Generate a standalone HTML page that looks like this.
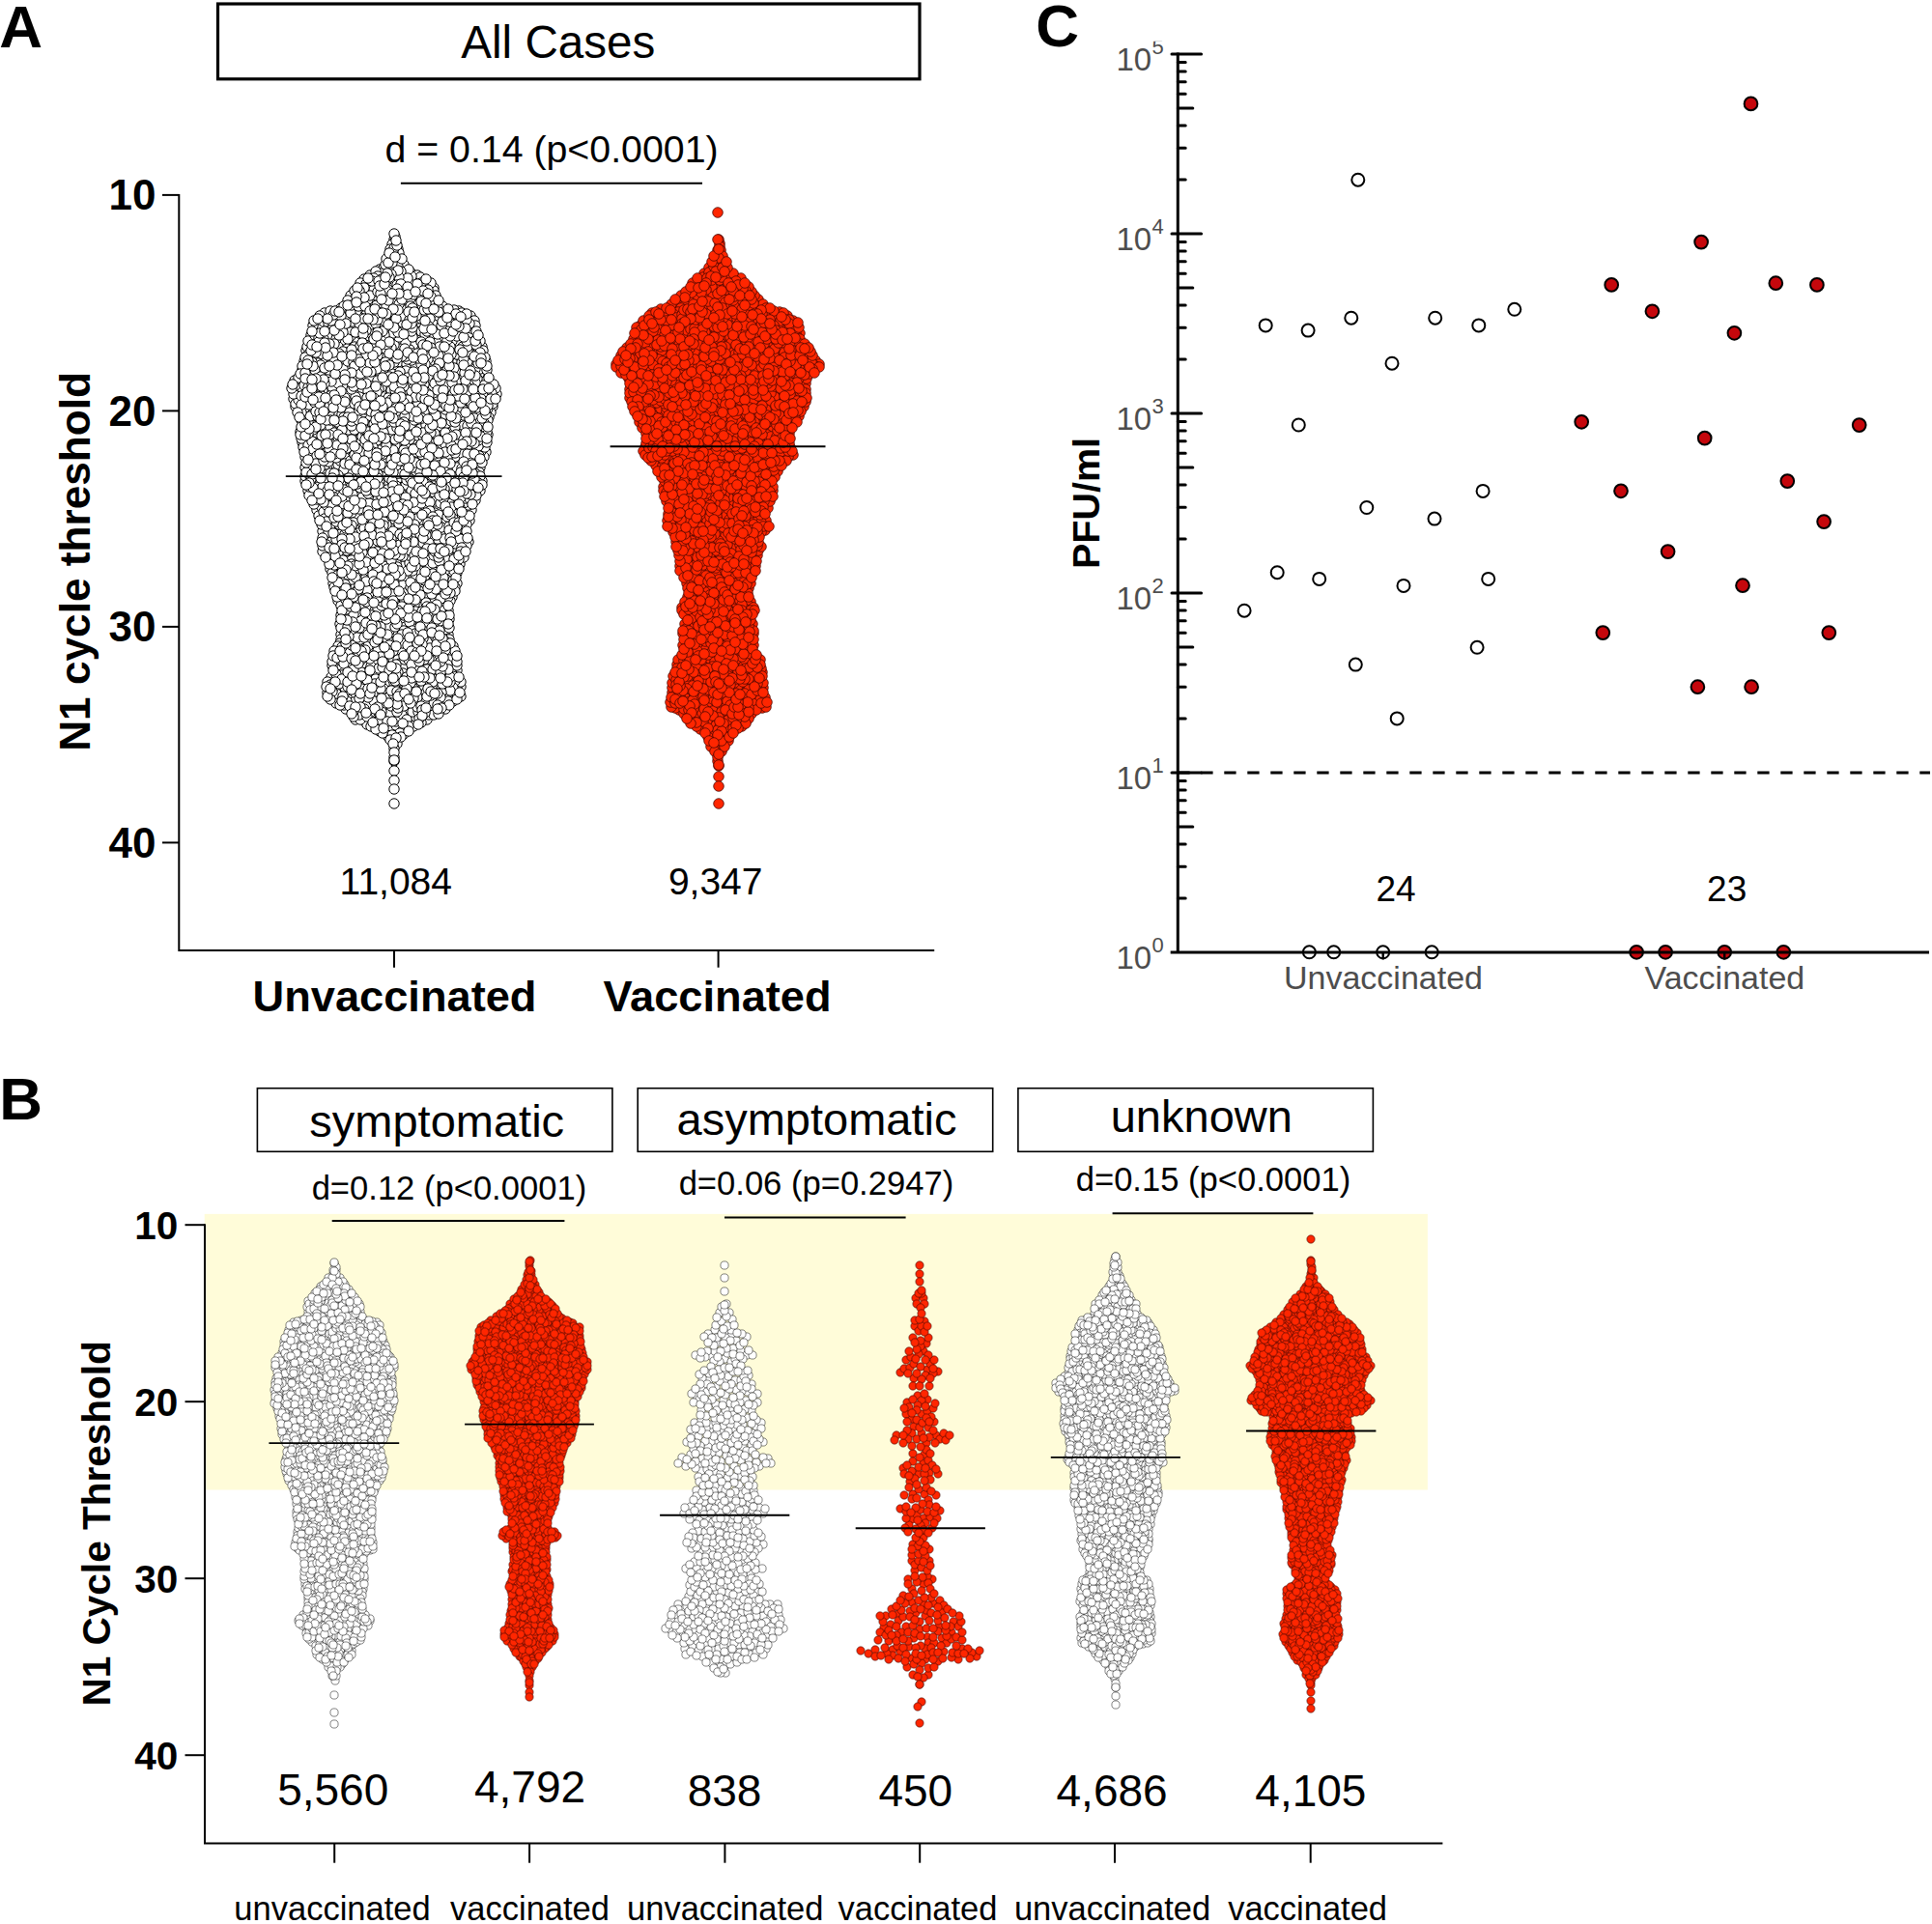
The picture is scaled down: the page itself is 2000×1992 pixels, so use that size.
<!DOCTYPE html>
<html><head><meta charset="utf-8"><title>Figure</title>
<style>html,body{margin:0;padding:0;background:#fff}svg{display:block;font-family:"Liberation Sans",sans-serif}.b{font-weight:bold}.m{text-anchor:middle}.e{text-anchor:end}.g{fill:#4d4d4d}.ax{stroke:#000;fill:none}</style></head><body>
<svg width="2000" height="1992" viewBox="0 0 2000 1992">
<rect width="2000" height="1992" fill="#fff"/>
<defs>
<marker id="mw" markerUnits="userSpaceOnUse" markerWidth="14" markerHeight="14" refX="7" refY="7" overflow="visible"><circle cx="7" cy="7" r="5.2" fill="#fff" stroke="#000" stroke-width="1.0"/></marker>
<marker id="mr" markerUnits="userSpaceOnUse" markerWidth="14" markerHeight="14" refX="7" refY="7" overflow="visible"><circle cx="7" cy="7" r="5.3" fill="#ff2600" stroke="#430600" stroke-width="0.75"/></marker>
<marker id="nw" markerUnits="userSpaceOnUse" markerWidth="12" markerHeight="12" refX="6" refY="6" overflow="visible"><circle cx="6" cy="6" r="4.1" fill="#fff" stroke="#0a0a0a" stroke-width="0.5"/></marker>
<marker id="nr" markerUnits="userSpaceOnUse" markerWidth="12" markerHeight="12" refX="6" refY="6" overflow="visible"><circle cx="6" cy="6" r="4.15" fill="#ff2600" stroke="#2e0400" stroke-width="0.55"/></marker>
<clipPath id="c5"><rect x="1185" y="42.8" width="30" height="20"/></clipPath>
</defs>
<rect x="211.7" y="1256.9" width="1266.2" height="285.6" fill="#fffcd9"/>
<polyline fill="none" stroke="none" marker-start="url(#mw)" marker-mid="url(#mw)" marker-end="url(#mw)" points="454,474 367,458 427,662 384,586 405,642 354,491 380,428 461,435 460,538 416,710 435,390 393,508 448,433 397,339 425,282 502,391 466,553 423,293 402,427 485,381 316,421 378,639 305,394 499,422 349,419 343,701 443,493 400,514 440,587 309,399 386,513 444,595 408,566 491,509 452,585 397,359 492,518 440,336 434,524 371,645 373,511 376,408 414,699 487,349 453,501 441,536 468,573 340,572 348,485 428,568 350,424 363,415 440,293 311,395 486,429 337,533 436,416 407,494 424,382 413,486 448,372 469,376 449,298 399,399 325,433 432,711 393,529 388,653 428,423 472,518 448,551 411,271 452,489 440,436 458,581 370,677 442,385 503,468 460,723 452,547 344,360 502,414 459,379 472,454 435,709 451,341 307,403 329,524 501,473 338,557 410,397 431,347 423,342 381,606 459,624 363,355 389,591 419,278 445,365 315,374 343,537 421,487 414,752 452,436 393,687 360,399 475,471 468,618 447,599 479,473 394,349 383,422 353,357 383,481 445,524 384,699 428,752 412,325 405,646 400,370 499,359 343,481 407,279 381,380 465,565 439,505 350,507 457,432 444,510 408,381 484,495 395,589 337,418 354,716 401,307 335,371 444,350 364,640 406,351 343,485 439,464 456,450 377,668 475,460 377,648 319,383 434,439 415,431 388,657 398,471 416,482 392,312 414,380 369,432 340,415 461,548 372,440 466,592 345,431 413,560 473,604 421,692 454,400 389,554 429,443 471,330 476,481 426,460 467,719 323,449 326,409 386,730 311,402 493,362 391,683 343,350 393,565 429,457 351,441 423,410 435,603 367,603 381,632 398,681 379,321 494,431 441,675 396,525 450,646 443,450 413,466 382,599 430,646 344,720 349,588 374,461 360,502 346,549 308,410 326,500 410,545 423,599 408,248 458,483 488,424 376,579 442,558 364,575 487,353 424,544 368,450 403,457 412,394 444,730 400,704 447,608 368,523 430,602 353,637 482,532 459,712 396,381 351,695 393,757 428,732 348,592 398,729 425,480 422,548 384,432 463,561 338,569 365,497 472,717 383,285 477,553 306,421 399,404 358,576 382,345 374,433 357,673 402,763 437,688 412,533 343,460 343,455 452,696 375,707 400,718 472,479 351,458 489,393 424,516 345,529 318,396 361,383 460,355 474,421 481,399 422,595 456,425 322,347 351,431 402,700 402,448 379,391 445,726 371,349 404,491 356,708 461,444 390,609 410,408 442,745 466,441 445,549 346,442 446,571 316,498 359,638 413,310 422,327 359,468 403,685 430,642 373,325 417,611 392,487 449,413 442,402 475,322 514,408 439,543 357,425 445,622 467,476 328,369 476,445 436,585 458,471 313,383 348,544 365,508 477,465 367,427 398,739 404,291 497,353 331,358 381,557 348,334 422,650 451,378 336,462 376,599 434,406 437,529 484,528 407,682 406,368 396,458 419,303 442,686 483,437 476,584 443,575 334,571 361,538 360,457 482,490 363,306 411,495 469,482 368,745 433,693 439,614 328,528 405,419 448,666 402,753 433,529 456,382 344,405 358,536 338,527 445,425 362,633 364,650 480,543 433,360 466,622 381,314 444,394 363,473 489,399 390,390 400,523 408,578 385,449 418,380 393,279 329,453 489,345 321,453 458,373 419,619 367,301 478,562 494,403 489,362 404,585 513,402 426,378 348,404 330,373 503,387 333,430 433,541 415,492 398,610 411,433 387,567 393,520 462,440 431,289 426,490 480,527 426,416 443,466 415,694 330,534 409,363 343,556 346,564 399,493 367,569 416,373 350,513 449,545 450,359 331,397 386,550 378,716 478,395 450,603 368,722 351,487 432,285 375,656 435,350 383,725 335,347 434,581 392,437 412,579 357,355 488,528 334,550 375,314 449,685 451,350 468,372 317,455 377,289 431,334 354,570 384,317 362,724 510,421 413,335 316,484 369,639 422,611 374,533 340,335 382,401 372,670 446,498 433,458 471,487 425,446 388,386 426,353 340,498 466,541 360,601 368,622 350,393 337,407 340,438 402,294 377,719 500,363 503,374 399,354 450,460 457,363 352,414 331,501 376,320 377,522 350,371 504,407 476,495 368,690 395,498 346,452 394,334 419,408 325,387 361,671 358,693 401,321 362,735 409,309 420,633 471,524 420,573 462,595 394,364 395,476 386,518 366,675 424,665 376,608 394,407 392,512 499,429 318,465 402,743 412,357 437,606 397,278 474,374 419,450 404,619 409,286 313,379 497,508 393,702 457,348 473,694 423,357 440,521 416,648 420,283 422,731 371,693 340,372 396,674 378,372 384,733 502,370 461,335 421,459 316,473 377,468 370,588 498,391 366,489 364,516 372,602 485,477 411,676 416,714 415,745 384,676 354,692 462,698 475,440 313,458 439,610 434,380 490,374 491,486 387,312 373,666 412,519 378,685 356,372 437,680 430,699 418,317 445,625 323,370 361,612 400,758 477,721 484,421 414,679 490,428 374,367 398,414 398,306 365,311 342,447 427,648 417,498 338,431 431,747 335,500 395,607 431,651 491,500 457,476 335,330 350,446 320,410 345,427 373,293 325,354 454,616 320,428 459,465 383,437 374,596 381,679 376,741 388,742 388,526 342,589 407,654 369,544 401,711 446,737 441,424 415,353 390,548 492,465 448,427 408,662 353,574 454,564 365,521 395,462 424,559 392,644 314,463 432,483 323,461 349,722 350,562 418,274 329,386 392,635 369,482 313,406 407,723 398,427 371,364 416,723 359,570 385,563 396,695 384,706 412,375 363,607 406,299 409,560 391,738 386,346 331,362 323,474 401,579 374,382 375,378 335,509 356,441 379,304 351,465 348,728 400,583 485,523 413,571 330,490 309,391 433,303 415,300 396,644 454,692 371,680 475,406 350,713 374,635 340,326 409,416 371,563 386,721 410,384 464,464 365,535 370,696 384,742 346,458 353,612 479,547 375,631 426,748 419,644 362,655 365,625 403,547 332,481 455,492 353,483 464,657 430,473 498,467 421,738 456,446 341,427 426,595 430,595 431,589 392,376 444,689 472,534 469,685 399,631 399,364 461,544 384,667 425,616 454,465 409,615 508,427 384,617 330,401 452,371 424,644 415,640 355,624 360,719 387,685 502,463 363,372 458,534 319,508 390,711 488,378 442,583 402,606 364,690 406,485 443,591 360,311 412,258 388,295 505,423 417,342 463,355 440,353 480,577 376,415 450,313 392,411 422,674 407,735 404,441 353,607 421,579 348,477 358,348 446,346 450,618 356,408 423,443 388,558 394,750 355,330 418,298 389,416 470,555 435,475 451,496 455,330 428,451 498,407 449,559 352,539 348,703 418,509 439,492 353,319 353,395 464,632 467,695 494,427 453,362 381,477 413,500 366,660 422,586 361,679 409,591 317,363 449,301 336,338 500,385 423,430 421,377 477,388 427,400 444,482 406,544 420,351 446,662 416,729 425,711 480,521 399,750 372,542 396,314 455,706 348,526 359,379 378,747 459,529 477,384 449,733 417,735 398,409 398,599 393,328 405,658 412,549 485,345 423,696 445,400 353,548 412,276 320,389 390,720 346,384 448,453 469,362 381,650 399,652 396,396 439,444 327,468 380,750 386,613 400,329 339,385 435,287 378,615 478,344 463,403 467,610 363,718 435,548 467,577 358,360 423,511 359,365 465,448 389,716 375,727 424,435 499,498 358,492 375,473 374,560 411,599 418,637 438,457 417,459 482,516 378,518 369,354 382,579 488,443 339,486 357,402 342,579 418,487 437,595 405,757 363,591 412,414 473,593 480,434 384,752 451,327 362,505 499,458 386,342 477,711 316,426 495,462 379,535 460,320 415,361 419,292 418,593 342,533 462,367 385,459 369,496 469,446 323,424 463,555 402,511 387,532 474,381 368,655 437,716 369,386 354,376 336,324 450,563 444,477 430,726 364,329 371,340 391,560 473,710 335,482 383,298 346,510 399,558 369,573 450,671 385,632 481,554 332,423 425,742 388,616 430,496 358,734 492,438 383,738 502,443 444,658 456,602 497,484 472,352 412,458 449,478 423,399 437,338 336,442 489,506 356,647 471,567 467,596 338,423 510,418 405,710 379,326 459,704 504,458 505,420 483,452 467,330 328,448 390,316 328,437 365,483 371,446 417,580 380,432 438,578 464,618 431,559 333,525 467,426 456,353 359,715 460,577 457,542 391,597 359,616 466,677 328,508 390,461 367,350 353,657 364,410 331,476 453,411 341,516 357,448 428,312 495,456 472,563 341,399 419,331 463,718 426,528 393,466 433,689 457,672 417,388 497,447 481,466 413,418 469,547 440,305 369,532 355,518 372,345 363,662 423,735 461,734 344,593 470,721 405,594 473,528 423,507 396,320 435,321 357,460 410,657 406,396 398,488 479,535 448,527 426,325 427,555 412,710 408,357 355,352 370,456 445,377 395,569 318,359 436,538 432,451 400,498 480,430 339,455 453,606 458,455 417,586 453,385 366,393 477,706 412,665 448,394 418,760 362,461 376,427 418,445 334,367 403,610 459,369 354,429 380,692 486,466 412,428 487,370 385,537 430,742 334,467 435,591 495,410 474,341 343,561 398,387 404,706 361,519 396,502 491,433 393,339 446,645 460,520 469,669 476,477 364,704 406,329 427,653 505,450 349,689 455,340 369,405 350,382 427,670 400,444 461,642 402,341 465,605 460,695 402,734 387,304 359,581 367,364 476,369 449,474 397,579 385,608 434,612 381,310 384,628 475,548 444,580 456,552 377,512 413,266 384,623 358,420 476,526 422,687 450,515 350,622 443,296 392,624 451,332 462,374 451,524 404,324 429,515 367,548 387,579 475,332 460,656 411,609 411,742 465,641 352,646 478,375 438,723 313,414 445,636 368,665 446,419 427,737 340,551 458,611 451,306 355,498 359,484 480,441 413,725 495,369 368,424 485,561 481,327 394,424 419,539 350,453 483,565 412,490 453,478 353,650 333,543 364,465 417,504 380,568 472,385 443,372 412,683 447,513 352,599 368,608 466,672 373,614 337,446 410,756 433,307 496,397 444,707 416,740 364,600 421,604 352,524 382,395 401,503 391,517 372,556 415,673 381,515 429,707 410,635 372,736 448,589 486,539 374,457 458,317 471,428 473,367 420,659 406,253 449,722 424,583 353,627 344,439 336,514 390,539 349,554 462,392 473,400 445,586 420,403 474,538 445,675 350,579 344,689 496,387 424,300 471,608 339,403 439,710 474,393 449,336 405,372 435,444 386,671 451,580 464,516 344,506 342,544 415,331 432,352 373,642 462,414 350,572 463,483 434,728 435,386 370,579 340,443 460,634 475,428 346,448 453,423 423,575 379,597 351,387 360,437 441,669 457,526 319,423 403,473 382,525 435,334 368,613 343,519 452,590 375,529 444,665 349,677 415,600 379,474 488,340 393,441 375,586 393,446 363,422 316,493 420,722 455,496 420,502 432,519 454,460 454,649 403,276 304,413 487,452 480,336 458,326 330,382 453,527 449,713 332,444 369,634 382,591 471,442 457,562 430,373 364,580 471,473 417,549 355,580 466,324 468,336 375,304 422,624 400,350 366,636 392,601 350,481 339,706 402,551 464,722 317,415 399,618 390,747 321,468 345,346 381,574 465,521 430,362 322,480 311,447 477,505 465,334 443,381 426,551 379,665 325,512 431,298 434,568 377,463 333,455 387,404 368,492 407,740 353,422 483,543 448,678 414,687 432,416 348,718 350,359 383,371 436,293 387,693 424,464 405,360 446,293 392,583 341,339 506,432 395,632 475,579 335,530 380,611 450,531 382,302 395,639 453,317 351,543 439,476 444,437 484,417 466,401 335,376 489,357 337,333 430,378 471,357 330,336 336,486 446,459 378,696 351,402 399,547 441,440 403,345 472,417 463,383 382,686 341,346 450,470 452,725 375,687 359,342 355,364 456,585 438,629 425,564 338,523 400,562 342,435 427,591 437,471 426,389 450,623 356,340 470,700 408,788 396,300 374,696 341,450 404,570 380,588 357,712 425,440 346,397 350,566 469,726 460,340 427,291 346,711 403,500 420,727 478,422 326,476 391,630 339,349 433,463 406,671 378,499 417,690 354,699 406,314 386,393 385,523 384,529 407,674 484,374 426,523 329,376 344,401 374,550 419,321 431,564 320,513 370,712 360,407 411,653 405,452 420,384 408,784 413,603 361,489 372,417 352,517 379,424 393,727 359,369 457,398 394,283 451,660 449,728 380,440 373,745 397,586 409,326 454,482 382,486 371,426 469,531 440,377 380,619 455,645 404,408 370,393 332,460 395,627 476,355 494,482 481,390 502,395 399,536 418,598 383,502 467,436 328,504 440,601 450,466 417,697 370,513 471,705 465,470 509,407 465,662 428,358 478,413 402,398 377,723 449,510 408,292 315,399 492,476 361,450 417,576 383,491 398,475 430,534 507,398 463,680 434,620 441,619 434,340 369,509 427,408 468,386 423,348 438,419 438,562 325,421 340,363 469,712 479,470 348,540 399,569 404,632 342,709 413,704 338,491 431,316 468,353 417,606 426,538 476,558 424,362 405,752 410,751 437,361 332,378 404,541 379,294 445,671 399,724 400,422 439,485 465,338 391,575 452,682 486,516 357,683 372,591 358,557 469,537 345,338 401,690 418,731 468,507 487,498 358,631 306,418 372,740 325,522 466,456 392,667 463,475 398,664 410,503 463,398 420,355 344,523 417,756 390,571 355,527 413,315 410,583 419,683 414,759 353,662 374,392 379,602 356,323 414,435 323,440 462,408 426,469 361,445 431,468 493,513 349,437 445,429 412,339 464,711 332,440 479,359 413,349 375,402 420,534 427,629 391,674 441,525 441,515 431,343 395,660 395,491 438,452 410,421 402,383 396,623 420,614 463,574 404,267 453,558 425,570 425,608 353,684 471,612 399,744 400,317 363,348 445,469 478,567 409,461 367,418 473,491 488,367 405,404 460,585 371,536 461,429 504,447 319,461 400,697 450,391 459,491 467,367 403,653 344,685 466,359 446,317 438,641 367,592 363,380 398,553 396,718 466,715 426,405 436,343 362,554 426,286 464,417 442,459 467,525 328,464 408,727 459,647 409,713 389,360 440,596 457,546 380,700 492,408 458,408 433,737 418,653 487,327 378,334 421,745 466,706 336,537 448,594 395,401 446,641 356,486 477,450 437,637 442,327 421,479 438,296 338,469 491,332 390,456 492,337 383,351 323,457 401,357 411,587 459,686 416,662 473,348 372,411 335,351 481,386 454,712 467,581 429,692 410,619 415,622 463,343 497,382 423,678 327,404 487,474 420,663 436,624 451,709 433,628 462,501 448,583 384,426 450,407 389,356 392,403 454,368 416,285 346,515 470,381 348,558 378,460 367,445 455,376 335,520 395,514 417,289 463,580 342,322 400,480 353,502 471,437 461,590 496,489 409,404 367,359 379,628 428,719 352,477 464,487 382,455 447,325 334,491 401,648 446,389 431,554 390,306 352,409 447,615 440,346 468,691 465,545 444,682 426,373 309,414 370,616 389,448 338,540 422,372 414,575 426,634 406,761 430,617 404,258 402,412 493,491 459,727 459,677 461,565 374,683 377,652 387,493 373,662 420,710 422,591 417,365 449,575 465,683 452,355 396,603 327,396 457,717 405,414 350,341 321,485 383,442 360,675 385,398 455,678 501,399 446,556 384,336 324,465 436,644 389,688 434,658 498,442 435,401 452,444 383,365 423,279 364,562 355,382 368,560 339,717 480,371 429,575 373,387 420,627 484,364 328,472 354,587 418,624 439,728 424,455 362,319 421,310 492,452 377,352 416,657 373,468 465,549 352,666 387,644 415,616 423,683 357,474 429,626 319,353 470,591 371,547 454,533 336,495 425,309 364,584 366,477 357,480 345,464 484,359 348,698 493,357 460,486 350,330 484,441 445,330 326,383 464,726 421,497 399,484 483,462 483,500 434,500 382,541 375,515 315,468 440,431 428,713 382,521 442,343 348,351 473,689 399,274 456,722 312,454 407,345 367,586 480,332 341,530 371,552 403,623 371,727 447,486 449,636 483,353 411,627 344,501 390,406 432,395 398,709 355,400 451,382 497,365 422,530 430,526 461,460 444,338 497,493 396,434 409,507 368,411 420,369 434,576 331,327 455,441 360,328 400,291 466,614 432,537 381,511 415,402 346,356 486,335 486,410 450,700 315,444 402,566 381,669 463,352 398,347 390,699 396,593 407,609 397,713 364,339 365,552 492,382 387,300 328,494 410,747 468,419 401,507 341,465 375,625 350,669 411,511 404,638 495,500 378,673 417,666 416,338 383,390 326,347 414,564 383,306 432,420 391,323 461,424 328,517 467,404 365,333 413,262 477,456 473,484 340,478 500,410 317,432 368,598 405,615 404,664 443,300 369,326 335,388 436,330 399,333 330,350 353,553 385,476 373,505 451,430 354,632 440,364 375,495 346,674 404,537 357,553 401,662 386,463 459,628 406,387 416,628 433,512 430,656 415,281 331,485 441,368 409,527 394,713 505,435 407,449 379,342 369,438 406,520 438,448 380,730 501,438 496,438 427,295 436,521 466,480 471,458 400,641 400,301 338,435 361,390 379,709 456,620 392,503 338,711 334,557 372,620 349,461 404,738 444,697 376,543 445,354 373,479 466,348 472,550 439,340 363,477 356,432 329,341 432,722 486,508 409,649 395,353 416,369 472,509 356,317 373,329 324,428 345,679 487,485 416,268 471,674 369,322 441,624 403,464 423,492 341,410 441,501 478,409 450,519 419,361 349,618 358,515 381,405 403,531 447,403 428,682 437,325 431,490 480,378 350,492 430,633 428,504 466,701 460,558 360,649 391,302 377,734 422,668 461,664 344,716 371,610 427,484 498,452 379,623 425,396 377,547 394,370 393,537 359,464 338,564 436,354 431,703 405,580 408,400 456,594 358,621 441,653 319,437 395,618 435,553 378,357 362,622 304,408 395,732 403,668 370,660 489,522 470,412 360,374 460,652 487,512 401,593 494,392 409,574 461,468 450,449 456,632 411,770 396,343 406,445 361,686 365,644 492,396 439,683 356,599 405,731 343,574 451,653 445,520 374,484 391,619 438,499 375,452 363,344 410,482 463,688 387,726 384,690 360,586 330,354 491,496 384,641 354,670 366,375 327,480 360,595 360,351 442,628 332,390 422,288 401,673 460,479 434,669 409,455 439,398 395,737 416,512 403,722 364,595 386,572 426,674 364,441 466,557 332,517 415,596 364,668 347,581 324,337 446,448 452,394 415,763 394,304 324,445 477,571 413,287 414,477 361,659 438,581 357,412 429,435 396,614 454,323 403,468 405,476 445,529 469,408 366,742 465,363 363,324 407,335 450,397 485,398 429,543 358,666 367,471 448,423 311,450 411,295 453,416 487,448 400,543 387,439 435,468 461,448 370,501 488,438 421,395 417,334 416,327 453,404 389,703 357,655 468,396 396,759 426,427 394,680 495,376 425,317 409,555 492,389 366,693 407,550 349,681 485,402 376,590 477,515 390,751 426,508 389,335 498,413 438,661 415,294 351,366 431,571 422,391 452,703 323,375 470,494 478,485 343,376 403,495 424,535 435,489 411,299 321,431 373,358 432,294 511,398 446,720 436,748 386,542 381,416 331,507 468,498 329,421 333,451 342,490 427,431 364,455 355,344 345,694 381,722 428,561 358,547 420,420 472,450 348,474 425,603 428,305 425,707 369,415 366,618 484,405 455,581 430,411 487,384 465,511 364,436 408,375 346,585 458,708 337,450 412,344 403,366 484,470 334,565 323,518 494,443 319,367 429,548 343,332 493,448 462,600 370,465 467,461 471,469 427,366 436,377 412,280 353,327 441,406 395,533 444,562 325,332 406,498 320,419 384,507 360,700 418,400 407,718 391,613 394,649 319,449 354,445 358,335 477,417 351,708 409,470 391,732 453,346 400,268 452,554 469,423 486,460 356,522 466,491 386,379 429,637 412,696 372,421 379,493 418,679 480,349 463,535 367,379 430,511 404,766 331,539 457,337 407,262 480,455 392,692 396,691 405,284 437,667 382,551 416,472 364,531 379,582 398,637 369,367 409,538 470,584 455,507 319,401 477,489 390,478 422,297 453,663 456,521 364,316 366,541 334,415 312,410 311,387 430,586 401,589 317,489 391,588 347,374 424,719 427,349 342,388 416,310 441,704 450,571 480,478 467,561 316,451 390,424 397,448 406,272 464,569 402,272 368,556 432,732 378,482 449,503 372,335 405,516 316,386 407,489 436,705 361,495 407,601 386,595 426,343 323,398 448,384 436,731 408,605 391,331 384,418 472,433 410,764 437,316 389,281 377,298 378,376 436,411 437,394 493,343 362,427 421,519 456,394 391,286 355,532 358,563 424,331 450,482 407,503 467,431 391,491 335,477 374,713 465,379 312,427 436,429 384,326 438,357 320,504 379,508 355,464 428,723 469,601 455,667 412,632 441,717 360,432 408,257 430,479 439,427 334,404 391,495 345,371 380,412 423,639 346,536 437,633 339,393 368,718 371,435 387,488 342,724 360,531 437,422 405,715 327,365 364,708 346,470 364,362 356,687 453,730 316,370 465,730 302,402 355,680 482,394 395,289 445,504 322,496 364,544 358,590 419,431 357,416 356,730 411,716 394,387 427,393 459,516 416,516 379,364 422,305 364,403 392,421 334,504 403,262 379,449 389,429 372,489 341,567 453,636 397,540 447,711 324,379 437,433 427,339 413,591 448,706 379,368 461,615 457,421 362,548 482,448 372,650 442,721 391,344 455,513 397,544 464,693 352,730 353,470 454,577 432,675 371,703 371,317 426,623 368,344 394,481 411,737 390,382 422,655 406,524 400,625 444,740 488,417 483,331 327,442 336,473 483,550 403,677 441,554 412,733 350,397 378,317 380,742 389,435 376,437 411,443 407,466 402,526 418,437 411,646 319,373 427,319 385,357 333,561 347,576 403,354 494,422 505,442 455,359 331,470 400,431 408,632 449,740 350,535 466,533 415,635 339,721 401,519 452,505 417,544 414,718 331,345 349,596 341,356 442,309 406,697 351,347 423,323 453,641 467,503 414,553 350,450 456,488 470,513 359,642 397,747 441,648 437,308 377,330 422,365 484,557 435,616 413,304 480,494 491,459 427,611 366,727 365,512 468,466 346,490 459,404 441,531 388,326 362,481 425,496 389,755 382,497 329,431 359,726 354,593 387,412 492,353 442,568 364,386 424,475 345,365 385,554 357,388 428,520 463,611 362,558 385,661 448,535 401,437 400,461 386,468 406,426 473,685 420,463 383,682 312,419 372,723 398,530 483,483 387,351 378,445 398,565 391,394 343,395 379,397 372,301 347,387 451,610 421,701 472,465 411,371 426,335 328,460 410,688 403,487 499,433 438,557 443,713 414,385 465,650 413,542 438,573 399,375 375,424 486,433 460,345 387,288 342,473 448,492 381,447 419,491 401,417 426,587 384,385 452,626 461,673 326,417 409,595 372,527 394,357 351,497 496,472 470,579 475,701 446,716 354,558 463,706 453,543 470,321 440,468 391,368 443,609 504,383 411,729 473,724 474,410 408,775 355,544 376,346 324,505 416,397 327,426 436,481 421,336 459,598 420,515 416,531 331,427 431,716 402,728 360,711 414,528 426,688 450,631 457,590 439,321 403,390 388,708 410,330 423,484 442,693 407,622 407,588 364,682 418,466 476,717 354,703 380,704 434,744 423,752 429,581 400,395 370,298 481,413 405,558 377,381 448,693 345,326 345,604 308,427 442,644 383,376 440,332 473,506 483,505 412,321 353,405 396,573 446,629 384,410 455,573 417,522 409,705 390,364 436,599 369,486 432,366 445,605 366,736 419,424 466,666 341,584 470,541 427,500 445,443 390,522 354,564 422,414 376,568 457,438 408,339 375,572 426,702 388,665 387,624 448,506 476,362 380,385 426,696 373,732 482,340 347,706 475,541 462,495 454,469 344,495 419,456 406,481 432,666 312,435 333,410 431,327 336,397 355,721 360,316 487,502 464,320 445,312 320,444 360,706 465,637 468,452 407,320 412,389 447,650 331,418 393,745 339,368 446,307 442,489 354,726 374,521 435,653 433,433 493,418 406,509 409,516 354,514 410,474 341,421 374,443 366,400 448,539 409,641 378,455 438,383 369,708 411,254 389,509 346,342 352,674 371,372 440,633 470,390 434,685 473,545 408,570 460,506 417,393 488,457 454,739 339,508 394,470 360,696 408,437 420,469 433,371 396,391 428,465 388,444 323,407 372,310 355,436 364,714 374,499 401,747 424,660 402,311 427,329 459,417 397,520 396,439 459,605 440,738 388,583 363,628 453,718 462,420 403,287 418,346 344,413 491,369 432,639 336,381 443,320 316,411 323,491 399,467 447,464 423,630 418,417 374,398 471,404 316,392 406,626 365,432 403,694 430,621 371,687 396,421 373,718 415,439 445,702 390,348 385,291 422,523 455,653 405,563 367,527 310,432 456,696 317,479 457,504 345,417 413,537 362,731 355,454 464,627 434,505 465,389 379,645 417,556 452,667 381,713 396,685 437,735 436,312 318,406 435,649 444,409 357,605 492,412 383,322 352,583 388,320 403,574 446,360 490,421 365,700 323,343 483,457 440,413 330,411 346,608 489,490 449,365 478,324 389,648 491,470 335,393 377,555 498,371 394,415 479,460 448,440 347,322 464,371 413,612 385,647 330,511 444,473 440,592 503,429 421,556 480,539 341,504 439,391 434,495 437,516 381,562 402,555 442,679 407,770 409,266 409,245 382,469 414,406 391,662 341,512 452,539 368,649 440,511 454,390 376,488 418,528 342,713 461,524 349,529 382,451 403,378 357,567 394,706 346,409 490,403 410,699 320,500 322,363 438,301 457,733 502,425 407,534 377,660 438,657 440,480 454,311 504,379 381,529 458,690 437,695 392,291 345,422 437,741 386,748 387,602 375,538 394,549 374,674 479,403 361,524 489,481 430,608 377,308 401,657 354,369 407,433 399,454 337,412 401,283 397,701 500,403 483,487 429,323 336,355 442,358 368,629 350,603 408,779 406,747 428,370 372,606 425,728 483,511 333,400 339,330 400,325 373,375 399,379 420,560 386,331 469,343 402,635 443,304 437,508 369,474 394,452 472,325 479,500 458,388 437,366 448,568 389,400 458,661 495,347 438,404 421,552 431,402 439,701 482,427 344,598 443,541 428,385 400,613 387,679 394,556 421,713 312,442 356,507 483,325 378,419 457,638 464,530 412,661 441,733 431,391 327,486 402,336 338,545 447,655 439,550 508,413 367,462 419,475 417,749 393,432 406,304 433,681 486,534 443,434 480,508 412,721 375,355 498,417 396,324 458,333 332,434 465,422 388,481 456,685 323,357 387,454 393,542 366,502 395,597 388,420 407,391 499,479 394,655 472,598 372,584 434,701 423,620 303,398 460,512 475,589 410,669 348,414 419,718 368,330 413,453 358,609 381,657 367,518 457,499 453,734 359,541 364,615 417,569 413,507 450,718 438,372 486,388 499,502 369,307 471,500 460,359 372,576 346,435 390,469 337,360 475,403 449,320 410,692 393,296 395,310 347,612 332,495 328,359 319,476 323,402 393,579 451,689 444,544 495,505 388,501 412,524 376,340 504,454 459,681 377,680 497,475 424,451 345,552 379,504 360,509 349,378 335,426 381,330 395,723 456,568 336,343 436,674 466,414 327,392 398,670 434,663 465,586 475,522 390,473 433,750 452,674 464,646 368,671 403,600 456,702 460,571 415,411 364,396 337,577 475,575 383,718 371,568 397,754 429,679 316,439 506,391 350,503 385,637 388,734 398,294 498,376 482,571 323,393 389,638 388,375 513,413 368,732 383,546 424,422 407,702 362,568 475,338 441,289 414,422 383,694 353,641 346,568 368,684 318,377 329,330 357,393 472,336 385,651 376,361 377,477 352,336 458,412 436,460 405,690 324,414 461,669 430,302 423,724 403,431 374,700 437,533 447,341 431,447 351,323 358,662 442,640 451,597 450,419 381,462 395,561 419,441 354,616 364,739 420,563 339,459 385,712 414,446 369,313 506,402 441,314 381,288 478,530 479,365 463,329 442,454 348,518 386,368 394,740 418,705 376,621 360,625 412,367 397,510 377,564 382,533 455,658 399,287 463,454 423,757 341,379 454,456 422,540 476,509 431,426 473,679 444,415 409,412 379,738 390,604 477,328 469,605 381,360 364,368 391,533 317,502 378,634 408,242 410,249 408,787 408,798 408,808 408,817 408,832"/>
<line x1="295.8" x2="519.5" y1="493.1" y2="493.1" stroke="#000" stroke-width="1.9"/>
<polyline fill="none" stroke="none" marker-start="url(#mr)" marker-mid="url(#mr)" marker-end="url(#mr)" points="723,340 730,330 683,335 746,376 824,410 830,395 690,519 751,434 765,678 675,363 709,533 716,380 785,310 748,489 662,379 736,744 813,334 810,434 782,493 752,401 706,313 669,407 692,477 759,715 656,395 705,560 739,500 694,460 774,454 691,496 670,440 718,580 699,540 713,383 828,345 700,484 721,637 714,336 818,463 733,570 829,411 699,357 720,439 824,346 757,523 789,696 677,360 758,722 702,551 818,381 747,653 719,467 728,398 757,653 831,391 790,712 730,543 748,392 725,671 738,722 806,377 778,481 760,578 829,398 785,363 676,402 754,468 715,646 726,667 726,362 777,724 788,435 748,722 806,359 694,414 742,294 834,397 817,449 692,328 767,468 685,345 779,715 776,591 698,319 718,671 741,321 759,511 733,478 739,560 668,463 745,421 678,421 730,381 810,339 765,715 772,656 682,378 769,688 743,548 746,689 813,431 715,599 758,677 742,629 758,502 768,357 681,406 751,754 701,450 767,746 782,322 759,616 751,653 773,466 725,309 734,546 748,577 792,549 745,618 676,349 727,337 768,494 711,475 812,426 725,526 699,526 835,392 764,319 768,541 718,692 742,485 820,423 794,417 773,664 717,554 681,427 701,688 741,375 695,341 673,417 688,371 715,707 682,393 741,405 737,764 689,447 798,375 760,449 767,435 740,510 768,500 716,663 802,332 768,504 824,389 767,341 749,295 703,735 728,707 724,455 754,438 693,402 774,543 718,605 792,507 735,368 663,411 727,459 710,718 752,465 774,321 745,252 726,353 757,365 805,364 806,390 718,613 722,572 703,372 650,364 688,329 806,471 678,437 771,434 746,495 662,437 791,535 660,408 708,480 783,427 761,573 692,337 686,458 709,583 791,367 785,317 715,719 652,412 784,575 749,663 777,695 720,487 726,299 816,365 751,475 656,351 785,570 649,360 782,504 774,574 721,403 798,491 638,377 677,373 769,303 700,500 750,637 765,686 760,526 702,406 701,392 722,347 745,322 817,390 793,328 751,559 805,433 793,400 756,333 791,457 824,366 661,343 717,687 824,384 785,467 817,341 696,537 780,536 691,354 771,469 770,620 733,515 807,323 705,527 709,435 729,628 757,608 697,450 775,609 745,669 740,667 714,460 798,379 714,344 825,406 775,512 715,405 805,488 775,450 721,426 703,701 770,573 735,510 753,458 742,413 773,366 708,708 757,562 737,503 702,683 687,338 709,722 736,345 761,595 671,338 759,695 800,508 778,581 750,334 712,740 638,380 799,327 652,382 699,425 745,430 806,336 779,454 799,424 721,382 735,327 792,722 778,587 772,393 693,435 741,577 804,326 755,605 759,335 658,418 757,304 817,416 754,613 783,540 822,392 754,738 788,566 748,479 686,453 766,353 739,731 726,492 762,314 681,478 643,386 774,581 779,734 774,418 702,509 699,505 745,700 751,765 778,683 844,373 741,400 709,405 798,411 737,382 778,707 769,473 700,561 707,668 697,551 768,733 746,596 653,356 719,399 706,629 765,610 741,478 765,690 712,618 751,673 734,302 759,669 832,421 660,403 651,392 763,489 752,597 761,518 666,467 748,552 774,686 711,512 696,717 705,492 720,657 718,512 798,441 729,283 723,714 764,375 659,366 780,656 704,436 684,423 747,537 767,656 766,480 715,435 719,721 778,739 754,665 754,569 729,637 690,390 731,681 777,388 701,315 737,398 814,384 773,697 733,378 766,643 725,333 773,623 736,413 716,443 824,358 712,727 712,502 784,719 734,662 697,398 745,649 750,423 816,394 690,459 754,521 772,522 732,669 695,315 723,653 703,497 728,446 681,366 687,325 723,387 769,313 794,445 794,497 691,441 673,449 726,291 803,396 772,410 661,347 754,284 741,565 760,421 826,420 758,749 664,352 713,348 728,438 761,287 779,646 708,575 743,259 650,379 717,500 775,744 724,468 718,368 733,723 708,506 676,459 752,722 734,719 707,346 691,365 765,668 766,348 790,315 670,359 714,581 737,517 721,313 764,433 756,642 785,698 663,337 751,641 767,385 803,415 709,338 738,757 779,594 696,444 796,504 748,745 713,465 729,515 783,381 711,487 706,342 720,699 758,567 715,522 752,353 687,504 834,403 718,704 752,304 711,604 786,463 775,566 745,526 765,647 725,435 692,387 662,370 835,366 717,586 786,349 771,713 815,327 782,731 799,460 699,733 738,378 729,689 767,288 760,686 808,414 718,301 750,531 733,500 778,320 725,751 684,320 744,248 754,319 798,346 665,396 726,375 814,456 822,402 772,329 745,724 784,519 695,732 750,678 760,377 763,541 741,308 763,552 746,533 737,470 676,444 701,692 744,473 762,566 775,538 797,437 735,332 714,527 772,562 736,309 834,407 698,352 800,446 709,529 700,333 733,348 800,504 740,678 730,717 734,644 707,386 660,375 710,462 750,527 718,648 794,450 804,405 730,307 722,743 750,347 729,593 728,287 766,528 693,345 739,386 669,430 672,469 735,496 748,762 743,300 755,759 754,692 811,324 675,395 709,694 733,750 772,507 730,673 767,428 827,431 743,614 738,465 708,739 793,539 697,337 774,614 742,772 715,699 706,364 774,527 689,455 722,419 723,321 765,311 755,342 813,470 723,489 758,627 780,653 708,684 761,353 716,412 734,701 694,508 753,564 734,759 709,350 733,519 764,710 704,719 657,385 780,563 764,440 786,387 774,379 748,729 694,425 794,406 727,610 740,525 774,312 758,631 732,610 732,728 763,436 753,660 712,704 696,712 775,443 705,421 783,724 734,277 796,455 712,542 790,473 653,366 736,773 834,416 763,682 848,377 752,549 751,290 777,372 755,494 742,695 776,552 805,482 748,456 747,591 726,699 808,332 773,672 747,556 734,474 704,482 727,729 708,381 713,551 687,508 734,428 732,436 782,705 730,685 664,362 686,366 755,432 752,534 723,442 752,731 722,581 768,752 754,370 757,327 694,472 720,378 793,319 799,351 756,359 735,687 703,723 812,392 644,375 738,572 798,452 801,389 718,575 788,541 784,565 727,539 718,505 729,602 758,453 731,641 726,687 769,332 785,373 808,369 810,360 665,357 752,300 666,332 806,409 679,332 734,463 701,415 774,481 766,564 799,473 776,383 747,443 740,747 700,420 757,547 672,422 754,382 780,543 746,773 781,306 777,577 723,294 752,709 713,422 819,351 772,307 702,517 667,411 815,442 722,361 714,496 744,622 827,392 751,683 780,357 733,384 787,724 799,419 777,623 786,503 750,405 724,414 724,371 771,388 773,708 771,683 738,609 788,551 804,452 763,614 694,727 715,515 732,557 699,521 712,700 733,710 702,513 699,532 713,312 787,394 745,573 730,376 708,542 738,304 718,335 722,606 740,710 744,660 714,394 762,661 781,385 781,389 772,652 760,654 748,600 820,412 704,586 779,728 814,357 767,324 710,456 759,362 741,638 812,416 685,363 771,538 714,439 746,307 735,682 696,503 717,678 712,307 648,388 691,539 770,660 728,656 781,457 763,343 713,377 742,737 699,366 779,515 741,426 713,316 711,342 802,411 801,337 745,314 789,351 743,734 758,340 699,380 786,524 748,273 680,417 806,424 711,659 747,418 804,460 821,355 706,691 763,509 739,653 688,431 795,341 777,458 780,668 754,656 703,410 779,519 725,725 737,297 722,719 685,488 780,419 828,378 782,331 762,590 772,384 715,341 656,412 690,426 663,366 711,681 788,476 691,324 767,569 708,425 724,695 737,657 772,503 772,692 769,512 766,459 670,378 730,490 723,556 754,515 760,472 755,753 778,302 715,573 765,636 676,430 723,595 770,372 797,509 746,635 763,300 772,439 718,394 737,280 717,569 790,432 798,407 726,534 737,354 782,586 754,527 737,694 721,663 754,362 688,498 707,372 755,479 723,567 737,460 764,449 708,701 695,355 709,355 763,626 743,416 737,492 732,484 691,482 796,464 703,382 686,382 737,713 780,488 709,316 754,637 682,372 709,398 714,418 756,686 821,471 685,405 712,413 756,594 750,379 699,476 672,403 789,733 718,592 683,401 775,297 703,458 734,282 701,472 724,365 802,378 732,587 714,684 785,561 652,403 736,374 748,310 767,397 772,598 726,478 757,490 719,364 716,633 712,670 797,356 767,661 812,365 737,290 780,700 751,555 729,519 734,405 733,399 790,384 750,657 728,529 729,703 749,669 719,601 782,480 719,340 793,323 721,725 769,648 732,372 760,707 668,384 749,644 786,454 754,498 776,469 720,331 697,417 742,674 760,620 801,322 750,440 740,685 784,415 643,379 811,405 705,319 784,344 707,549 715,538 776,411 736,323 823,373 747,778 741,521 702,323 708,593 783,735 737,441 753,445 669,459 731,300 772,494 677,353 775,648 725,755 735,639 742,389 652,407 754,767 717,309 713,564 741,570 726,379 789,325 698,487 751,703 735,606 695,530 753,336 703,357 768,680 736,748 767,674 788,380 756,349 821,338 737,513 777,677 713,636 720,520 730,533 828,382 723,660 790,707 734,338 685,341 681,433 673,346 711,579 786,556 727,388 777,363 751,375 761,634 684,446 810,473 719,372 756,288 720,642 735,627 704,388 720,326 784,422 686,374 760,467 726,429 743,608 764,483 747,641 743,591 729,751 743,664 806,456 679,482 726,393 701,362 731,366 705,417 738,727 722,515 696,707 762,736 740,599 760,407 753,507 727,597 751,714 731,511 788,692 673,384 729,555 789,486 753,726 742,357 643,368 743,788 656,406 731,407 797,415 755,742 685,494 743,458 802,400 723,648 713,506 723,733 803,466 801,366 730,613 745,481 658,389 700,491 770,721 740,778 674,356 710,328 781,697 760,493 747,471 757,405 777,498 720,471 721,689 748,467 724,485 786,490 733,763 775,627 742,343 733,733 772,631 706,632 731,321 699,495 755,538 749,323 731,316 717,293 714,361 722,306 777,531 745,354 776,691 744,273 694,516 728,721 693,374 733,714 787,416 811,374 803,357 779,472 790,495 738,456 825,415 821,332 745,681 680,339 659,339 716,640 838,387 674,477 767,378 726,465 817,331 741,517 823,342 690,422 763,744 718,742 820,397 698,517 698,347 722,674 719,476 743,409 829,426 741,604 818,408 679,384 708,636 688,418 778,549 748,706 763,417 767,614 737,317 776,333 726,605 697,325 818,404 684,415 785,432 728,713 790,461 756,486 780,414 717,535 709,730 722,738 795,526 722,561 740,622 807,430 785,334 758,414 711,443 732,655 739,592 767,420 768,590 704,543 761,401 737,752 740,658 768,409 730,344 732,540 761,672 778,572 763,330 808,402 750,512 668,370 702,547 719,423 759,283 723,705 721,633 686,482 763,602 757,355 697,700 749,546 746,630 770,677 724,357 803,342 798,400 802,370 765,370 727,738 744,581 758,598 773,354 834,381 704,395 770,380 756,449 743,713 795,485 734,593 720,531 835,412 740,648 668,471 797,319 703,425 714,591 709,410 811,380 739,717 828,351 688,413 685,437 672,464 700,704 652,397 719,450 767,598 671,343 741,595 761,558 768,524 758,658 794,469 733,312 668,419 738,690 692,419 640,373 713,570 744,560 754,632 766,622 707,656 790,545 680,345 740,634 766,581 791,377 763,454 735,578 816,473 688,347 789,700 717,725 780,629 802,494 727,341 814,346 715,471 706,461 760,604 693,358 701,399 747,484 676,463 726,303 667,423 793,424 769,453 700,719 752,593 722,543 655,372 781,374 726,683 797,360 736,483 758,435 812,410 768,556 725,590 730,506 734,563 838,371 704,591 699,556 757,441 790,412 741,751 797,519 744,600 709,646 752,542 733,692 722,577 824,378 687,477 775,714 775,733 725,639 788,321 740,334 745,255 750,741 737,391 775,668 728,585 728,647 844,379 680,463 746,395 769,667 742,452 763,470 726,504 780,348 747,414 772,301 799,498 700,329 738,618 780,430 713,447 771,324 777,556 751,313 783,510 784,550 789,420 784,325 706,407 709,623 712,519 776,521 654,378 731,596 759,682 676,378 747,515 724,407 764,493 726,546 752,628 663,418 709,524 739,409 736,706 741,588 735,542 745,290 762,291 764,497 753,746 716,547 773,555 689,409 777,604 745,753 719,597 775,703 695,383 717,710 731,414 786,472 794,338 690,376 680,328 746,259 738,418 735,632 747,508 782,360 817,335 738,644 727,512 676,414 722,464 704,469 823,433 708,391 713,327 739,431 686,442 682,411 808,468 740,553 751,359 762,703 720,616 819,439 708,662 810,449 684,359 812,370 645,364 740,314 753,669 778,353 821,363 719,549 708,598 761,367 748,265 746,563 698,411 682,459 695,394 724,601 794,363 769,706 789,450 774,341 738,736 748,717 787,533 710,588 708,734 671,474 772,345 739,338 663,392 770,603 795,397 681,352 753,696 747,287 736,488 766,444 772,587 766,414 748,462 791,519 785,403 690,510 787,683 801,487 813,331 741,361 743,304 764,696 797,371 747,737 782,397 749,371 668,355 741,467 735,616 718,734 748,625 764,593 758,637 732,746 700,429 695,722 774,399 729,624 774,722 680,357 803,428 661,385 716,303 730,578 749,329 647,372 676,343 705,306 694,542 799,394 745,372 754,700 759,457 767,389 693,407 755,422 700,709 668,394 675,324 745,368 729,524 778,527 779,440 760,477 801,483 807,347 735,523 787,688 817,459 732,443 722,288 784,546 704,377 710,362 711,713 793,732 771,738 759,754 751,607 692,430 764,523 825,396 784,708 752,484 706,326 791,356 777,485 731,325 733,470 772,749 735,431 730,664 773,605 696,484 807,384 773,486 785,410 786,702 747,500 761,506 805,446 710,651 710,537 786,499 732,356 756,709 719,729 746,521 725,403 745,503 713,373 706,510 662,426 664,341 777,642 836,384 769,299 763,389 695,440 833,388 772,593 776,422 754,649 828,356 814,477 690,319 746,387 756,462 729,450 777,632 727,581 768,626 740,448 671,351 688,358 749,698 785,440 665,443 759,649 705,538 771,703 708,468 664,406 709,566 733,393 710,494 678,398 827,339 750,773 699,728 759,743 733,460 671,364 744,349 706,330 706,476 764,516 666,439 771,742 690,395 809,439 724,495 773,429 764,754 728,455 704,581 748,409 732,574 674,455 807,373 723,679 682,441 671,398 776,426 762,718 749,343 677,409 730,698 810,453 776,654 762,357 709,484 836,376 760,536 732,335 754,678 760,728 795,476 818,374 672,327 774,405 742,727 778,378 733,602 727,643 664,382 747,301 706,335 682,382 744,585 768,729 755,717 743,784 727,632 788,728 732,526 742,767 758,532 737,587 750,389 790,525 773,499 736,556 733,678 748,319 802,456 818,345 809,482 830,405 792,502 752,428 714,357 727,417 752,415 807,477 660,356 804,440 681,455 753,393 756,734 734,506 785,459 757,387 781,632 717,348 747,434 685,474 790,465 737,452 688,471 722,511 742,462 757,315 771,718 739,349 769,608 810,385 756,673 774,350 679,323 737,567 736,666 768,632 741,544 765,365 819,368 738,435 773,640 752,687 816,467 761,372 743,277 686,386 775,359 803,420 710,302 741,506 738,475 692,532 750,497 781,437 657,380 715,297 689,437 681,488 761,545 677,339 754,552 789,399 686,396 764,465 688,402 720,683 764,295 729,734 719,344 731,425 785,339 749,749 762,530 747,447 793,491 730,660 729,369 753,503 832,370 741,325 783,369 721,432 815,423 746,603 769,367 747,608 700,437 765,475 715,389 703,575 698,480 779,672 709,308 732,288 783,474 778,719 744,743 713,631 713,492 785,483 679,467 744,267 742,690 704,440 759,498 775,737 749,633 675,388 717,454 781,498 705,453 794,351 717,446 753,574 779,447 777,493 788,529 776,316 718,416 667,337 791,372 712,642 697,406 743,756 751,419 751,366 658,360 696,547 690,332 775,477 779,636 728,348 721,752 801,434 667,416 724,615 718,716 673,436 724,329 725,424 709,377 654,416 716,619 735,598 719,667 760,317 742,436 706,486 757,506 666,378 809,328 713,735 758,542 766,703 774,727 763,380 739,276 718,696 728,421 726,575 723,298 707,715 768,464 780,662 727,410 770,349 733,581 743,339 711,388 718,351 762,412 731,620 726,662 757,573 777,436 772,534 790,389 696,431 790,340 794,480 728,474 817,432 778,598 708,321 759,311 744,331 669,449 716,560 810,344 802,477 694,521 781,484 696,389 840,375 765,652 704,401 733,636 716,479 765,576 753,325 758,702 699,724 735,363 737,675 757,587 783,443 802,361 782,530 675,473 707,430 735,447 729,694 747,767 751,492 801,384 738,741 746,282 740,700 646,383 752,583 741,281 765,335 725,521 708,499 734,553 712,320 722,710 761,397 733,737 703,368 761,444 782,525 723,459 750,613 797,331 768,320 718,356 791,395 771,337 826,425 761,325 765,537 727,617 739,614 652,371 729,652 686,462 788,337 761,665 814,377 767,486 829,386 702,432 669,454 767,618 764,727 677,452 754,578 784,715 688,514 733,456 747,757 743,719 691,545 673,410 702,570 742,493 729,565 738,662 679,390 747,359 718,524 696,361 768,699 702,344 755,399 773,636 817,399 695,456 807,419 783,581 788,509 820,467 704,351 755,763 729,572 717,463 756,582 713,451 715,323 811,444 787,429 779,400 789,344 669,436 719,495 653,361 714,399 770,565 748,338 750,518 774,473 704,710 749,621 794,727 780,314 660,414 737,359 731,631 730,360 742,535 699,696 769,518 721,501 776,432 761,462 791,334 760,383 817,361 760,307 743,318 739,671 736,286 778,503 725,530 737,603 712,675 710,628 745,326 705,565 759,347 769,639 699,386 769,441 751,648 723,627 718,315 672,331 739,329 841,368 721,391 734,352 692,380 762,429 685,353 777,368 713,653 703,706 751,396 714,731 806,355 719,622 745,747 780,559 785,354 718,563 728,747 707,445 713,693 753,454 792,348 753,616 702,478 755,705 728,468 716,385 833,356 808,464 780,408 664,387 827,402 708,440 748,383 654,389 661,421 724,472 735,535 706,502 756,375 813,463 743,655 729,725 739,625 825,437 803,351 848,380 767,490 811,458 784,691 742,644 704,728 813,451 818,385 839,364 794,430 696,467 712,609 738,403 820,443 675,368 731,293 837,360 707,726 772,644 756,730 699,310 694,321 710,558 749,451 709,450 713,431 706,697 709,553 712,480 757,556 743,761 751,735 766,361 777,346 771,414 727,482 790,469 717,320 781,462 730,402 730,742 684,331 715,330 744,513 755,601 736,530 826,334 788,330 762,751 770,529 766,585 748,584 753,587 768,328 664,430 707,570 821,418 733,754 767,393 746,363 701,713 829,364 721,748 665,434 693,500 718,541 803,346 778,310 728,559 672,373 743,497 703,522 708,490 717,629 795,460 681,472 701,535 786,515 787,360 673,426 705,555 700,566 758,739 810,352 741,706 708,359 759,689 760,732 760,583 716,429 769,483 682,325 691,488 686,391 771,460 712,596 760,550 775,660 779,687 745,567 765,740 742,529 780,404 761,610 737,549 771,424 741,443 813,399 709,333 714,353 790,481 761,641 730,759 771,476 740,482 746,439 749,567 689,342 792,532 665,402 734,767 666,347 716,656 761,645 739,365 780,468 715,484 793,410 737,271 737,422 823,350 714,625 702,488 768,534 725,563 794,435 650,375 714,532 682,386 648,368 790,717 764,732 675,335 799,341 841,382 796,365 690,467 753,277 797,432 759,301 720,410 780,552 771,545 749,693 741,394 694,350 774,375 766,306 696,377 765,544 764,425 701,465 748,277 748,427 695,367 741,287 766,560 667,366 692,535 710,546 729,677 723,551 735,623 788,444 703,339 710,689 725,622 781,711 758,322 754,293 744,489 778,338 719,482 719,458 777,393 815,351 707,653 799,469 755,310 712,367 745,541 783,448 724,439 728,501 792,439 721,590 712,426 838,380 828,368 780,341 737,526 796,392 717,491 666,374 713,614 759,426 764,606 814,435 771,293 700,445 760,482 716,738 771,445 706,678 763,502 773,549 797,335 809,395 776,306 779,326 812,421 779,567 726,383 750,571 739,265 708,672 729,296 843,386 764,548 657,345 782,591 715,749 769,552 714,666 688,485 778,508 688,492 755,409 735,649 671,413 696,421 829,360 763,338 739,538 696,512 739,769 698,462 833,361 769,449 655,421 723,400 728,550 722,586 700,455 692,451 756,418 745,402 695,331 800,514 711,744 690,383 660,397 757,297 807,443 721,536 722,527 692,526 692,504 830,416 796,382 657,426 755,473 747,712 716,608 744,708 693,464 660,431 817,428 767,694 750,523 793,514 795,387 708,517 685,468 769,403 731,389 755,622 762,724 752,271 730,432 722,396 778,465 727,323 708,368 777,561 743,382 739,369 765,405 739,582 771,362 771,316 790,404 669,444 759,759 723,611 782,683 783,678 780,423 788,424 704,531 744,793 729,497 770,579 770,584 798,479 775,618 723,449 766,719 750,281 699,373 724,317 764,631 693,492 747,674 821,427 731,418 773,516 656,401 818,454 680,449 727,312 710,419 733,410 831,373 671,389 757,393 781,366 796,545 773,570 743,248 744,258 744,781 743,220 744,792 744,804 744,814 744,832"/>
<line x1="631.6" x2="854.5" y1="462.3" y2="462.3" stroke="#000" stroke-width="1.9"/>
<polyline fill="none" stroke="none" marker-start="url(#nw)" marker-mid="url(#nw)" marker-end="url(#nw)" points="406,1427 380,1384 377,1516 323,1683 289,1466 369,1367 382,1465 330,1447 353,1625 291,1445 325,1388 333,1694 297,1408 361,1566 339,1517 326,1583 372,1592 366,1477 355,1378 328,1535 294,1409 368,1655 308,1408 373,1453 372,1505 379,1564 374,1382 341,1409 322,1602 372,1542 361,1672 315,1679 308,1586 340,1702 334,1335 333,1579 361,1503 328,1557 364,1424 338,1633 322,1439 350,1598 364,1487 334,1390 387,1404 374,1498 302,1461 337,1585 322,1613 373,1446 380,1582 310,1542 330,1583 337,1382 383,1678 342,1515 327,1698 310,1521 314,1369 319,1613 338,1330 371,1455 304,1377 324,1631 356,1710 318,1674 337,1376 295,1481 320,1637 390,1369 325,1659 382,1414 335,1573 329,1547 371,1696 377,1374 377,1406 346,1479 364,1527 387,1437 364,1501 343,1667 315,1534 338,1695 337,1386 313,1518 344,1577 346,1556 392,1499 340,1509 299,1533 327,1651 338,1442 312,1591 361,1400 372,1350 304,1475 306,1550 298,1485 355,1449 326,1526 332,1421 376,1502 383,1676 346,1390 331,1587 345,1436 368,1549 296,1511 301,1375 384,1420 377,1433 300,1487 359,1551 359,1619 342,1425 367,1651 371,1693 347,1517 347,1382 327,1634 340,1565 351,1438 376,1534 348,1702 322,1576 320,1497 299,1377 345,1442 388,1542 357,1688 313,1584 338,1642 338,1461 344,1408 385,1381 353,1339 350,1554 397,1389 351,1382 354,1382 308,1496 377,1393 381,1588 356,1616 345,1530 377,1609 379,1500 342,1374 345,1371 331,1569 391,1446 369,1414 327,1357 371,1664 329,1441 319,1347 381,1600 374,1410 354,1632 369,1505 382,1533 301,1530 354,1544 403,1466 349,1473 380,1574 330,1393 311,1426 338,1365 378,1367 287,1458 383,1431 337,1680 382,1547 338,1407 286,1427 308,1485 362,1548 361,1486 316,1493 312,1527 307,1442 364,1571 297,1471 373,1358 368,1534 320,1395 325,1496 359,1612 368,1490 369,1521 324,1358 346,1605 350,1709 306,1397 315,1373 308,1378 334,1698 345,1690 358,1401 353,1496 378,1554 364,1691 326,1461 405,1425 319,1593 329,1468 360,1678 334,1358 358,1682 338,1556 333,1533 391,1462 361,1344 324,1410 379,1541 346,1327 309,1599 336,1661 338,1370 314,1485 362,1351 323,1560 361,1359 292,1401 334,1425 298,1440 316,1640 401,1429 345,1375 351,1523 354,1481 330,1459 366,1547 327,1695 335,1617 358,1486 326,1339 304,1369 350,1691 349,1448 354,1532 355,1705 343,1638 399,1435 337,1347 367,1348 336,1483 322,1598 381,1404 351,1615 331,1338 351,1406 317,1584 396,1514 295,1433 326,1623 323,1652 371,1559 376,1645 386,1540 356,1599 358,1717 360,1596 311,1551 394,1391 358,1353 386,1597 373,1583 395,1461 352,1474 352,1589 342,1620 304,1429 329,1553 301,1385 372,1362 347,1713 291,1418 294,1389 367,1376 316,1531 308,1523 329,1544 297,1411 363,1370 341,1554 310,1555 333,1611 328,1485 304,1493 371,1474 309,1474 369,1583 346,1645 342,1521 373,1516 374,1414 323,1349 327,1442 345,1459 313,1573 313,1387 341,1343 384,1582 341,1706 329,1649 311,1381 310,1418 313,1390 401,1463 333,1590 406,1431 351,1519 341,1336 312,1372 310,1375 356,1534 316,1566 405,1461 342,1611 360,1623 339,1560 382,1511 307,1438 363,1417 340,1546 393,1467 297,1526 337,1656 347,1414 361,1335 350,1347 331,1526 389,1493 368,1363 302,1508 359,1510 312,1367 387,1462 394,1448 349,1470 389,1377 365,1497 333,1457 348,1364 313,1499 300,1427 339,1604 329,1493 332,1430 349,1425 322,1450 317,1537 381,1422 341,1328 304,1468 375,1530 334,1702 356,1582 314,1438 349,1354 359,1518 389,1535 355,1485 374,1561 368,1426 321,1400 322,1444 332,1332 321,1431 327,1561 365,1357 398,1438 337,1671 333,1710 335,1634 368,1621 360,1416 387,1520 347,1520 366,1463 357,1330 345,1720 352,1323 350,1441 344,1657 389,1502 335,1521 393,1433 395,1380 303,1533 364,1687 322,1373 406,1439 350,1350 356,1371 373,1388 322,1692 343,1650 385,1433 355,1454 355,1402 322,1594 375,1648 316,1645 315,1513 334,1538 384,1519 364,1603 367,1560 332,1478 381,1492 314,1430 358,1369 359,1338 359,1579 382,1540 373,1450 305,1510 357,1608 319,1387 344,1609 404,1405 362,1539 357,1530 368,1496 387,1538 352,1580 360,1653 340,1384 354,1670 345,1525 294,1405 336,1416 385,1569 350,1663 360,1675 342,1562 329,1689 338,1639 349,1389 296,1426 404,1411 340,1712 337,1564 400,1467 315,1381 365,1353 335,1592 317,1686 302,1538 318,1626 365,1504 307,1508 313,1537 377,1589 367,1574 348,1315 366,1683 323,1700 384,1468 329,1415 335,1536 378,1472 346,1669 341,1719 319,1441 358,1522 393,1533 346,1492 327,1500 373,1552 334,1498 354,1436 377,1441 375,1493 328,1602 332,1473 371,1421 376,1619 374,1607 340,1645 356,1389 336,1664 383,1425 328,1576 341,1686 292,1485 399,1405 363,1519 384,1403 350,1510 364,1399 321,1531 380,1482 367,1541 393,1408 328,1630 347,1378 340,1333 291,1406 319,1391 351,1483 359,1630 301,1395 309,1582 330,1614 354,1440 334,1516 325,1431 318,1634 312,1558 362,1689 364,1709 318,1546 357,1502 353,1584 345,1357 338,1569 352,1431 336,1433 369,1601 313,1554 349,1490 307,1565 360,1430 382,1450 358,1493 323,1502 344,1587 346,1637 385,1390 375,1669 348,1485 350,1637 312,1400 384,1590 338,1480 391,1512 310,1490 310,1413 301,1398 321,1588 365,1622 346,1709 393,1399 319,1358 356,1666 339,1549 392,1424 330,1700 345,1717 370,1651 316,1550 340,1387 333,1664 339,1420 350,1478 318,1617 308,1590 386,1480 345,1560 329,1476 331,1335 303,1426 294,1446 378,1415 376,1683 329,1514 319,1582 318,1353 326,1553 394,1420 345,1581 375,1586 366,1396 340,1726 350,1434 322,1352 296,1390 355,1424 373,1367 292,1455 319,1622 359,1661 328,1423 373,1599 318,1551 372,1428 324,1564 331,1495 377,1453 360,1584 355,1519 373,1509 336,1469 335,1566 366,1530 317,1677 351,1548 321,1673 341,1466 388,1515 360,1576 373,1442 314,1506 346,1553 331,1361 327,1400 293,1441 348,1580 353,1428 335,1420 353,1335 365,1485 320,1479 317,1427 371,1529 349,1587 352,1457 361,1536 291,1479 350,1643 365,1551 379,1549 311,1561 308,1405 346,1699 308,1603 324,1610 380,1453 329,1580 401,1479 385,1486 333,1453 364,1394 304,1542 355,1604 341,1635 304,1520 310,1389 365,1345 346,1337 387,1470 323,1473 309,1371 391,1475 351,1566 335,1429 391,1410 319,1655 331,1537 323,1457 380,1561 299,1431 324,1665 337,1343 355,1327 377,1547 341,1673 383,1508 377,1491 339,1505 353,1673 390,1426 389,1442 339,1662 338,1430 315,1635 338,1423 372,1418 330,1482 390,1401 371,1630 347,1349 408,1416 376,1572 385,1517 341,1580 382,1476 393,1403 348,1548 353,1418 358,1409 360,1571 402,1403 299,1510 354,1723 348,1454 312,1495 332,1470 340,1527 360,1460 358,1603 398,1476 370,1605 320,1573 339,1651 322,1422 354,1346 361,1592 385,1550 299,1435 367,1611 343,1557 328,1390 338,1659 351,1697 306,1499 340,1346 372,1461 367,1417 391,1480 358,1446 351,1621 333,1464 380,1419 307,1540 355,1676 362,1381 329,1462 322,1669 350,1595 326,1639 349,1654 295,1474 307,1531 324,1452 332,1512 347,1693 340,1534 381,1400 357,1475 346,1732 338,1649 384,1489 372,1566 364,1594 341,1500 341,1493 338,1361 329,1435 383,1605 354,1636 313,1488 370,1477 391,1379 317,1691 386,1497 386,1604 337,1614 366,1672 298,1387 342,1364 320,1619 371,1393 324,1483 356,1478 301,1438 306,1432 307,1520 359,1599 368,1460 333,1382 348,1676 362,1579 374,1595 354,1713 341,1512 313,1445 401,1415 403,1469 380,1387 367,1628 322,1494 364,1413 307,1390 345,1727 362,1684 333,1417 380,1487 337,1495 352,1331 327,1692 289,1412 363,1428 361,1451 371,1686 368,1457 342,1614 345,1453 371,1549 313,1405 373,1539 385,1413 337,1509 299,1401 360,1561 329,1622 314,1672 327,1404 353,1618 326,1516 365,1459 342,1623 328,1471 332,1669 363,1582 317,1437 357,1621 362,1466 356,1457 360,1687 376,1477 401,1424 311,1447 398,1428 316,1389 320,1697 379,1510 310,1605 317,1576 364,1695 335,1668 319,1560 341,1542 375,1557 406,1458 309,1482 328,1511 399,1393 359,1463 367,1675 339,1593 318,1669 365,1640 355,1701 356,1417 351,1612 335,1400 337,1578 304,1439 394,1503 328,1370 306,1597 325,1636 353,1464 397,1465 309,1445 372,1602 296,1523 347,1345 391,1496 358,1451 296,1417 364,1625 310,1396 330,1663 334,1677 367,1679 399,1444 341,1618 363,1597 288,1415 385,1493 330,1517 314,1603 298,1482 332,1368 344,1505 335,1561 329,1637 368,1451 372,1679 380,1544 370,1432 343,1418 313,1491 371,1440 295,1458 298,1424 364,1678 326,1508 372,1576 351,1395 323,1639 389,1456 351,1624 369,1378 380,1391 343,1694 312,1565 354,1716 364,1510 358,1692 384,1457 402,1450 376,1436 308,1545 362,1420 328,1660 337,1352 348,1323 367,1448 363,1514 328,1375 343,1445 397,1456 318,1465 356,1547 377,1635 340,1358 326,1449 381,1553 313,1521 295,1519 330,1380 352,1460 379,1463 334,1350 332,1450 341,1377 355,1681 320,1487 357,1715 365,1534 293,1420 344,1502 322,1460 335,1688 322,1591 392,1440 333,1406 300,1464 363,1704 349,1458 355,1359 288,1405 359,1525 334,1531 315,1543 391,1430 364,1456 340,1451 372,1556 335,1607 346,1664 395,1388 345,1343 345,1544 346,1427 354,1586 321,1454 333,1674 341,1381 314,1675 373,1589 325,1385 304,1391 307,1394 322,1392 347,1724 357,1574 354,1561 356,1694 331,1657 336,1488 326,1663 371,1490 373,1404 327,1588 375,1652 356,1627 301,1412 369,1501 365,1469 348,1330 307,1427 369,1681 301,1483 334,1397 306,1382 352,1700 345,1629 318,1368 336,1478 349,1659 337,1645 341,1459 353,1371 290,1457 401,1440 361,1496 359,1664 367,1692 289,1441 407,1446 367,1513 357,1506 371,1675 341,1436 333,1524 357,1658 350,1671 284,1439 303,1407 373,1655 306,1504 372,1400 298,1457 299,1415 350,1420 331,1444 326,1675 340,1349 371,1647 381,1683 337,1703 347,1405 360,1647 339,1523 343,1433 400,1397 323,1642 369,1588 383,1473 290,1450 343,1387 349,1403 366,1380 380,1514 394,1395 364,1633 362,1611 352,1726 346,1649 326,1686 394,1477 359,1422 333,1630 352,1387 306,1457 334,1393 361,1340 333,1371 296,1460 311,1404 344,1626 359,1590 313,1540 349,1481 321,1535 388,1531 340,1607 349,1503 339,1601 361,1587 305,1529 331,1357 307,1417 316,1480 408,1413 357,1498 372,1412 381,1378 337,1451 383,1407 343,1573 336,1601 362,1600 368,1410 307,1470 375,1402 358,1543 311,1423 345,1334 307,1424 325,1446 364,1575 399,1422 325,1479 328,1353 358,1483 359,1500 394,1464 341,1431 328,1539 316,1562 364,1656 343,1725 380,1374 368,1517 362,1442 343,1339 323,1397 342,1370 353,1398 345,1319 335,1642 299,1499 338,1573 365,1613 318,1642 348,1500 350,1559 316,1557 327,1704 387,1524 348,1444 385,1534 350,1327 343,1428 359,1396 329,1489 337,1515 362,1403 341,1536 338,1335 334,1528 367,1443 334,1557 376,1576 363,1462 293,1413 346,1475 303,1504 300,1516 366,1584 327,1520 359,1437 341,1404 349,1608 369,1353 396,1397 344,1499 340,1693 298,1380 320,1610 345,1660 383,1453 359,1411 299,1421 314,1478 327,1670 310,1548 372,1494 330,1564 304,1399 347,1419 330,1342 337,1630 317,1476 330,1403 332,1347 341,1355 327,1567 374,1677 333,1602 311,1534 379,1591 357,1678 338,1706 351,1678 285,1450 327,1550 359,1350 390,1521 358,1466 378,1447 368,1468 353,1411 340,1589 355,1660 395,1530 316,1524 322,1491 367,1579 366,1665 353,1540 326,1419 364,1451 374,1465 349,1429 321,1427 342,1397 332,1713 322,1512 338,1468 405,1421 342,1568 353,1551 314,1464 368,1614 325,1379 295,1430 343,1592 393,1372 326,1343 303,1516 366,1408 307,1451 402,1408 290,1409 368,1526 338,1426 343,1518 297,1508 322,1634 355,1350 397,1450 298,1521 319,1372 354,1610 369,1384 298,1478 340,1485 305,1545 326,1436 284,1453 347,1740 389,1374 379,1606 333,1490 320,1350 308,1385 344,1414 361,1471 321,1476 320,1437 355,1490 325,1368 353,1686 342,1391 307,1593 325,1646 319,1604 375,1369 319,1510 362,1681 338,1698 382,1565 386,1416 400,1472 321,1408 327,1457 367,1369 344,1547 315,1591 366,1481 307,1557 353,1719 334,1414 371,1370 406,1434 321,1464 370,1573 311,1477 307,1515 395,1440 369,1372 346,1308 390,1419 349,1633 349,1563 385,1368 285,1443 303,1497 309,1678 385,1553 363,1700 300,1495 397,1401 335,1604 323,1551 297,1443 363,1662 355,1590 336,1547 378,1527 341,1530 362,1364 363,1556 307,1420 372,1613 321,1434 354,1409 374,1544 379,1469 338,1689 337,1531 359,1426 346,1432 328,1382 361,1709 380,1478 321,1648 320,1644 346,1599 357,1384 315,1456 331,1353 375,1363 351,1486 381,1594 323,1424 378,1523 348,1615 387,1421 355,1367 319,1457 365,1444 345,1613 380,1394 337,1474 394,1494 390,1452 378,1600 331,1408 387,1454 399,1452 345,1684 301,1449 318,1629 366,1702 337,1527 327,1592 338,1610 388,1488 335,1507 349,1466 331,1703 312,1481 317,1611 374,1527 395,1483 339,1395 302,1466 346,1571 320,1579 331,1507 292,1429 317,1410 340,1576 369,1434 294,1470 383,1393 357,1430 333,1363 326,1612 352,1379 352,1592 353,1356 352,1502 316,1588 327,1571 400,1412 308,1368 325,1375 332,1561 362,1385 340,1323 342,1601 313,1683 378,1672 336,1552 349,1576 401,1419 348,1666 385,1529 389,1498 370,1386 358,1633 319,1659 342,1442 328,1503 310,1429 294,1393 304,1404 387,1484 372,1501 363,1435 346,1471 344,1641 369,1407 394,1487 373,1626 352,1423 349,1591 371,1671 343,1646 328,1452 348,1319 338,1492 353,1452 349,1726 307,1569 333,1552 348,1312 324,1413 324,1364 376,1627 378,1371 378,1438 390,1505 388,1390 373,1616 333,1378 344,1383 359,1381 342,1670 328,1713 375,1604 371,1608 350,1572 375,1474 344,1404 383,1479 326,1465 354,1493 392,1515 388,1528 377,1561 407,1453 348,1735 346,1361 299,1390 332,1576 379,1459 309,1455 369,1700 361,1693 316,1682 361,1607 381,1603 319,1375 368,1571 323,1470 327,1709 326,1529 312,1588 300,1372 386,1398 336,1675 377,1400 353,1654 381,1381 351,1493 344,1483 295,1463 355,1523 373,1698 355,1421 326,1469 297,1503 292,1466 359,1388 353,1694 363,1542 374,1407 335,1715 320,1680 373,1512 348,1408 323,1361 348,1551 342,1552 367,1617 388,1413 332,1639 354,1445 314,1418 294,1478 362,1532 378,1397 397,1413 388,1385 334,1409 342,1479 303,1416 376,1567 378,1411 386,1465 329,1672 292,1423 312,1544 375,1674 314,1599 309,1434 383,1396 375,1564 310,1460 301,1423 387,1545 313,1434 325,1487 379,1475 384,1501 340,1439 339,1373 337,1454 288,1445 374,1457 378,1585 316,1468 384,1586 353,1577 378,1456 378,1444 332,1608 367,1644 291,1460 397,1418 320,1690 344,1379 335,1460 334,1440 361,1367 391,1528 356,1537 362,1354 326,1620 323,1695 359,1534 322,1555 312,1457 335,1654 386,1511 342,1677 388,1474 391,1487 349,1529 393,1415 376,1418 368,1567 377,1624 358,1333 374,1636 333,1685 367,1523 338,1626 377,1378 399,1447 311,1531 346,1401 312,1580 360,1477 320,1521 376,1460 384,1544 337,1404 313,1461 340,1476 328,1396 346,1468 326,1643 355,1395 337,1711 346,1673 308,1562 330,1646 325,1350 334,1651 318,1406 382,1461 341,1699 304,1451 315,1580 335,1512 357,1674 342,1474 356,1515 349,1385 402,1432 373,1471 362,1666 362,1650 317,1413 353,1707 300,1506 348,1730 365,1660 321,1356 310,1502 311,1436 354,1564 370,1667 369,1350 285,1416 320,1513 344,1735 354,1507 347,1507 345,1567 384,1578 320,1447 320,1548 298,1530 333,1569 365,1366 288,1461 302,1457 316,1496 381,1456 349,1495 348,1625 295,1422 404,1453 348,1375 334,1493 377,1465 361,1639 319,1564 377,1507 324,1406 397,1469 358,1638 342,1653 336,1543 387,1372 349,1602 376,1686 365,1362 291,1437 376,1513 356,1472 316,1400 382,1523 358,1490 341,1641 374,1659 331,1500 382,1516 369,1402 372,1620 313,1503 353,1658 377,1632 371,1586 326,1574 320,1524 285,1431 361,1626 326,1542 387,1428 316,1488 308,1573 326,1626 369,1446 407,1443 318,1431 369,1598 314,1413 322,1404 335,1583 306,1436 354,1647 318,1608 384,1557 290,1469 317,1508 364,1619 358,1696 292,1482 367,1439 363,1637 358,1373 360,1530 285,1409 345,1510 367,1695 312,1378 319,1528 325,1346 317,1394 295,1436 298,1398 365,1388 374,1485 321,1379 357,1393 370,1546 346,1464 354,1342 305,1444 365,1373 351,1415 294,1490 341,1630 375,1549 398,1479 375,1537 287,1421 356,1570 394,1411 388,1450 301,1473 330,1426 315,1632 322,1527 318,1470 293,1397 348,1525 375,1666 360,1713 307,1553 375,1421 381,1527 333,1548 348,1640 335,1588 369,1638 382,1439 332,1486 360,1635 344,1346 354,1352 364,1653 321,1414 367,1343 356,1412 317,1447 311,1515 377,1485 358,1440 357,1356 345,1495 357,1563 358,1377 344,1535 300,1490 371,1595 324,1533 362,1552 368,1429 322,1605 394,1521 373,1479 392,1384 328,1367 393,1377 312,1454 331,1599 303,1490 386,1601 356,1684 391,1437 383,1445 332,1682 295,1514 374,1695 343,1730 319,1557 381,1371 325,1394 322,1388 295,1451 367,1635 368,1389 368,1394 289,1428 385,1526 382,1504 362,1456 377,1679 317,1378 385,1441 351,1363 344,1680 397,1425 316,1500 327,1606 356,1406 346,1386 346,1398 370,1471 295,1401 337,1457 364,1675 402,1437 315,1627 342,1352 358,1671 329,1531 359,1557 297,1447 326,1654 334,1705 333,1622 345,1632 358,1644 319,1451 330,1592 353,1569 323,1418 336,1355 371,1487 325,1355 322,1662 325,1537 323,1343 338,1411 297,1489 318,1363 330,1706 335,1330 314,1385 319,1663 352,1640 307,1488 359,1701 339,1339 324,1581 375,1468 298,1405 300,1468 347,1610 407,1409 357,1651 367,1669 356,1559 373,1571 334,1718 377,1480 399,1485 333,1343 377,1596 335,1576 362,1474 346,1620 328,1524 329,1679 394,1517 376,1450 288,1425 370,1660 314,1423 317,1520 338,1464 328,1360 325,1616 340,1656 319,1398 324,1585 302,1479 316,1597 323,1686 380,1578 366,1699 349,1411 376,1429 356,1339 336,1367 292,1463 322,1616 319,1652 364,1668 376,1390 336,1466 386,1477 353,1557 372,1634 366,1493 379,1497 370,1537 382,1367 353,1595 396,1404 344,1540 306,1465 304,1394 325,1689 318,1534 338,1499 320,1484 318,1695 338,1472 331,1652 311,1524 315,1376 314,1577 373,1353 388,1424 322,1544 304,1471 350,1542 398,1519 376,1424 373,1631 389,1465 352,1505 342,1455 348,1451 356,1592 315,1366 292,1432 315,1528 316,1403 382,1417 351,1651 352,1375 408,1450 380,1435 354,1574 367,1604 338,1446 391,1388 349,1721 310,1676 373,1580 285,1446 372,1534 351,1712 338,1721 380,1431 380,1507 323,1498 314,1473 343,1605 361,1407 323,1382 396,1385 374,1691 359,1513 383,1497 396,1473 348,1371 357,1596 336,1623 340,1668 339,1715 309,1538 329,1386 343,1360 355,1640 308,1527 372,1641 305,1601 323,1620 297,1393 311,1507 352,1703 330,1684 377,1640 370,1347 316,1553 328,1496 333,1446 386,1505 331,1716 396,1526 365,1646 354,1613 301,1453 385,1562 397,1490 325,1440 398,1460 328,1656 323,1571 351,1666 285,1413 358,1346 306,1371 338,1620 368,1360 371,1381 332,1605 348,1569 337,1597 346,1514 323,1678 373,1374 392,1456 302,1432 296,1494 344,1349 357,1342 344,1712 341,1690 381,1441 337,1718 338,1391 394,1452 346,1688 403,1417 363,1438 390,1509 369,1357 397,1523 358,1433 315,1451 350,1715 325,1492 330,1550 344,1462 314,1427 343,1448 332,1689 351,1516 362,1348 350,1369 367,1658 348,1681 362,1616 348,1656 391,1393 402,1457 333,1374 351,1534 350,1344 403,1446 345,1394 379,1504 364,1339 307,1401 310,1451 305,1387 367,1422 367,1594 328,1337 301,1524 380,1519 331,1556 355,1433 319,1473 364,1713 343,1439 351,1604 305,1525 321,1366 318,1666 317,1420 370,1498 285,1434 329,1429 311,1409 301,1444 347,1422 322,1376 349,1393 366,1537 334,1509 343,1469 356,1654 306,1448 318,1461 312,1394 380,1537 306,1483 332,1520 348,1545 327,1667 369,1397 295,1385 396,1511 350,1359 404,1443 331,1412 392,1484 321,1630 377,1384 391,1491 319,1598 347,1538 310,1511 383,1483 332,1436 343,1487 313,1510 401,1474 328,1618 301,1419 395,1428 325,1595 361,1656 313,1569 342,1662 363,1560 304,1487 329,1625 341,1399 355,1643 291,1474 359,1363 339,1414 369,1688 349,1706 328,1363 385,1378 379,1570 344,1323 378,1403 385,1573 347,1439 320,1506 363,1630 400,1482 316,1624 385,1593 354,1363 319,1570 395,1508 354,1470 333,1387 338,1327 350,1686 390,1538 352,1601 346,1564 363,1409 329,1642 370,1623 320,1585 384,1373 372,1434 370,1515 335,1437 351,1646 355,1375 310,1441 331,1618 371,1424 317,1504 329,1528 346,1447 316,1601 315,1614 330,1632 390,1405 360,1706 338,1502 365,1588 355,1504 329,1676 365,1608 370,1578 304,1419 315,1396 346,1652 344,1330 359,1455 302,1512 306,1478 374,1396 305,1454 365,1568 346,1352 326,1547 330,1611 330,1572 389,1417 355,1461 322,1540 298,1475 375,1663 340,1417 356,1579 298,1514 321,1565 324,1657 377,1488 332,1635 336,1683 363,1491 344,1706 310,1575 319,1539 390,1432 318,1423 326,1681 332,1433 304,1422 367,1557 346,1411 397,1432 347,1534 332,1543 341,1490 345,1315 316,1517 302,1501 347,1584 311,1466 361,1508 312,1596 287,1455 329,1349 394,1437 389,1381 377,1495 330,1399 365,1405 342,1598 325,1427 356,1721 351,1630 368,1554 348,1461 400,1401 355,1689 380,1679 289,1434 358,1540 374,1520 359,1545 354,1391 331,1696 378,1558 324,1522 387,1408 316,1571 376,1614 319,1683 315,1619 348,1340 324,1557 318,1648 356,1398 296,1467 311,1470 345,1367 343,1701 362,1524 370,1466 342,1496 383,1596 357,1415 350,1513 288,1448 369,1626 377,1581 387,1446 345,1703 349,1400 361,1448 365,1474 334,1482 334,1597 340,1679 366,1564 320,1384 381,1568 378,1381 393,1470 317,1417 385,1385 345,1617 361,1374 301,1404 343,1422 353,1663 357,1566 353,1513 309,1578 373,1378 353,1527 297,1454 313,1547 358,1704 380,1531 351,1683 385,1565 350,1537 366,1591 325,1672 334,1626 384,1436 320,1419 354,1629 323,1626 323,1568 361,1716 336,1692 322,1518 365,1431 307,1536 307,1462 368,1485 329,1345 373,1524 331,1666 366,1631 361,1482 369,1633 383,1536 328,1410 348,1334 324,1400 314,1609 288,1431 369,1563 302,1381 380,1425 330,1455 329,1595 366,1599 320,1502 333,1645 356,1624 340,1583 335,1339 318,1454 362,1643 349,1337 365,1383 325,1598 306,1491 392,1524 370,1482 370,1510 287,1437 301,1388 322,1508 323,1467 362,1391 310,1681 339,1541 333,1661 305,1411 395,1444 378,1676 341,1682 337,1685 397,1408 325,1371 390,1396 334,1614 346,1595 334,1443 390,1471 386,1394 332,1504 319,1543 354,1510 376,1541 394,1490 362,1377 326,1474 312,1601 356,1554 311,1571 359,1419 373,1437 315,1441 343,1714 334,1501 380,1409 352,1366 346,1307 346,1316 345,1735 346,1755 346,1773 346,1785"/>
<line x1="278.4" x2="413.2" y1="1494.1" y2="1494.1" stroke="#000" stroke-width="1.9"/>
<polyline fill="none" stroke="none" marker-start="url(#nr)" marker-mid="url(#nr)" marker-end="url(#nr)" points="566,1615 540,1533 517,1438 570,1356 536,1528 575,1592 532,1482 550,1578 580,1394 523,1540 568,1423 556,1361 529,1521 494,1397 526,1696 537,1555 534,1434 565,1680 558,1509 595,1425 560,1563 520,1524 572,1699 531,1620 508,1449 547,1604 536,1572 558,1574 556,1350 564,1536 538,1371 566,1559 498,1374 578,1412 518,1372 591,1416 556,1381 553,1436 549,1515 505,1481 523,1424 505,1395 528,1566 537,1625 540,1643 548,1642 530,1464 522,1390 560,1623 549,1326 558,1651 562,1651 532,1467 563,1449 551,1692 530,1497 542,1617 546,1552 529,1474 546,1320 551,1642 533,1543 558,1446 554,1596 595,1474 529,1699 514,1363 559,1517 526,1542 576,1508 541,1518 555,1562 567,1502 599,1407 548,1610 544,1473 564,1469 510,1383 551,1425 530,1553 507,1470 561,1355 523,1537 543,1426 547,1671 586,1386 567,1677 524,1472 549,1620 543,1551 544,1706 513,1412 535,1590 577,1366 536,1594 536,1575 525,1374 531,1374 585,1484 585,1410 558,1693 571,1421 558,1454 567,1661 592,1425 515,1451 577,1590 547,1369 540,1455 574,1487 529,1416 574,1692 517,1453 535,1696 533,1662 499,1427 522,1522 567,1521 527,1555 587,1447 535,1631 574,1556 554,1364 590,1369 594,1432 546,1566 546,1544 530,1627 540,1401 548,1714 569,1395 515,1471 542,1439 566,1632 519,1495 555,1397 561,1453 578,1409 581,1452 545,1584 601,1415 561,1399 537,1563 563,1367 578,1441 568,1531 558,1705 511,1375 538,1453 574,1695 535,1600 520,1462 535,1652 574,1389 553,1588 567,1437 499,1436 568,1348 580,1403 533,1364 524,1477 535,1515 510,1405 568,1570 546,1656 554,1346 551,1558 570,1437 606,1420 526,1475 563,1677 537,1551 538,1630 517,1489 580,1459 510,1394 546,1679 545,1332 519,1507 509,1440 542,1362 556,1702 559,1665 586,1440 549,1436 506,1455 568,1479 569,1493 536,1639 567,1413 580,1397 596,1466 554,1552 540,1521 518,1417 517,1441 562,1626 589,1459 528,1350 521,1473 523,1452 532,1423 501,1399 511,1484 566,1705 553,1494 576,1496 515,1402 541,1513 589,1382 552,1337 602,1424 558,1583 515,1507 523,1526 595,1451 516,1456 565,1364 578,1416 560,1540 510,1443 553,1500 539,1646 574,1465 552,1524 565,1373 575,1552 565,1425 562,1387 532,1361 549,1459 554,1330 557,1513 580,1431 579,1490 570,1497 569,1373 543,1469 564,1707 560,1435 533,1571 555,1505 512,1494 541,1510 563,1578 510,1487 552,1664 553,1539 578,1379 553,1512 555,1554 553,1575 511,1491 559,1403 555,1572 563,1669 590,1462 552,1518 509,1417 536,1618 567,1459 556,1697 563,1349 514,1477 522,1548 557,1565 592,1471 527,1584 545,1537 560,1571 521,1483 501,1470 538,1622 520,1437 567,1352 563,1361 539,1602 566,1359 520,1504 537,1558 549,1453 566,1563 497,1433 543,1336 495,1389 587,1456 550,1364 537,1464 602,1397 503,1468 522,1418 556,1408 546,1365 580,1372 592,1447 554,1565 592,1485 555,1390 574,1478 509,1412 577,1486 568,1419 566,1445 564,1594 509,1388 508,1490 570,1515 567,1651 525,1392 502,1454 562,1515 599,1422 502,1412 551,1705 563,1437 561,1482 549,1493 516,1382 560,1352 568,1430 555,1483 564,1452 554,1720 575,1528 552,1403 561,1445 522,1480 537,1387 554,1599 560,1592 510,1470 515,1497 546,1495 551,1591 541,1662 576,1436 565,1464 534,1512 508,1367 572,1369 549,1569 534,1402 548,1523 592,1402 578,1375 531,1607 502,1402 534,1486 556,1602 524,1398 541,1671 496,1411 602,1421 522,1455 505,1446 498,1421 551,1328 516,1504 585,1467 503,1474 521,1402 546,1613 546,1428 550,1339 509,1457 534,1668 514,1442 561,1504 592,1377 567,1582 555,1634 565,1641 506,1475 540,1413 586,1423 538,1613 529,1453 548,1665 593,1370 500,1409 548,1448 553,1655 583,1444 534,1671 518,1379 512,1434 505,1458 548,1527 537,1540 593,1440 553,1486 531,1625 564,1440 540,1484 570,1685 562,1411 560,1600 541,1565 576,1444 527,1380 552,1534 546,1694 530,1656 565,1603 553,1673 565,1456 592,1444 564,1521 503,1389 525,1505 544,1556 527,1551 543,1526 560,1441 548,1470 591,1389 526,1417 558,1338 508,1435 598,1395 527,1466 556,1472 564,1401 554,1477 529,1358 553,1521 496,1428 516,1494 545,1667 538,1486 539,1429 519,1412 551,1410 525,1561 531,1355 565,1571 488,1418 575,1548 554,1439 588,1452 530,1585 527,1539 564,1461 524,1593 512,1498 596,1411 555,1457 491,1418 555,1432 546,1578 529,1364 512,1398 595,1437 511,1481 525,1531 501,1432 546,1571 555,1527 590,1374 577,1396 595,1415 545,1547 525,1693 571,1476 538,1715 597,1388 499,1415 504,1383 536,1583 555,1679 566,1693 564,1392 560,1668 498,1397 578,1382 533,1634 588,1390 528,1384 537,1410 494,1401 501,1451 534,1648 552,1333 518,1448 494,1434 595,1447 563,1473 582,1365 530,1438 576,1519 548,1444 551,1399 521,1426 571,1463 550,1320 583,1398 519,1534 562,1554 551,1686 580,1387 574,1586 553,1710 522,1414 520,1498 566,1494 503,1477 543,1496 537,1399 551,1462 566,1516 554,1370 554,1631 567,1482 526,1480 548,1344 562,1459 560,1699 532,1642 530,1353 541,1657 573,1688 579,1369 519,1458 554,1692 534,1384 562,1485 534,1524 550,1544 549,1680 588,1480 598,1391 532,1612 519,1388 543,1614 574,1374 532,1615 544,1563 545,1488 534,1567 558,1419 521,1449 545,1373 542,1462 585,1418 539,1685 561,1705 530,1403 585,1437 571,1450 543,1391 551,1490 603,1401 561,1456 530,1457 497,1441 566,1489 548,1502 542,1667 541,1356 564,1634 530,1687 544,1625 569,1367 576,1539 574,1363 531,1681 541,1443 538,1677 555,1402 527,1462 537,1498 583,1458 581,1507 521,1539 602,1437 508,1382 553,1529 545,1726 547,1600 539,1346 564,1648 534,1561 561,1420 565,1527 544,1653 561,1711 545,1465 560,1384 551,1456 520,1444 587,1494 503,1439 568,1454 531,1410 526,1545 532,1345 581,1390 524,1463 520,1590 542,1503 539,1393 559,1577 544,1413 548,1441 555,1714 567,1672 598,1381 522,1692 565,1410 566,1625 531,1590 546,1481 574,1509 501,1372 539,1501 549,1555 598,1446 559,1462 534,1627 560,1612 559,1478 552,1450 540,1716 579,1463 550,1372 539,1526 559,1603 517,1395 538,1667 542,1535 552,1555 562,1431 550,1717 551,1612 567,1700 535,1413 493,1427 545,1325 516,1481 560,1359 558,1561 526,1454 564,1357 521,1408 539,1618 503,1465 551,1726 553,1695 600,1374 501,1388 518,1530 586,1427 566,1644 556,1414 534,1622 562,1477 552,1343 580,1419 576,1400 517,1473 489,1410 534,1490 605,1423 541,1702 501,1391 604,1412 555,1342 583,1369 525,1378 522,1429 518,1403 554,1429 576,1502 555,1542 523,1411 500,1405 555,1664 579,1530 541,1624 531,1382 525,1401 588,1469 558,1450 558,1629 569,1383 567,1393 538,1512 556,1435 544,1397 533,1397 553,1465 534,1472 565,1600 554,1648 539,1384 555,1592 543,1359 572,1459 526,1431 515,1376 595,1454 534,1408 547,1399 562,1569 560,1497 540,1335 519,1429 507,1419 558,1357 538,1710 540,1537 547,1380 496,1437 544,1355 575,1490 529,1509 579,1527 589,1445 584,1453 506,1386 554,1569 536,1405 560,1413 528,1533 537,1702 582,1463 536,1662 547,1559 527,1526 579,1363 524,1588 547,1467 537,1359 530,1661 499,1381 558,1548 531,1593 554,1700 552,1622 530,1447 586,1477 520,1396 572,1352 554,1707 570,1468 565,1607 573,1471 578,1505 527,1681 568,1506 529,1647 505,1370 517,1515 540,1550 544,1346 570,1510 576,1426 540,1651 585,1390 562,1585 556,1684 514,1393 511,1467 507,1438 543,1677 537,1681 531,1530 583,1426 513,1407 560,1530 557,1688 525,1468 545,1449 584,1472 559,1410 537,1689 554,1689 543,1521 580,1523 544,1682 566,1355 494,1409 537,1634 526,1366 548,1646 582,1504 509,1494 560,1708 587,1416 596,1461 543,1603 572,1395 562,1640 547,1676 570,1447 538,1349 512,1450 565,1687 537,1659 608,1418 564,1674 539,1342 528,1484 532,1450 558,1606 595,1378 592,1380 524,1515 543,1406 581,1472 549,1574 554,1559 549,1683 554,1490 557,1712 573,1513 572,1522 547,1407 557,1545 521,1378 541,1351 517,1510 570,1552 541,1632 535,1692 501,1458 537,1587 557,1717 535,1678 559,1474 569,1640 509,1432 521,1374 505,1432 596,1406 549,1506 557,1518 566,1568 600,1383 558,1589 574,1589 540,1546 529,1398 522,1365 578,1446 544,1632 542,1720 541,1450 551,1433 549,1606 548,1351 513,1501 573,1474 561,1546 593,1468 526,1685 563,1645 566,1597 530,1570 515,1424 551,1440 533,1637 558,1682 552,1446 526,1355 568,1636 578,1476 567,1475 574,1416 560,1493 552,1607 567,1369 532,1405 513,1373 536,1380 529,1668 553,1419 550,1487 542,1480 553,1602 555,1620 586,1378 550,1407 543,1540 547,1703 556,1608 608,1410 564,1443 500,1461 543,1446 540,1506 547,1317 573,1537 600,1378 542,1434 568,1703 522,1469 557,1596 503,1428 559,1490 558,1552 526,1497 574,1442 580,1455 523,1432 596,1384 522,1552 526,1413 580,1424 542,1476 533,1587 557,1587 534,1478 549,1731 568,1440 549,1348 537,1509 569,1518 507,1403 570,1457 532,1387 565,1589 564,1499 548,1423 564,1575 593,1422 548,1662 532,1675 512,1418 537,1363 573,1385 558,1495 508,1378 580,1480 554,1627 506,1376 505,1485 557,1671 526,1358 568,1473 531,1525 501,1395 494,1394 539,1469 539,1406 555,1375 578,1406 528,1672 519,1422 516,1430 595,1395 555,1657 511,1437 554,1682 496,1383 546,1619 579,1427 561,1465 534,1703 558,1438 557,1533 571,1501 522,1507 546,1596 505,1399 561,1471 533,1457 527,1591 569,1561 562,1428 600,1403 555,1668 543,1506 540,1555 496,1386 558,1432 552,1325 592,1464 545,1491 517,1434 546,1476 559,1702 555,1583 581,1435 587,1394 536,1644 530,1477 536,1353 530,1544 536,1502 582,1487 567,1450 533,1431 534,1452 535,1656 558,1632 585,1460 525,1699 574,1483 562,1373 541,1607 508,1479 538,1705 571,1380 576,1468 500,1466 546,1350 540,1665 594,1373 568,1524 555,1535 541,1489 539,1591 502,1422 597,1434 542,1587 521,1491 508,1461 558,1457 546,1439 572,1481 600,1386 543,1368 517,1400 556,1335 573,1424 531,1697 530,1573 565,1486 531,1558 549,1464 531,1603 574,1439 564,1638 550,1391 526,1408 551,1647 543,1330 547,1387 538,1448 549,1595 540,1682 572,1430 546,1340 572,1506 576,1386 543,1380 600,1411 582,1441 576,1451 537,1391 561,1595 587,1367 539,1569 493,1430 525,1565 530,1442 567,1555 566,1612 534,1606 569,1590 594,1399 579,1501 506,1415 545,1659 565,1547 600,1418 550,1565 523,1357 537,1519 553,1469 530,1651 536,1429 542,1575 550,1369 547,1721 594,1477 540,1695 577,1390 531,1471 572,1377 537,1479 525,1549 521,1369 599,1429 537,1490 504,1462 521,1544 535,1615 567,1656 562,1363 537,1605 535,1708 543,1687 557,1568 546,1393 552,1581 548,1432 526,1536 549,1541 589,1403 576,1514 572,1485 557,1481 563,1583 525,1449 576,1460 541,1627 565,1415 546,1453 561,1549 535,1442 562,1395 580,1519 536,1569 564,1479 524,1458 546,1329 606,1416 541,1376 496,1414 588,1473 553,1382 570,1427 579,1515 506,1429 531,1395 511,1400 555,1605 534,1464 539,1368 525,1420 534,1553 554,1416 542,1344 547,1485 525,1387 568,1681 521,1385 562,1702 557,1353 509,1453 553,1660 584,1493 547,1534 567,1573 532,1707 541,1713 565,1429 563,1492 560,1396 585,1450 589,1435 587,1432 601,1394 544,1483 529,1469 544,1609 552,1356 558,1661 591,1478 516,1368 567,1586 519,1365 556,1394 503,1407 534,1376 511,1421 526,1492 548,1632 544,1723 558,1484 601,1389 528,1692 543,1693 550,1552 556,1498 584,1395 596,1375 522,1501 550,1689 534,1665 564,1512 517,1385 541,1529 586,1398 528,1640 572,1545 571,1586 546,1505 540,1360 586,1372 559,1536 564,1653 530,1481 572,1403 508,1398 506,1406 513,1439 514,1484 533,1393 509,1371 570,1538 531,1566 543,1581 584,1382 516,1414 559,1678 546,1462 533,1358 564,1370 540,1572 527,1503 543,1423 560,1342 549,1520 550,1675 551,1625 564,1397 531,1428 576,1422 548,1745 567,1402 548,1311 541,1561 544,1531 563,1662 530,1378 565,1627 552,1615 553,1508 524,1404 578,1434 583,1501 530,1636 551,1700 563,1539 558,1593 590,1475 531,1684 539,1598 532,1555 538,1425 581,1379 540,1421 568,1377 528,1677 549,1629 514,1460 541,1689 556,1643 496,1378 553,1645 537,1579 529,1392 604,1405 548,1562 558,1386 541,1341 557,1443 525,1371 545,1435 533,1350 544,1377 525,1426 568,1647 580,1484 577,1360 525,1554 585,1487 573,1499 582,1416 594,1382 548,1735 582,1476 533,1579 575,1368 543,1590 531,1486 568,1534 528,1426 568,1665 552,1570 530,1703 517,1519 573,1540 524,1490 568,1466 530,1665 562,1691 511,1426 595,1429 550,1386 502,1448 543,1387 524,1509 539,1577 549,1589 566,1420 529,1368 559,1389 592,1460 557,1676 527,1472 506,1391 548,1308 519,1477 531,1600 582,1479 557,1558 523,1556 550,1481 546,1512 590,1430 534,1711 524,1440 536,1356 573,1519 553,1640 553,1348 579,1438 574,1493 502,1376 546,1498 533,1503 593,1411 543,1454 518,1360 563,1495 528,1436 554,1411 537,1433 536,1548 531,1518 546,1685 534,1659 551,1467 532,1539 500,1384 507,1424 548,1334 517,1465 502,1436 563,1488 550,1316 591,1450 583,1376 590,1419 551,1414 556,1637 555,1624 546,1404 532,1645 539,1638 594,1391 532,1499 567,1510 517,1523 569,1361 536,1483 581,1384 572,1561 589,1423 537,1533 528,1389 512,1403 570,1490 522,1688 516,1405 539,1440 506,1409 552,1361 565,1690 564,1543 526,1423 566,1381 524,1484 595,1458 548,1474 522,1466 513,1367 517,1500 593,1385 527,1439 505,1435 567,1399 560,1558 534,1519 551,1584 599,1400 529,1582 534,1533 535,1494 491,1408 551,1503 587,1490 576,1511 590,1385 518,1492 538,1461 553,1378 544,1650 567,1537 534,1460 533,1574 580,1510 552,1422 537,1468 558,1646 598,1416 540,1464 603,1427 551,1430 559,1639 566,1387 551,1720 579,1534 554,1387 522,1487 560,1648 518,1484 526,1361 535,1521 530,1514 521,1360 549,1420 538,1444 608,1414 536,1342 583,1448 499,1412 534,1686 555,1422 545,1712 560,1500 539,1493 560,1686 536,1537 544,1715 570,1566 582,1411 543,1569 570,1556 515,1487 576,1371 535,1439 528,1517 561,1683 569,1387 567,1543 555,1367 566,1684 563,1615 559,1424 554,1652 496,1404 550,1375 576,1544 563,1532 491,1412 522,1530 569,1434 518,1392 543,1516 558,1372 561,1507 558,1715 567,1470 532,1700 527,1445 538,1515 570,1391 569,1527 532,1551 564,1352 539,1595 559,1689 559,1429 570,1350 548,1638 566,1620 550,1603 576,1524 536,1366 564,1557 536,1544 589,1400 549,1416 529,1506 554,1405 497,1407 564,1666 549,1653 546,1361 528,1529 565,1434 579,1493 567,1577 548,1626 492,1405 540,1581 560,1487 495,1424 552,1474 580,1444 555,1449 516,1390 545,1718 562,1425 528,1563 571,1694 555,1612 548,1359 579,1497 526,1522 576,1403 558,1528 562,1565 532,1691 513,1379 551,1561 535,1371 550,1670 574,1447 559,1618 591,1489 516,1409 499,1446 507,1467 492,1423 572,1527 580,1469 571,1531 555,1578 548,1696 561,1347 564,1384 548,1740 560,1513 584,1490 548,1616 565,1345 542,1457 538,1436 540,1380 571,1364 545,1509 538,1673 529,1371 585,1402 533,1417 536,1609 561,1520 587,1464 543,1698 570,1410 520,1517 530,1461 562,1526 584,1498 547,1411 562,1608 559,1407 527,1689 544,1664 573,1434 546,1622 562,1560 521,1586 504,1373 551,1597 500,1441 600,1441 514,1384 596,1420 567,1594 531,1493 577,1472 517,1527 544,1629 559,1642 551,1352 538,1524 583,1421 533,1582 557,1467 574,1456 544,1640 598,1425 544,1621 538,1698 550,1639 531,1632 560,1675 572,1400 542,1384 522,1447 520,1513 505,1489 536,1419 543,1600 520,1440 539,1655 512,1463 560,1635 558,1363 544,1635 502,1417 549,1510 546,1689 565,1378 535,1612 574,1381 524,1584 557,1345 547,1592 556,1502 604,1408 576,1431 562,1621 569,1691 518,1461 511,1477 568,1406 530,1536 560,1696 503,1444 540,1389 554,1547 571,1593 543,1486 528,1374 540,1635 563,1382 535,1423 574,1532 527,1559 547,1700 545,1644 568,1485 602,1434 543,1394 550,1656 541,1408 527,1487 569,1643 557,1640 507,1464 536,1395 528,1500 530,1432 556,1487 522,1534 549,1383 549,1477 577,1456 541,1498 532,1390 547,1582 510,1408 549,1531 590,1483 495,1419 548,1650 551,1497 518,1426 574,1420 590,1456 549,1659 538,1648 588,1412 598,1438 574,1405 512,1474 542,1674 544,1501 570,1442 521,1393 531,1597 529,1421 544,1559 589,1486 541,1708 528,1588 567,1668 547,1518 498,1392 604,1430 547,1355 562,1631 534,1681 520,1382 505,1450 518,1468 596,1443 534,1426 520,1433 541,1543 554,1453 573,1411 527,1396 556,1384 582,1467 516,1421 533,1546 589,1407 592,1406 561,1417 527,1643 593,1481 563,1699 531,1670 512,1431 544,1409 539,1692 552,1366 590,1439 530,1413 532,1370 556,1523 559,1375 553,1676 551,1396 539,1474 582,1406 514,1491 587,1443 555,1617 513,1455 543,1418 570,1688 574,1392 538,1416 532,1509 548,1538 550,1723 502,1379 565,1550 542,1430 534,1445 487,1414 551,1635 517,1445 560,1367 555,1425 564,1696 578,1450 544,1401 555,1461 497,1400 523,1519 585,1413 560,1392 545,1419 570,1415 571,1549 535,1346 512,1388 515,1468 546,1574 591,1393 534,1506 561,1523 541,1371 529,1548 512,1391 572,1453 564,1504 521,1510 552,1549 544,1383 530,1577 560,1378 531,1454 532,1694 542,1584 586,1407 584,1431 547,1375 515,1417 537,1456 596,1402 549,1305 525,1436 553,1480 523,1496 527,1512 565,1508 540,1395 549,1549 590,1396 562,1406 548,1709 508,1484 532,1521 596,1470 569,1696 592,1436 543,1595 513,1446 588,1377 539,1610 546,1731 553,1723 562,1672 524,1383 546,1457 559,1655 529,1491 575,1355 545,1588 528,1406 537,1374 522,1695 548,1323 553,1393 577,1482 549,1331 507,1443 531,1678 573,1360 539,1338 568,1546 539,1364 562,1658 548,1306 549,1315 548,1742 548,1752 548,1757"/>
<line x1="481.1" x2="614.9" y1="1474.6" y2="1474.6" stroke="#000" stroke-width="1.9"/>
<polyline fill="none" stroke="none" marker-start="url(#nw)" marker-mid="url(#nw)" marker-end="url(#nw)" points="782,1618 724,1568 716,1603 736,1481 738,1661 717,1704 744,1504 748,1482 790,1599 797,1661 756,1498 769,1498 773,1689 785,1677 778,1433 759,1656 775,1591 750,1407 744,1555 771,1492 736,1404 740,1680 806,1672 741,1454 765,1528 792,1661 746,1513 780,1543 750,1606 714,1641 726,1605 777,1629 740,1399 774,1653 779,1566 734,1429 784,1648 747,1718 753,1582 795,1674 757,1578 752,1380 735,1561 695,1688 758,1676 727,1563 742,1484 737,1504 757,1383 786,1561 732,1399 702,1661 713,1653 785,1603 743,1390 740,1524 786,1518 767,1541 726,1637 751,1732 752,1623 756,1667 725,1516 790,1673 756,1460 734,1658 729,1555 765,1505 742,1494 726,1656 781,1607 780,1652 748,1579 709,1687 731,1668 771,1620 726,1523 732,1521 719,1473 738,1708 769,1475 744,1702 757,1410 715,1506 702,1666 769,1663 701,1673 726,1460 783,1597 790,1567 783,1477 714,1686 759,1396 778,1634 776,1556 752,1674 721,1543 737,1604 788,1665 767,1399 733,1639 737,1722 790,1493 795,1510 765,1537 761,1663 755,1701 779,1689 765,1703 795,1697 774,1441 773,1384 776,1694 741,1445 695,1678 689,1686 753,1530 755,1359 755,1551 736,1493 715,1648 772,1450 775,1511 760,1701 727,1624 753,1601 759,1479 788,1473 760,1518 805,1661 720,1520 733,1498 721,1445 745,1410 788,1479 719,1643 710,1672 779,1529 739,1409 752,1507 751,1724 721,1597 737,1449 767,1606 785,1661 723,1560 746,1541 759,1465 776,1596 760,1626 773,1468 756,1681 723,1529 784,1452 727,1438 727,1661 745,1605 747,1615 787,1686 784,1568 768,1615 778,1438 783,1673 765,1585 722,1652 720,1688 778,1460 723,1585 760,1529 753,1401 760,1608 724,1534 758,1584 751,1641 774,1570 749,1450 719,1570 744,1707 743,1632 757,1377 776,1682 750,1421 711,1493 730,1628 727,1427 775,1424 792,1562 740,1377 770,1693 750,1429 739,1654 710,1624 767,1670 781,1706 722,1699 768,1440 728,1710 763,1475 783,1514 774,1614 736,1415 721,1623 724,1574 781,1590 732,1607 721,1638 742,1385 732,1452 755,1567 693,1682 764,1675 786,1490 776,1640 774,1669 765,1658 736,1475 757,1573 726,1470 780,1455 737,1519 762,1549 793,1679 752,1396 732,1433 761,1603 717,1587 741,1499 697,1667 743,1668 727,1510 777,1713 718,1592 793,1707 739,1393 730,1633 773,1403 771,1459 732,1573 748,1465 768,1555 766,1452 751,1444 768,1463 779,1484 709,1707 733,1381 788,1591 756,1453 755,1689 749,1476 716,1443 735,1614 777,1488 778,1496 723,1693 747,1559 747,1621 766,1688 798,1684 731,1479 765,1697 783,1470 734,1422 746,1526 738,1666 771,1648 729,1384 734,1689 708,1701 780,1538 779,1571 741,1436 769,1568 780,1584 767,1512 755,1524 778,1474 745,1359 745,1430 789,1691 801,1665 761,1407 746,1726 724,1553 758,1715 730,1492 719,1617 751,1543 756,1487 742,1583 718,1500 744,1692 756,1723 724,1667 754,1425 736,1684 725,1599 753,1718 740,1538 758,1366 743,1625 750,1495 742,1600 747,1353 723,1709 760,1535 757,1507 769,1580 753,1590 765,1652 705,1671 738,1576 741,1372 762,1560 746,1497 756,1475 763,1721 766,1711 729,1681 780,1466 762,1388 718,1485 708,1682 769,1593 730,1586 741,1473 720,1403 710,1713 777,1646 764,1522 742,1713 737,1624 789,1648 776,1675 742,1647 781,1520 723,1487 705,1692 725,1629 768,1547 757,1470 721,1602 762,1439 746,1442 718,1674 781,1701 764,1629 773,1502 764,1645 784,1443 737,1553 763,1598 795,1692 724,1449 714,1620 763,1715 751,1385 738,1597 754,1649 761,1429 761,1544 716,1598 744,1677 733,1509 727,1715 720,1513 770,1642 764,1681 767,1429 740,1674 711,1663 747,1381 757,1642 770,1425 724,1423 729,1568 700,1690 730,1549 725,1433 798,1515 745,1587 741,1718 747,1673 762,1412 785,1587 721,1549 786,1640 727,1545 732,1441 767,1435 749,1704 725,1648 714,1573 751,1686 753,1636 726,1444 725,1497 715,1480 769,1407 770,1656 725,1687 772,1544 746,1424 808,1677 745,1594 781,1658 779,1663 768,1381 747,1629 714,1699 769,1630 753,1538 739,1487 771,1525 739,1643 780,1492 718,1682 802,1677 726,1593 730,1702 757,1560 760,1569 741,1517 789,1624 778,1552 764,1619 715,1560 795,1703 739,1727 708,1567 740,1468 780,1642 772,1430 740,1615 716,1636 737,1590 750,1699 767,1625 783,1711 747,1368 725,1704 779,1611 761,1510 730,1405 799,1689 769,1677 779,1578 767,1489 742,1697 744,1418 731,1473 763,1380 790,1509 757,1612 760,1671 742,1460 731,1466 710,1518 771,1563 766,1393 763,1580 756,1388 773,1607 733,1696 800,1696 732,1592 750,1656 736,1436 775,1658 724,1476 762,1554 723,1673 733,1647 768,1470 746,1399 718,1695 777,1522 730,1691 774,1580 704,1687 754,1660 766,1445 750,1710 753,1373 732,1485 721,1578 784,1574 761,1454 757,1494 751,1471 756,1546 781,1548 779,1403 755,1606 775,1517 733,1708 759,1590 771,1507 793,1687 752,1350 728,1641 743,1687 709,1561 769,1419 744,1530 702,1679 735,1671 759,1420 751,1460 755,1630 746,1732 784,1692 710,1658 745,1566 745,1643 758,1707 754,1482 766,1564 706,1509 740,1562 774,1481 752,1363 776,1533 750,1665 713,1691 734,1526 783,1667 758,1621 782,1625 739,1693 733,1580 699,1683 731,1721 761,1490 750,1611 721,1494 746,1469 727,1675 761,1636 790,1713 714,1567 763,1468 713,1668 738,1421 750,1357 737,1385 762,1686 709,1695 739,1544 748,1455 741,1549 737,1514 747,1648 725,1502 720,1438 771,1703 702,1515 745,1654 742,1364 701,1696 747,1534 759,1502 771,1487 748,1598 730,1530 716,1495 750,1692 777,1621 742,1478 768,1635 727,1697 769,1611 771,1711 779,1446 772,1585 746,1638 743,1405 788,1681 725,1465 806,1666 751,1572 719,1668 783,1636 715,1710 730,1652 745,1661 743,1578 718,1452 747,1489 759,1694 773,1624 764,1592 737,1701 746,1683 728,1538 763,1485 767,1414 738,1610 741,1572 721,1714 746,1572 733,1390 716,1516 795,1668 742,1620 733,1622 768,1718 726,1481 733,1457 738,1636 780,1560 775,1398 772,1575 770,1684 811,1686 751,1520 763,1692 740,1427 732,1503 764,1640 767,1480 759,1402 764,1573 719,1659 784,1485 750,1416 718,1553 696,1693 779,1502 755,1438 751,1679 706,1676 773,1718 749,1376 807,1682 764,1459 775,1454 725,1617 764,1496 759,1651 729,1577 723,1679 719,1564 725,1406 736,1585 757,1433 793,1515 756,1597 730,1515 755,1416 773,1436 781,1716 781,1682 759,1447 722,1633 774,1550 713,1591 730,1612 695,1672 741,1511 751,1435 771,1532 777,1704 766,1404 752,1616 730,1617 774,1419 784,1496 743,1611 753,1465 725,1454 730,1602 806,1689 723,1611 774,1664 752,1563 715,1489 770,1600 764,1612 711,1597 720,1479 751,1500 736,1567 729,1448 788,1703 799,1671 738,1463 735,1630 787,1708 774,1699 715,1628 720,1505 770,1390 712,1679 733,1678 760,1372 747,1549 729,1419 789,1696 785,1553 716,1663 776,1603 734,1713 775,1538 726,1400 734,1545 786,1656 746,1519 764,1420 751,1486 711,1511 734,1537 750,1554 738,1440 731,1597 739,1531 782,1506 755,1512 749,1391 770,1519 750,1310 750,1323 750,1337 750,1351 743,1731 749,1728"/>
<line x1="683.1" x2="817.3" y1="1568.8" y2="1568.8" stroke="#000" stroke-width="1.9"/>
<polyline fill="none" stroke="none" marker-start="url(#nr)" marker-mid="url(#nr)" marker-end="url(#nr)" points="966,1660 962,1604 950,1445 975,1696 960,1449 946,1427 944,1573 946,1477 957,1368 948,1344 942,1534 945,1547 932,1421 960,1695 947,1373 962,1525 956,1592 954,1464 948,1670 920,1699 939,1726 942,1668 956,1344 935,1520 969,1486 944,1616 938,1684 958,1718 971,1720 933,1690 939,1452 987,1679 938,1408 944,1717 959,1391 945,1505 962,1616 961,1478 961,1701 951,1378 945,1599 960,1418 963,1412 891,1709 973,1490 944,1469 956,1572 941,1705 996,1707 958,1707 923,1666 967,1472 947,1626 956,1399 957,1547 917,1673 922,1682 965,1635 992,1684 962,1435 956,1660 1011,1715 944,1645 960,1632 963,1532 960,1713 1006,1711 946,1723 930,1671 899,1712 952,1679 930,1678 915,1685 992,1718 957,1506 972,1684 950,1601 944,1484 958,1424 947,1367 906,1708 935,1674 963,1571 954,1339 971,1420 960,1461 951,1526 975,1669 958,1673 970,1572 938,1464 941,1579 973,1657 947,1620 932,1562 954,1722 1002,1707 959,1494 958,1577 936,1417 953,1579 932,1710 954,1450 951,1616 945,1513 940,1690 977,1484 959,1501 924,1708 1004,1717 949,1350 928,1693 966,1458 935,1652 956,1584 965,1582 977,1662 949,1568 956,1640 945,1449 953,1394 929,1704 953,1563 995,1679 973,1564 924,1714 961,1553 952,1687 959,1686 953,1388 959,1667 953,1704 961,1734 961,1662 971,1689 985,1690 962,1558 918,1712 943,1405 954,1484 967,1701 911,1690 944,1610 985,1716 942,1416 946,1650 960,1565 956,1515 940,1635 958,1600 945,1435 969,1548 944,1659 986,1711 952,1478 968,1494 951,1402 950,1455 924,1672 957,1350 954,1373 952,1509 971,1678 949,1718 962,1488 952,1729 954,1623 958,1456 928,1486 951,1542 964,1706 971,1664 938,1572 944,1523 980,1701 946,1412 957,1443 955,1633 940,1640 953,1415 955,1557 916,1706 951,1609 953,1498 936,1526 950,1574 946,1696 914,1679 933,1667 952,1366 954,1428 939,1481 1014,1709 906,1715 951,1657 942,1674 945,1734 941,1457 993,1673 947,1531 992,1712 961,1512 985,1697 961,1639 967,1577 978,1675 948,1407 959,1540 949,1490 928,1684 935,1706 944,1497 928,1663 981,1666 948,1706 956,1737 937,1660 966,1422 964,1654 957,1654 938,1713 949,1397 966,1417 957,1526 940,1490 990,1704 939,1517 949,1460 951,1519 967,1566 965,1517 938,1565 944,1552 949,1638 952,1596 961,1727 966,1711 952,1435 911,1673 961,1385 951,1339 958,1611 936,1458 935,1494 945,1683 947,1691 917,1693 941,1540 967,1726 926,1491 941,1528 990,1695 963,1505 964,1670 996,1698 963,1645 949,1470 952,1744 953,1354 909,1698 968,1453 937,1582 962,1678 998,1712 949,1551 938,1560 949,1537 920,1718 940,1422 979,1491 930,1717 986,1670 949,1422 958,1520 950,1736 935,1486 941,1653 944,1463 940,1699 966,1481 980,1694 963,1427 967,1408 941,1399 945,1385 948,1712 932,1657 955,1473 948,1561 969,1560 928,1699 936,1548 920,1688 954,1647 953,1694 984,1684 939,1472 971,1526 956,1606 957,1533 960,1626 947,1677 963,1621 948,1583 970,1672 964,1467 966,1718 948,1592 979,1688 947,1665 979,1683 954,1360 957,1379 961,1403 996,1690 964,1544 944,1604 967,1650 923,1693 953,1666 954,1714 977,1710 974,1704 959,1468 966,1686 971,1711 958,1408 960,1373 961,1587 951,1587 947,1632 969,1521 940,1586 935,1697 983,1486 947,1390 943,1566 976,1717 956,1489 956,1617 912,1714 937,1720 962,1472 966,1695 952,1310 952,1319 952,1327 954,1336 952,1744 954,1762 950,1767 952,1784"/>
<line x1="885.7" x2="1019.9" y1="1582.2" y2="1582.2" stroke="#000" stroke-width="1.9"/>
<polyline fill="none" stroke="none" marker-start="url(#nw)" marker-mid="url(#nw)" marker-end="url(#nw)" points="1192,1406 1105,1468 1112,1541 1157,1484 1179,1639 1137,1571 1196,1388 1198,1504 1119,1487 1172,1543 1216,1440 1110,1441 1150,1348 1157,1568 1184,1447 1149,1461 1151,1610 1118,1480 1185,1571 1178,1617 1124,1596 1202,1459 1173,1500 1182,1679 1165,1710 1164,1489 1158,1443 1179,1595 1137,1467 1194,1556 1157,1515 1197,1525 1109,1417 1159,1321 1168,1709 1134,1606 1184,1444 1149,1520 1178,1531 1148,1597 1121,1465 1160,1412 1166,1403 1160,1561 1168,1494 1123,1367 1157,1435 1170,1716 1131,1558 1147,1719 1119,1509 1203,1485 1197,1492 1143,1562 1179,1557 1170,1516 1202,1451 1188,1485 1159,1523 1122,1435 1192,1553 1171,1605 1147,1690 1183,1515 1180,1586 1167,1585 1151,1424 1132,1390 1132,1703 1179,1472 1179,1502 1139,1429 1184,1465 1140,1653 1188,1395 1192,1691 1123,1488 1186,1482 1162,1571 1126,1662 1127,1692 1191,1674 1168,1535 1202,1420 1146,1485 1157,1365 1174,1357 1152,1407 1124,1533 1122,1586 1144,1394 1175,1577 1148,1423 1125,1656 1154,1348 1118,1658 1176,1555 1168,1562 1147,1512 1153,1430 1174,1573 1139,1419 1196,1471 1123,1506 1157,1451 1179,1560 1145,1588 1140,1409 1185,1531 1178,1633 1144,1417 1140,1549 1154,1680 1120,1445 1188,1372 1177,1375 1159,1448 1138,1354 1180,1547 1182,1521 1196,1464 1164,1692 1133,1468 1168,1684 1183,1575 1137,1548 1178,1660 1192,1569 1119,1696 1177,1378 1168,1550 1102,1466 1147,1662 1164,1478 1105,1511 1121,1604 1152,1588 1119,1519 1129,1491 1140,1353 1129,1689 1166,1357 1179,1598 1180,1647 1166,1604 1122,1510 1191,1556 1169,1364 1184,1645 1136,1423 1106,1421 1143,1509 1142,1426 1158,1680 1182,1579 1174,1568 1161,1618 1124,1401 1107,1489 1126,1376 1118,1415 1114,1431 1111,1464 1131,1473 1202,1424 1180,1613 1162,1629 1152,1531 1145,1594 1155,1658 1142,1669 1167,1607 1128,1395 1160,1687 1125,1442 1192,1538 1163,1598 1126,1644 1171,1576 1119,1595 1157,1423 1147,1579 1122,1458 1181,1412 1152,1520 1127,1549 1174,1536 1122,1375 1133,1360 1145,1609 1142,1465 1152,1361 1159,1638 1150,1370 1160,1573 1153,1605 1177,1441 1182,1501 1179,1434 1154,1513 1191,1578 1141,1348 1150,1649 1154,1386 1174,1398 1127,1612 1160,1415 1113,1435 1155,1647 1123,1553 1107,1493 1164,1500 1158,1347 1134,1538 1176,1539 1170,1587 1170,1572 1119,1645 1125,1390 1149,1647 1163,1708 1140,1405 1131,1519 1174,1461 1167,1565 1120,1505 1171,1424 1207,1478 1127,1605 1121,1670 1116,1473 1162,1718 1132,1523 1117,1569 1185,1479 1124,1546 1171,1644 1190,1670 1148,1434 1142,1557 1145,1446 1139,1542 1172,1676 1127,1685 1112,1452 1127,1417 1161,1450 1175,1402 1129,1430 1147,1702 1142,1468 1122,1425 1116,1377 1158,1503 1106,1456 1108,1404 1136,1532 1163,1542 1117,1373 1161,1444 1122,1518 1177,1444 1194,1377 1139,1693 1157,1622 1199,1509 1126,1489 1185,1426 1149,1555 1184,1473 1145,1638 1169,1452 1186,1492 1185,1661 1154,1738 1172,1637 1175,1602 1137,1648 1147,1666 1170,1380 1149,1484 1199,1470 1120,1498 1157,1428 1199,1517 1156,1459 1116,1522 1154,1569 1100,1435 1159,1350 1184,1551 1120,1452 1142,1435 1132,1653 1202,1493 1114,1455 1199,1545 1166,1396 1122,1467 1198,1496 1192,1441 1150,1496 1115,1466 1193,1383 1131,1479 1171,1673 1139,1488 1160,1558 1171,1384 1206,1443 1132,1662 1163,1346 1108,1407 1191,1534 1183,1422 1180,1506 1127,1598 1135,1575 1161,1605 1189,1392 1177,1364 1139,1709 1188,1495 1138,1479 1157,1560 1190,1678 1143,1431 1107,1439 1183,1511 1170,1648 1196,1443 1164,1645 1204,1471 1175,1529 1113,1393 1113,1422 1150,1510 1152,1614 1155,1468 1174,1493 1151,1420 1179,1677 1199,1477 1187,1511 1157,1317 1126,1652 1128,1545 1138,1703 1155,1500 1163,1695 1167,1530 1120,1471 1162,1655 1188,1419 1114,1413 1170,1679 1103,1482 1178,1438 1165,1450 1119,1421 1136,1566 1116,1549 1113,1461 1151,1625 1125,1496 1166,1648 1132,1627 1183,1382 1175,1468 1198,1401 1169,1396 1179,1536 1195,1497 1149,1351 1195,1392 1171,1346 1196,1449 1131,1464 1158,1465 1124,1461 1196,1456 1170,1689 1128,1536 1178,1460 1183,1504 1151,1454 1176,1669 1129,1555 1151,1655 1162,1486 1181,1661 1159,1392 1193,1450 1174,1382 1126,1380 1133,1588 1160,1608 1165,1553 1123,1537 1166,1538 1183,1460 1172,1429 1137,1451 1107,1448 1203,1428 1125,1689 1199,1464 1106,1485 1145,1715 1192,1427 1112,1415 1128,1628 1183,1702 1134,1517 1146,1344 1124,1665 1203,1412 1180,1654 1156,1638 1159,1481 1155,1477 1146,1518 1137,1495 1148,1686 1187,1526 1152,1394 1164,1409 1151,1398 1155,1406 1198,1446 1193,1469 1151,1540 1178,1368 1143,1571 1168,1519 1158,1683 1163,1531 1151,1712 1176,1516 1135,1511 1160,1357 1155,1328 1154,1454 1143,1535 1111,1437 1159,1602 1172,1630 1171,1624 1168,1554 1106,1481 1120,1438 1211,1432 1141,1617 1197,1437 1164,1398 1148,1726 1198,1541 1180,1568 1154,1375 1162,1683 1125,1590 1148,1623 1124,1434 1141,1395 1143,1697 1149,1363 1122,1481 1129,1528 1153,1549 1131,1487 1131,1613 1193,1512 1146,1531 1146,1425 1154,1543 1189,1386 1130,1365 1158,1329 1194,1533 1174,1680 1193,1463 1160,1715 1194,1564 1136,1540 1173,1688 1156,1521 1152,1707 1141,1451 1148,1612 1200,1431 1167,1471 1119,1401 1177,1605 1147,1552 1161,1406 1143,1397 1192,1437 1181,1438 1116,1478 1153,1462 1131,1681 1205,1416 1123,1681 1120,1367 1162,1473 1170,1374 1129,1484 1184,1545 1160,1691 1180,1517 1141,1382 1166,1510 1149,1517 1131,1448 1157,1344 1158,1730 1156,1592 1137,1372 1155,1301 1160,1340 1186,1687 1123,1695 1146,1695 1171,1565 1188,1647 1162,1366 1148,1382 1190,1645 1197,1430 1093,1432 1155,1315 1130,1397 1131,1427 1187,1636 1151,1536 1146,1503 1124,1503 1141,1552 1145,1684 1179,1514 1157,1530 1127,1705 1186,1414 1175,1542 1111,1511 1158,1648 1196,1536 1106,1416 1127,1569 1176,1471 1142,1385 1189,1503 1129,1384 1163,1550 1130,1402 1154,1364 1156,1536 1154,1304 1133,1674 1178,1385 1125,1477 1205,1468 1155,1684 1204,1514 1121,1462 1125,1634 1187,1678 1171,1349 1189,1640 1157,1312 1158,1389 1187,1434 1160,1663 1128,1478 1126,1669 1148,1375 1144,1406 1172,1403 1156,1446 1171,1557 1160,1537 1134,1712 1138,1505 1116,1409 1143,1655 1154,1643 1147,1340 1151,1448 1129,1499 1181,1669 1200,1395 1158,1541 1158,1618 1176,1481 1175,1705 1177,1360 1137,1666 1136,1458 1162,1648 1117,1543 1155,1747 1137,1545 1175,1676 1149,1594 1182,1494 1146,1709 1174,1436 1151,1697 1123,1672 1165,1515 1156,1688 1188,1476 1114,1509 1186,1517 1182,1532 1206,1474 1102,1458 1155,1629 1180,1623 1116,1560 1145,1386 1156,1474 1148,1388 1167,1594 1119,1426 1179,1416 1148,1655 1187,1653 1150,1700 1127,1501 1157,1721 1152,1427 1178,1602 1190,1467 1131,1380 1126,1420 1138,1578 1193,1484 1189,1370 1137,1634 1165,1492 1148,1392 1132,1584 1137,1617 1116,1485 1144,1681 1124,1445 1194,1500 1149,1395 1140,1523 1168,1466 1134,1426 1158,1588 1152,1489 1171,1352 1127,1575 1167,1479 1122,1652 1141,1681 1186,1656 1115,1438 1120,1588 1189,1583 1157,1413 1192,1681 1153,1699 1177,1465 1136,1364 1111,1405 1191,1565 1128,1462 1130,1678 1145,1475 1159,1512 1187,1404 1191,1420 1159,1420 1179,1564 1189,1376 1134,1551 1130,1674 1143,1708 1172,1445 1141,1650 1102,1461 1118,1546 1140,1706 1167,1633 1174,1376 1131,1549 1166,1653 1117,1431 1148,1332 1173,1546 1144,1658 1148,1488 1169,1652 1140,1387 1190,1410 1172,1505 1113,1468 1137,1599 1200,1506 1112,1553 1132,1409 1183,1456 1147,1368 1199,1422 1199,1434 1140,1697 1114,1483 1153,1352 1169,1341 1154,1368 1139,1443 1137,1390 1184,1525 1192,1561 1113,1472 1128,1475 1144,1472 1143,1420 1111,1493 1120,1383 1177,1371 1178,1621 1144,1673 1127,1465 1184,1691 1132,1530 1172,1469 1117,1537 1186,1522 1134,1370 1145,1434 1145,1429 1145,1495 1185,1548 1111,1498 1159,1381 1177,1511 1161,1437 1191,1500 1176,1534 1159,1404 1117,1412 1175,1559 1135,1705 1165,1363 1142,1675 1166,1424 1136,1445 1170,1497 1156,1702 1143,1530 1178,1451 1174,1509 1153,1321 1155,1725 1140,1369 1175,1523 1165,1464 1195,1551 1203,1448 1148,1543 1177,1397 1163,1703 1110,1507 1147,1457 1142,1614 1188,1558 1158,1614 1192,1494 1170,1411 1199,1486 1114,1506 1177,1692 1168,1699 1132,1386 1170,1602 1158,1469 1186,1410 1135,1603 1134,1350 1144,1677 1150,1644 1115,1540 1176,1392 1134,1650 1162,1425 1180,1431 1127,1588 1149,1606 1150,1668 1188,1701 1144,1603 1189,1518 1168,1522 1206,1430 1176,1630 1193,1543 1144,1705 1105,1434 1154,1611 1155,1449 1111,1446 1158,1677 1156,1532 1167,1502 1167,1437 1133,1383 1159,1371 1178,1656 1170,1455 1126,1523 1136,1642 1133,1566 1120,1649 1142,1482 1189,1540 1130,1552 1139,1637 1136,1464 1144,1574 1131,1394 1149,1671 1133,1422 1102,1425 1134,1678 1150,1492 1119,1681 1133,1482 1165,1366 1156,1668 1167,1619 1184,1404 1135,1658 1182,1529 1144,1665 1177,1580 1124,1499 1202,1404 1153,1331 1136,1691 1103,1430 1141,1598 1179,1488 1180,1373 1127,1403 1212,1441 1135,1556 1172,1600 1146,1378 1160,1343 1114,1441 1130,1445 1182,1475 1161,1394 1170,1420 1142,1390 1167,1582 1135,1380 1152,1475 1189,1416 1128,1595 1119,1583 1194,1491 1155,1416 1154,1616 1142,1486 1189,1595 1168,1629 1167,1663 1133,1554 1172,1414 1198,1538 1155,1425 1166,1658 1197,1556 1147,1348 1138,1403 1173,1651 1126,1541 1124,1438 1096,1441 1158,1726 1156,1481 1199,1406 1124,1527 1160,1694 1194,1422 1205,1455 1152,1729 1162,1626 1136,1639 1128,1442 1158,1705 1119,1559 1186,1540 1143,1591 1134,1447 1151,1373 1127,1530 1155,1608 1141,1515 1125,1578 1159,1578 1156,1664 1121,1662 1119,1684 1175,1431 1190,1649 1209,1428 1156,1432 1163,1503 1119,1467 1184,1611 1174,1647 1131,1656 1149,1530 1166,1454 1144,1691 1154,1720 1166,1680 1170,1459 1175,1485 1162,1601 1120,1593 1191,1548 1172,1712 1143,1585 1145,1642 1143,1449 1138,1575 1159,1672 1162,1329 1142,1502 1183,1639 1115,1553 1187,1664 1162,1567 1198,1425 1146,1669 1177,1413 1176,1428 1174,1582 1181,1526 1162,1371 1169,1500 1147,1443 1162,1611 1186,1554 1169,1598 1207,1466 1191,1662 1164,1386 1190,1400 1199,1548 1181,1551 1120,1484 1170,1545 1124,1567 1192,1475 1170,1438 1196,1477 1161,1675 1128,1542 1093,1437 1148,1576 1139,1527 1141,1372 1155,1602 1151,1391 1208,1470 1138,1358 1145,1468 1161,1353 1145,1632 1171,1583 1185,1694 1181,1364 1145,1626 1148,1591 1172,1530 1193,1455 1190,1433 1162,1334 1195,1515 1139,1501 1189,1406 1174,1387 1155,1580 1137,1519 1133,1443 1172,1560 1147,1558 1203,1407 1193,1418 1168,1383 1165,1354 1185,1537 1137,1681 1121,1567 1205,1421 1167,1489 1131,1368 1142,1356 1126,1482 1186,1565 1152,1470 1140,1447 1129,1434 1144,1382 1144,1553 1189,1593 1163,1483 1134,1600 1112,1475 1188,1661 1141,1633 1150,1693 1163,1714 1130,1371 1134,1634 1160,1594 1132,1642 1111,1430 1151,1631 1152,1663 1128,1514 1179,1700 1137,1593 1111,1502 1134,1455 1147,1506 1197,1500 1185,1432 1194,1480 1183,1557 1126,1364 1139,1530 1164,1507 1159,1527 1155,1471 1139,1671 1161,1376 1189,1570 1165,1427 1167,1387 1109,1453 1193,1415 1182,1482 1193,1431 1128,1374 1180,1628 1146,1400 1138,1614 1196,1453 1144,1514 1177,1575 1179,1578 1187,1367 1186,1406 1106,1509 1179,1644 1157,1333 1195,1504 1124,1422 1153,1516 1120,1494 1133,1513 1142,1546 1148,1627 1191,1524 1158,1378 1128,1632 1196,1407 1130,1439 1160,1646 1132,1493 1143,1423 1157,1551 1131,1573 1185,1698 1112,1484 1163,1430 1184,1562 1150,1503 1145,1565 1212,1436 1144,1479 1103,1455 1139,1379 1188,1471 1150,1551 1171,1389 1168,1350 1168,1719 1162,1447 1143,1352 1165,1697 1135,1420 1168,1428 1187,1489 1173,1473 1137,1584 1152,1317 1152,1499 1118,1492 1191,1573 1181,1370 1112,1478 1158,1396 1109,1469 1127,1424 1164,1664 1104,1475 1189,1588 1142,1379 1105,1437 1171,1433 1129,1664 1173,1620 1175,1643 1152,1686 1148,1561 1196,1488 1134,1392 1124,1550 1121,1542 1173,1489 1186,1669 1103,1439 1196,1413 1143,1345 1131,1649 1199,1393 1175,1591 1202,1496 1138,1560 1170,1568 1174,1606 1160,1723 1136,1436 1186,1597 1171,1367 1132,1619 1135,1401 1189,1693 1207,1436 1126,1674 1160,1514 1132,1437 1179,1528 1130,1694 1151,1545 1141,1341 1129,1392 1183,1397 1165,1375 1118,1674 1120,1701 1122,1530 1124,1448 1152,1507 1116,1460 1134,1527 1126,1640 1115,1493 1130,1670 1107,1412 1158,1656 1197,1529 1176,1454 1184,1568 1133,1578 1114,1385 1185,1589 1168,1623 1134,1497 1153,1575 1154,1562 1119,1562 1127,1564 1107,1514 1201,1489 1149,1636 1162,1614 1157,1353 1116,1444 1111,1410 1178,1494 1145,1629 1142,1719 1128,1368 1169,1558 1195,1428 1191,1373 1157,1401 1159,1385 1124,1601 1170,1537 1140,1539 1123,1608 1202,1500 1170,1692 1129,1524 1201,1410 1110,1424 1174,1415 1184,1642 1164,1332 1110,1420 1135,1500 1123,1691 1115,1449 1179,1650 1182,1676 1138,1394 1129,1566 1184,1371 1156,1336 1190,1380 1149,1360 1164,1661 1149,1721 1160,1589 1156,1653 1199,1427 1120,1429 1181,1444 1142,1714 1133,1615 1139,1678 1169,1639 1171,1377 1170,1486 1168,1589 1119,1476 1206,1439 1122,1699 1196,1510 1131,1507 1132,1546 1148,1365 1159,1473 1130,1405 1180,1447 1115,1418 1143,1462 1130,1533 1151,1559 1181,1688 1176,1697 1163,1435 1158,1455 1131,1564 1117,1454 1128,1409 1192,1489 1169,1511 1150,1329 1132,1581 1140,1689 1141,1477 1162,1388 1174,1626 1117,1436 1110,1456 1173,1708 1139,1656 1166,1372 1148,1730 1191,1472 1121,1410 1162,1517 1171,1685 1126,1556 1123,1430 1124,1561 1150,1410 1128,1620 1167,1440 1148,1547 1120,1526 1154,1389 1135,1645 1167,1692 1154,1558 1106,1465 1182,1428 1179,1456 1158,1605 1186,1378 1159,1583 1193,1446 1155,1371 1173,1441 1170,1527 1106,1425 1173,1553 1207,1446 1182,1400 1185,1674 1170,1490 1142,1581 1190,1413 1141,1569 1166,1432 1184,1666 1158,1417 1161,1509 1139,1660 1159,1547 1181,1620 1161,1505 1137,1376 1177,1520 1190,1529 1155,1318 1166,1667 1153,1357 1167,1672 1150,1401 1111,1489 1172,1662 1160,1623 1174,1588 1114,1512 1129,1495 1119,1380 1122,1667 1161,1500 1154,1493 1163,1593 1139,1555 1150,1337 1122,1491 1132,1458 1153,1723 1139,1459 1196,1467 1123,1414 1180,1498 1102,1470 1175,1549 1179,1406 1189,1429 1155,1729 1175,1411 1176,1350 1197,1461 1157,1509 1151,1442 1132,1490 1188,1449 1201,1455 1123,1393 1154,1434 1100,1431 1147,1535 1153,1566 1151,1436 1134,1417 1124,1574 1171,1524 1192,1517 1143,1338 1155,1539 1185,1602 1180,1479 1167,1576 1129,1699 1187,1544 1118,1391 1150,1616 1191,1699 1140,1603 1150,1432 1188,1550 1144,1454 1192,1687 1198,1411 1187,1446 1166,1484 1130,1576 1134,1671 1137,1508 1134,1693 1141,1666 1123,1406 1156,1410 1156,1487 1138,1686 1130,1569 1162,1726 1153,1312 1164,1622 1189,1521 1165,1468 1146,1599 1140,1590 1165,1520 1176,1636 1169,1712 1125,1516 1165,1617 1101,1474 1124,1465 1133,1689 1122,1441 1144,1578 1112,1525 1154,1572 1138,1492 1148,1630 1203,1479 1169,1435 1173,1640 1184,1439 1185,1649 1185,1586 1149,1706 1156,1634 1121,1599 1164,1588 1156,1555 1119,1405 1116,1425 1123,1453 1137,1716 1136,1662 1148,1446 1135,1387 1181,1554 1142,1401 1130,1639 1122,1379 1181,1665 1167,1399 1176,1663 1151,1482 1153,1671 1159,1476 1165,1591 1139,1484 1146,1614 1179,1695 1140,1363 1125,1519 1190,1482 1197,1483 1164,1415 1114,1497 1135,1535 1178,1666 1152,1677 1142,1455 1166,1556 1122,1403 1141,1607 1144,1700 1179,1482 1150,1709 1128,1648 1143,1413 1141,1587 1162,1638 1141,1533 1122,1571 1137,1675 1185,1485 1126,1398 1168,1443 1199,1443 1134,1433 1158,1625 1189,1656 1138,1454 1165,1688 1163,1652 1178,1524 1170,1540 1131,1597 1176,1497 1122,1658 1175,1476 1126,1701 1163,1563 1166,1627 1121,1688 1126,1507 1148,1659 1197,1520 1187,1467 1154,1640 1166,1524 1167,1704 1194,1425 1127,1511 1143,1498 1146,1404 1173,1634 1171,1696 1145,1547 1098,1428 1145,1465 1172,1613 1122,1564 1183,1658 1195,1539 1145,1390 1120,1502 1134,1474 1119,1395 1138,1366 1158,1565 1188,1547 1164,1580 1149,1469 1120,1640 1177,1551 1132,1476 1164,1722 1138,1645 1136,1626 1195,1403 1158,1660 1116,1428 1152,1666 1182,1591 1158,1610 1123,1512 1180,1608 1128,1520 1165,1528 1145,1361 1134,1700 1131,1602 1187,1464 1186,1461 1121,1580 1135,1397 1117,1383 1144,1538 1166,1636 1104,1443 1183,1366 1163,1403 1188,1425 1112,1427 1155,1383 1152,1523 1157,1307 1148,1523 1171,1665 1173,1370 1161,1337 1163,1547 1195,1548 1133,1685 1207,1450 1164,1444 1178,1476 1139,1517 1149,1464 1132,1430 1188,1567 1188,1457 1187,1574 1145,1542 1163,1512 1170,1618 1147,1492 1173,1659 1191,1684 1191,1654 1197,1440 1142,1641 1139,1422 1112,1529 1138,1346 1129,1469 1147,1353 1144,1623 1137,1410 1190,1696 1147,1697 1137,1369 1122,1478 1197,1419 1192,1458 1134,1561 1140,1497 1153,1338 1196,1395 1120,1515 1142,1519 1160,1332 1136,1461 1147,1676 1172,1453 1190,1544 1156,1362 1146,1482 1153,1335 1144,1597 1161,1492 1115,1516 1151,1554 1157,1711 1151,1704 1156,1672 1113,1556 1181,1603 1192,1396 1161,1397 1143,1647 1149,1568 1114,1458 1190,1444 1190,1514 1118,1446 1148,1449 1138,1350 1176,1640 1141,1359 1136,1696 1140,1622 1144,1438 1130,1591 1159,1653 1176,1405 1097,1434 1137,1383 1108,1496 1170,1356 1161,1580 1178,1589 1117,1386 1173,1693 1112,1538 1189,1599 1160,1658 1166,1715 1191,1403 1134,1571 1143,1443 1185,1469 1178,1400 1170,1609 1152,1403 1122,1390 1141,1474 1153,1694 1133,1355 1119,1459 1148,1583 1116,1557 1120,1387 1152,1658 1116,1526 1151,1628 1188,1672 1184,1489 1175,1655 1163,1420 1172,1463 1116,1502 1165,1611 1126,1552 1200,1439 1130,1630 1149,1601 1167,1642 1197,1533 1202,1444 1110,1433 1169,1371 1107,1459 1162,1576 1195,1560 1201,1466 1160,1520 1185,1507 1203,1505 1181,1673 1176,1652 1183,1387 1176,1648 1165,1473 1160,1634 1118,1464 1148,1452 1132,1667 1171,1478 1181,1452 1144,1722 1136,1581 1147,1412 1189,1507 1136,1415 1168,1415 1126,1677 1145,1651 1176,1610 1136,1587 1129,1580 1170,1659 1184,1636 1142,1684 1159,1360 1109,1399 1185,1608 1199,1473 1165,1684 1123,1641 1118,1442 1134,1610 1119,1370 1128,1583 1173,1539 1160,1458 1187,1382 1194,1435 1123,1381 1166,1419 1153,1465 1173,1609 1202,1436 1138,1476 1166,1360 1154,1626 1186,1682 1110,1395 1120,1691 1136,1709 1162,1523 1144,1489 1181,1419 1125,1457 1168,1462 1172,1449 1158,1572 1141,1625 1182,1682 1156,1518 1148,1586 1139,1413 1172,1703 1152,1324 1154,1715 1170,1400 1151,1599 1156,1340 1151,1341 1183,1598 1165,1675 1125,1611 1128,1655 1126,1537 1125,1493 1175,1701 1203,1463 1115,1488 1163,1678 1187,1401 1149,1427 1190,1497 1113,1545 1128,1682 1182,1652 1136,1654 1185,1452 1180,1464 1120,1538 1119,1654 1108,1477 1153,1735 1126,1470 1187,1442 1163,1441 1160,1666 1111,1517 1138,1712 1098,1438 1168,1695 1185,1374 1129,1378 1177,1625 1196,1381 1114,1406 1189,1667 1142,1662 1184,1392 1182,1692 1178,1409 1152,1527 1147,1472 1189,1454 1138,1700 1163,1456 1189,1438 1160,1703 1172,1359 1138,1534 1162,1495 1167,1345 1158,1407 1142,1492 1141,1512 1190,1389 1155,1380 1142,1630 1175,1615 1167,1547 1107,1505 1156,1548 1164,1406 1193,1410 1178,1674 1149,1478 1155,1525 1100,1442 1187,1562 1135,1522 1123,1387 1138,1433 1143,1527 1133,1504 1121,1636 1147,1407 1182,1542 1165,1718 1129,1635 1123,1644 1160,1368 1140,1584 1151,1365 1199,1451 1153,1496 1119,1553 1200,1415 1157,1462 1171,1627 1139,1608 1144,1522 1113,1520 1157,1643 1131,1412 1135,1439 1162,1554 1191,1479 1157,1374 1116,1564 1118,1418 1139,1595 1127,1695 1157,1595 1128,1623 1130,1415 1162,1584 1162,1468 1136,1482 1132,1403 1163,1351 1151,1414 1129,1457 1155,1705 1122,1676 1153,1635 1152,1445 1137,1537 1171,1534 1134,1592 1198,1480 1155,1709 1164,1342 1178,1425 1171,1669 1169,1447 1186,1578 1200,1513 1135,1683 1133,1451 1182,1615 1182,1697 1169,1393 1125,1474 1151,1620 1144,1369 1108,1471 1119,1687 1203,1509 1145,1336 1173,1571 1164,1559 1167,1391 1173,1355 1180,1491 1155,1677 1154,1438 1154,1622 1118,1533 1123,1419 1116,1403 1127,1658 1148,1713 1125,1649 1177,1546 1147,1539 1143,1506 1132,1399 1130,1609 1175,1526 1209,1440 1121,1556 1183,1685 1149,1345 1109,1484 1184,1497 1181,1538 1117,1497 1163,1633 1166,1412 1206,1461 1184,1418 1171,1519 1153,1674 1166,1543 1137,1361 1163,1537 1174,1595 1104,1472 1161,1348 1122,1372 1139,1399 1166,1496 1144,1375 1182,1435 1204,1433 1136,1514 1198,1553 1140,1376 1135,1630 1147,1420 1105,1452 1154,1345 1130,1453 1169,1507 1172,1409 1130,1419 1180,1469 1164,1392 1171,1481 1146,1460 1161,1710 1149,1565 1107,1462 1125,1410 1146,1646 1162,1669 1166,1600 1162,1363 1102,1446 1126,1414 1181,1632 1164,1607 1185,1436 1189,1461 1173,1458 1201,1482 1181,1408 1186,1502 1216,1437 1167,1369 1166,1336 1180,1571 1121,1521 1175,1672 1178,1394 1130,1685 1142,1644 1126,1451 1151,1417 1119,1678 1166,1570 1132,1377 1163,1573 1132,1697 1177,1491 1107,1430 1160,1597 1113,1533 1174,1423 1173,1699 1128,1572 1115,1470 1113,1381 1174,1520 1150,1514 1208,1432 1138,1470 1113,1398 1180,1636 1174,1365 1131,1538 1137,1552 1172,1550 1102,1478 1126,1385 1181,1583 1156,1358 1194,1459 1175,1622 1168,1406 1162,1701 1139,1438 1151,1386 1160,1324 1179,1670 1132,1708 1162,1534 1154,1503 1163,1379 1206,1482 1135,1477 1178,1681 1179,1389 1107,1444 1123,1702 1190,1511 1118,1398 1116,1394 1151,1457 1184,1671 1147,1498 1176,1583 1146,1605 1131,1606 1142,1611 1126,1431 1159,1439 1203,1474 1136,1595 1186,1389 1156,1691 1182,1486 1172,1417 1105,1479 1108,1500 1121,1432 1144,1617 1150,1716 1139,1463 1179,1543 1120,1455 1164,1461 1158,1498 1146,1571 1157,1716 1135,1485 1113,1388 1143,1366 1126,1427 1146,1688 1154,1510 1176,1355 1165,1670 1151,1581 1154,1422 1109,1480 1141,1575 1177,1421 1175,1361 1148,1416 1155,1697 1158,1494 1207,1425 1150,1641 1176,1685 1159,1431 1129,1561 1181,1394 1176,1598 1154,1650 1194,1527 1203,1439 1145,1582 1165,1348 1146,1372 1159,1532 1144,1348 1138,1624 1170,1706 1171,1654 1175,1504 1141,1702 1145,1409 1160,1464 1151,1571 1188,1580 1197,1385 1186,1423 1118,1450 1112,1548 1110,1450 1155,1661 1143,1459 1143,1687 1184,1594 1132,1500 1163,1642 1137,1563 1130,1502 1193,1521 1155,1395 1159,1700 1177,1570 1134,1406 1192,1658 1188,1604 1195,1398 1159,1517 1156,1545 1155,1743 1121,1398 1181,1509 1201,1399 1196,1474 1142,1637 1159,1490 1169,1347 1132,1645 1179,1703 1188,1689 1127,1615 1113,1401 1175,1418 1172,1513 1146,1619 1138,1631 1125,1486 1167,1378 1151,1578 1124,1584 1128,1505 1169,1677 1141,1564 1160,1544 1152,1379 1155,1441 1143,1550 1173,1394 1131,1706 1157,1599 1205,1458 1127,1446 1134,1367 1153,1308 1149,1680 1131,1374 1153,1485 1194,1386 1124,1637 1102,1450 1133,1624 1169,1360 1177,1507 1137,1473 1147,1527 1189,1554 1159,1555 1122,1685 1149,1439 1130,1659 1176,1448 1126,1372 1132,1637 1179,1540 1193,1507 1129,1388 1167,1613 1181,1378 1148,1430 1128,1517 1149,1405 1153,1595 1153,1584 1166,1339 1149,1356 1133,1543 1150,1733 1146,1358 1152,1383 1122,1577 1170,1579 1119,1578 1166,1459 1159,1630 1156,1576 1178,1690 1119,1529 1156,1733 1168,1475 1152,1726 1184,1582 1135,1429 1187,1498 1160,1697 1150,1683 1151,1689 1180,1685 1120,1448 1164,1382 1156,1323 1127,1601 1163,1359 1131,1511 1154,1399 1180,1381 1122,1475 1136,1490 1121,1548 1188,1535 1133,1461 1118,1573 1170,1593 1137,1620 1176,1564 1118,1513 1155,1301 1154,1310 1155,1747 1155,1756 1155,1765"/>
<line x1="1087.8" x2="1221.9" y1="1508.9" y2="1508.9" stroke="#000" stroke-width="1.9"/>
<polyline fill="none" stroke="none" marker-start="url(#nr)" marker-mid="url(#nr)" marker-end="url(#nr)" points="1370,1372 1377,1500 1338,1479 1358,1621 1385,1550 1373,1536 1382,1360 1333,1376 1355,1574 1342,1448 1356,1630 1338,1711 1334,1379 1403,1447 1397,1402 1396,1412 1373,1466 1361,1447 1363,1585 1333,1422 1362,1393 1365,1641 1342,1359 1368,1337 1389,1511 1401,1443 1360,1569 1386,1500 1374,1364 1364,1493 1394,1467 1387,1445 1357,1570 1348,1658 1363,1356 1352,1575 1336,1359 1331,1700 1335,1660 1345,1543 1398,1420 1347,1670 1341,1561 1305,1448 1337,1377 1397,1371 1349,1485 1371,1719 1310,1431 1354,1705 1374,1529 1316,1484 1325,1507 1360,1670 1343,1506 1358,1407 1300,1420 1355,1497 1339,1656 1396,1438 1339,1381 1345,1566 1381,1675 1345,1454 1315,1399 1389,1454 1309,1379 1363,1592 1329,1517 1370,1484 1371,1365 1379,1674 1351,1365 1390,1476 1378,1484 1329,1445 1362,1361 1359,1610 1360,1378 1409,1457 1370,1577 1386,1463 1355,1529 1347,1686 1374,1399 1337,1476 1352,1734 1382,1661 1365,1517 1349,1668 1337,1586 1347,1429 1375,1619 1369,1614 1367,1657 1347,1358 1349,1348 1360,1323 1330,1398 1370,1695 1384,1667 1376,1454 1388,1390 1325,1418 1385,1422 1338,1461 1363,1657 1304,1458 1357,1403 1347,1506 1333,1387 1304,1405 1386,1478 1304,1437 1377,1508 1366,1542 1380,1541 1383,1505 1359,1424 1330,1366 1395,1427 1347,1586 1397,1377 1320,1389 1367,1465 1341,1508 1409,1424 1313,1432 1367,1684 1344,1516 1366,1598 1353,1598 1354,1605 1364,1610 1366,1477 1376,1681 1372,1597 1367,1666 1323,1372 1414,1405 1371,1691 1366,1482 1376,1360 1364,1721 1368,1532 1371,1497 1334,1671 1313,1453 1380,1373 1366,1416 1345,1627 1359,1563 1331,1537 1356,1516 1333,1663 1359,1490 1305,1400 1317,1459 1318,1467 1378,1358 1378,1620 1351,1362 1335,1510 1364,1368 1349,1607 1374,1548 1337,1391 1310,1410 1337,1526 1369,1712 1346,1483 1334,1704 1383,1382 1358,1479 1367,1385 1368,1574 1319,1394 1351,1356 1336,1685 1345,1655 1316,1393 1351,1457 1345,1539 1365,1346 1338,1578 1328,1459 1370,1452 1364,1391 1372,1604 1327,1494 1345,1434 1357,1319 1375,1495 1399,1381 1371,1523 1380,1418 1330,1370 1360,1453 1356,1419 1391,1481 1348,1422 1374,1557 1378,1666 1388,1436 1381,1356 1366,1625 1342,1643 1344,1681 1419,1450 1354,1565 1351,1411 1350,1633 1384,1404 1313,1391 1362,1572 1412,1453 1338,1357 1338,1581 1366,1718 1357,1447 1410,1415 1346,1606 1355,1381 1355,1647 1315,1488 1369,1503 1368,1426 1380,1383 1404,1400 1345,1616 1349,1433 1369,1492 1384,1491 1352,1499 1374,1358 1378,1643 1352,1714 1374,1391 1340,1424 1369,1413 1387,1416 1349,1610 1349,1561 1367,1632 1363,1606 1356,1708 1313,1446 1375,1669 1378,1380 1309,1445 1362,1645 1399,1488 1343,1536 1333,1505 1381,1704 1364,1596 1358,1645 1359,1363 1323,1483 1338,1507 1392,1404 1385,1459 1324,1422 1365,1565 1341,1690 1383,1444 1397,1388 1333,1525 1377,1391 1363,1351 1386,1456 1333,1395 1371,1543 1356,1442 1377,1576 1347,1519 1338,1620 1333,1681 1375,1506 1351,1683 1344,1414 1311,1438 1381,1557 1317,1496 1380,1479 1346,1575 1415,1455 1390,1407 1343,1353 1343,1431 1404,1387 1366,1424 1379,1528 1353,1390 1346,1707 1343,1397 1362,1472 1358,1544 1355,1510 1369,1586 1362,1347 1348,1703 1364,1687 1344,1573 1339,1352 1362,1461 1346,1645 1341,1695 1393,1435 1383,1454 1368,1496 1353,1485 1306,1461 1364,1569 1379,1421 1354,1591 1344,1365 1399,1463 1358,1537 1366,1587 1340,1409 1318,1462 1361,1687 1389,1413 1382,1511 1380,1669 1350,1700 1407,1398 1384,1522 1369,1687 1375,1581 1336,1570 1329,1361 1346,1593 1394,1512 1333,1439 1363,1489 1387,1449 1385,1384 1332,1672 1372,1610 1304,1455 1355,1702 1358,1566 1374,1570 1373,1639 1372,1565 1346,1367 1382,1693 1366,1677 1380,1560 1321,1477 1401,1391 1380,1683 1375,1443 1370,1383 1367,1589 1388,1466 1339,1676 1379,1524 1323,1474 1359,1641 1403,1420 1379,1503 1396,1416 1382,1646 1342,1622 1386,1692 1332,1401 1312,1427 1359,1450 1382,1423 1399,1492 1339,1595 1357,1386 1332,1528 1367,1681 1343,1554 1375,1540 1319,1416 1339,1472 1344,1408 1353,1408 1323,1388 1373,1455 1348,1460 1331,1433 1380,1532 1378,1544 1364,1545 1381,1654 1368,1397 1347,1663 1385,1361 1341,1442 1367,1688 1347,1602 1344,1634 1348,1696 1393,1477 1353,1376 1327,1424 1340,1683 1328,1401 1343,1570 1325,1456 1353,1368 1362,1464 1397,1398 1389,1532 1385,1684 1347,1457 1381,1447 1343,1662 1371,1684 1335,1656 1367,1369 1335,1416 1358,1456 1341,1686 1405,1390 1368,1508 1312,1462 1373,1715 1348,1415 1353,1555 1335,1699 1324,1393 1356,1715 1381,1415 1379,1581 1369,1540 1337,1482 1370,1480 1334,1372 1342,1557 1412,1424 1397,1460 1410,1397 1363,1376 1340,1551 1355,1560 1371,1349 1354,1471 1334,1545 1411,1421 1344,1477 1341,1613 1322,1379 1329,1462 1359,1482 1335,1369 1358,1383 1382,1407 1389,1432 1352,1426 1349,1719 1334,1548 1361,1544 1371,1558 1332,1415 1338,1372 1355,1732 1330,1476 1363,1715 1346,1376 1359,1554 1332,1463 1351,1553 1382,1508 1343,1719 1332,1521 1334,1693 1370,1404 1395,1378 1366,1630 1359,1427 1373,1699 1329,1523 1353,1459 1337,1550 1394,1410 1312,1400 1412,1458 1340,1445 1404,1397 1325,1415 1379,1568 1351,1446 1376,1589 1412,1417 1375,1595 1342,1666 1381,1537 1306,1432 1358,1316 1356,1554 1365,1727 1364,1342 1362,1554 1377,1536 1367,1672 1374,1378 1368,1455 1338,1545 1364,1398 1337,1397 1317,1404 1366,1353 1350,1371 1333,1500 1356,1394 1337,1431 1396,1424 1362,1404 1403,1416 1317,1381 1405,1408 1354,1503 1346,1678 1367,1461 1366,1407 1381,1402 1367,1441 1352,1380 1359,1697 1369,1443 1355,1738 1326,1535 1355,1683 1373,1458 1369,1668 1353,1625 1384,1390 1393,1486 1332,1650 1305,1392 1411,1405 1358,1398 1352,1528 1377,1685 1343,1564 1377,1348 1368,1401 1396,1405 1367,1519 1385,1555 1373,1678 1352,1417 1413,1448 1360,1586 1366,1335 1373,1485 1345,1348 1328,1502 1357,1719 1395,1446 1353,1667 1369,1553 1353,1691 1400,1415 1361,1558 1345,1624 1348,1513 1335,1385 1348,1652 1378,1697 1390,1489 1346,1501 1379,1494 1364,1456 1359,1374 1386,1543 1354,1652 1348,1522 1340,1564 1357,1527 1341,1573 1353,1694 1363,1664 1373,1347 1352,1567 1400,1406 1371,1506 1338,1515 1355,1724 1380,1439 1346,1384 1340,1395 1345,1425 1316,1396 1366,1514 1354,1398 1407,1394 1343,1428 1329,1528 1361,1729 1320,1382 1363,1384 1350,1573 1389,1506 1307,1453 1350,1386 1342,1406 1382,1700 1361,1443 1349,1649 1336,1680 1327,1452 1384,1526 1326,1489 1349,1622 1319,1407 1359,1463 1320,1445 1307,1424 1322,1468 1383,1484 1340,1419 1345,1597 1380,1520 1347,1525 1374,1644 1366,1472 1362,1334 1355,1365 1390,1381 1349,1538 1333,1540 1360,1486 1366,1469 1354,1601 1352,1532 1304,1429 1361,1622 1317,1479 1377,1701 1356,1372 1359,1333 1356,1436 1391,1427 1352,1642 1381,1369 1392,1504 1350,1351 1356,1676 1342,1701 1340,1715 1330,1483 1362,1527 1365,1509 1352,1440 1315,1422 1358,1410 1366,1712 1331,1547 1371,1670 1397,1456 1334,1477 1366,1724 1359,1359 1342,1377 1348,1636 1337,1531 1338,1401 1349,1680 1357,1638 1323,1375 1385,1400 1349,1565 1321,1369 1407,1431 1349,1569 1364,1479 1331,1676 1350,1472 1346,1442 1339,1664 1371,1680 1354,1514 1360,1631 1308,1442 1362,1515 1415,1451 1375,1410 1373,1394 1340,1672 1383,1535 1340,1529 1318,1385 1369,1473 1404,1457 1348,1444 1381,1363 1309,1417 1348,1581 1359,1494 1309,1391 1320,1495 1409,1450 1378,1388 1311,1414 1385,1469 1335,1436 1356,1618 1359,1401 1349,1617 1391,1520 1379,1454 1387,1474 1335,1522 1302,1409 1384,1659 1409,1461 1370,1438 1383,1678 1327,1427 1381,1696 1378,1466 1323,1440 1353,1423 1329,1442 1347,1476 1355,1611 1332,1686 1341,1626 1361,1524 1350,1543 1350,1463 1378,1693 1351,1688 1356,1362 1401,1459 1333,1356 1337,1542 1398,1427 1343,1601 1326,1504 1393,1456 1370,1570 1352,1607 1400,1397 1348,1497 1344,1693 1401,1423 1331,1513 1324,1510 1349,1481 1329,1507 1332,1563 1314,1404 1350,1624 1371,1397 1335,1452 1361,1602 1400,1451 1384,1560 1337,1589 1323,1465 1349,1374 1350,1398 1379,1411 1346,1531 1349,1454 1353,1542 1359,1513 1329,1422 1372,1561 1387,1496 1398,1479 1365,1452 1357,1433 1358,1413 1392,1444 1319,1397 1404,1424 1360,1396 1352,1332 1382,1471 1353,1373 1314,1441 1346,1340 1364,1622 1390,1492 1303,1397 1409,1392 1366,1552 1358,1634 1316,1409 1371,1582 1323,1486 1348,1490 1335,1503 1363,1615 1387,1493 1338,1454 1377,1661 1332,1405 1343,1491 1350,1530 1394,1499 1365,1506 1397,1448 1346,1682 1394,1432 1350,1727 1377,1426 1376,1676 1310,1394 1366,1694 1348,1533 1338,1422 1352,1454 1388,1535 1340,1375 1373,1354 1370,1658 1387,1503 1357,1337 1331,1436 1347,1721 1343,1421 1366,1612 1327,1389 1385,1438 1348,1404 1343,1381 1359,1500 1389,1393 1341,1577 1364,1520 1346,1633 1362,1388 1360,1701 1342,1411 1366,1356 1341,1532 1365,1701 1302,1424 1334,1572 1329,1488 1369,1600 1399,1446 1339,1535 1340,1659 1370,1509 1395,1480 1373,1417 1305,1389 1300,1448 1383,1426 1329,1681 1391,1447 1378,1586 1358,1738 1369,1566 1390,1500 1362,1612 1335,1413 1405,1380 1360,1547 1345,1497 1398,1431 1351,1509 1384,1448 1358,1523 1335,1405 1315,1425 1374,1708 1357,1596 1364,1632 1406,1448 1376,1437 1314,1379 1362,1423 1336,1707 1373,1511 1379,1404 1376,1664 1337,1618 1319,1454 1354,1582 1357,1689 1363,1619 1384,1473 1338,1511 1367,1341 1295,1450 1360,1328 1368,1536 1335,1463 1343,1696 1375,1584 1393,1419 1352,1519 1334,1482 1358,1510 1358,1693 1360,1475 1366,1411 1356,1550 1340,1431 1376,1626 1376,1552 1378,1460 1329,1491 1328,1404 1353,1448 1363,1550 1326,1477 1315,1374 1337,1538 1350,1548 1329,1374 1327,1514 1354,1614 1332,1646 1358,1346 1341,1608 1325,1407 1331,1379 1350,1643 1368,1603 1360,1675 1308,1398 1371,1532 1392,1438 1394,1459 1358,1654 1376,1354 1312,1389 1372,1494 1407,1422 1323,1496 1344,1391 1325,1450 1361,1648 1317,1474 1340,1363 1344,1686 1374,1518 1396,1385 1344,1674 1345,1580 1322,1414 1379,1610 1321,1461 1390,1496 1398,1496 1338,1650 1356,1673 1396,1491 1368,1709 1351,1647 1362,1734 1396,1435 1364,1708 1404,1404 1355,1331 1360,1539 1369,1362 1363,1652 1301,1455 1339,1605 1347,1690 1367,1558 1313,1386 1361,1344 1326,1365 1372,1540 1332,1655 1403,1438 1339,1642 1376,1482 1362,1691 1342,1487 1337,1457 1376,1491 1361,1720 1368,1691 1304,1419 1389,1524 1324,1524 1351,1705 1342,1591 1326,1397 1317,1389 1367,1350 1332,1448 1316,1437 1345,1504 1367,1449 1388,1483 1376,1402 1371,1546 1320,1419 1351,1711 1349,1419 1366,1652 1343,1710 1346,1553 1329,1414 1390,1400 1347,1571 1380,1433 1353,1570 1353,1632 1377,1487 1357,1742 1372,1362 1344,1588 1325,1430 1326,1441 1351,1451 1333,1382 1400,1386 1335,1519 1370,1459 1351,1524 1328,1409 1307,1385 1355,1415 1322,1395 1313,1410 1378,1654 1332,1474 1328,1385 1360,1636 1341,1459 1364,1730 1373,1472 1315,1428 1369,1638 1322,1456 1367,1619 1354,1351 1358,1704 1313,1383 1331,1471 1414,1420 1402,1377 1358,1624 1356,1500 1376,1532 1333,1419 1374,1600 1378,1646 1373,1652 1308,1436 1350,1505 1370,1676 1356,1587 1400,1435 1360,1432 1320,1472 1340,1494 1356,1484 1320,1488 1354,1477 1393,1423 1405,1411 1350,1428 1351,1600 1371,1462 1363,1626 1334,1513 1332,1451 1368,1511 1342,1639 1384,1663 1349,1724 1368,1467 1364,1332 1325,1527 1361,1382 1343,1545 1346,1398 1323,1516 1373,1574 1330,1387 1342,1500 1343,1373 1299,1444 1342,1466 1315,1417 1334,1557 1372,1421 1389,1460 1329,1540 1348,1409 1325,1411 1334,1568 1354,1344 1373,1375 1335,1366 1356,1534 1342,1526 1361,1532 1346,1372 1344,1583 1330,1418 1386,1512 1339,1428 1416,1409 1362,1641 1322,1430 1334,1410 1333,1679 1347,1629 1378,1547 1365,1497 1378,1570 1372,1550 1332,1560 1307,1457 1325,1369 1348,1391 1384,1370 1363,1542 1372,1340 1410,1429 1368,1375 1376,1641 1373,1387 1378,1475 1385,1696 1357,1487 1350,1603 1347,1675 1354,1656 1374,1692 1371,1641 1363,1364 1351,1627 1359,1605 1376,1420 1384,1681 1357,1745 1346,1494 1337,1592 1372,1426 1321,1504 1381,1391 1369,1721 1358,1504 1357,1305 1353,1494 1389,1440 1343,1394 1374,1431 1365,1530 1353,1340 1409,1440 1345,1469 1328,1692 1320,1438 1362,1498 1344,1472 1365,1636 1378,1451 1305,1410 1371,1470 1369,1630 1399,1394 1386,1380 1344,1631 1384,1495 1381,1516 1354,1594 1373,1663 1357,1309 1383,1480 1346,1419 1348,1450 1315,1492 1337,1492 1360,1711 1394,1369 1408,1437 1382,1553 1391,1373 1376,1559 1342,1567 1348,1716 1344,1510 1369,1593 1372,1674 1388,1410 1320,1508 1359,1627 1372,1343 1337,1363 1342,1596 1306,1440 1335,1529 1310,1452 1332,1555 1360,1666 1346,1667 1337,1410 1294,1414 1383,1378 1373,1369 1343,1715 1401,1455 1335,1696 1343,1670 1337,1555 1340,1490 1369,1433 1342,1402 1357,1685 1404,1442 1317,1440 1347,1345 1328,1430 1342,1655 1408,1389 1375,1567 1371,1709 1319,1376 1408,1419 1357,1349 1320,1428 1353,1549 1338,1348 1341,1470 1341,1583 1355,1456 1351,1697 1370,1645 1376,1463 1356,1659 1346,1562 1344,1370 1389,1387 1377,1448 1341,1484 1381,1657 1393,1413 1309,1387 1350,1339 1374,1439 1364,1648 1412,1444 1374,1351 1369,1343 1390,1369 1323,1443 1351,1479 1365,1431 1336,1564 1352,1545 1339,1600 1338,1702 1356,1607 1354,1354 1378,1471 1376,1371 1369,1703 1333,1659 1334,1363 1340,1617 1302,1400 1310,1383 1397,1441 1352,1562 1344,1513 1409,1434 1333,1517 1385,1397 1330,1480 1369,1421 1323,1436 1359,1551 1389,1378 1393,1508 1341,1629 1381,1397 1370,1430 1350,1693 1419,1414 1407,1405 1312,1406 1372,1607 1353,1466 1357,1681 1379,1394 1362,1411 1363,1581 1348,1510 1391,1416 1343,1521 1352,1488 1381,1688 1341,1391 1353,1721 1361,1706 1400,1374 1356,1323 1376,1478 1383,1498 1354,1697 1351,1654 1342,1652 1360,1436 1386,1433 1349,1597 1369,1654 1392,1516 1362,1518 1341,1512 1377,1512 1389,1425 1356,1423 1349,1584 1370,1651 1350,1377 1368,1528 1328,1520 1357,1613 1372,1704 1365,1379 1374,1659 1340,1587 1387,1515 1344,1619 1363,1703 1375,1384 1361,1682 1332,1696 1338,1699 1356,1735 1353,1394 1355,1663 1391,1473 1385,1430 1359,1731 1363,1476 1317,1443 1339,1449 1311,1377 1394,1494 1383,1532 1359,1716 1330,1550 1361,1416 1350,1516 1368,1643 1341,1455 1321,1400 1329,1466 1318,1423 1383,1543 1306,1414 1382,1387 1383,1440 1376,1704 1396,1464 1355,1492 1331,1407 1357,1602 1345,1463 1347,1439 1339,1387 1370,1476 1386,1442 1408,1385 1308,1421 1356,1427 1367,1365 1392,1376 1374,1613 1388,1521 1382,1467 1373,1712 1367,1647 1304,1422 1338,1694 1373,1407 1372,1441 1317,1447 1375,1563 1367,1524 1352,1539 1373,1554 1369,1346 1377,1398 1351,1579 1364,1670 1364,1681 1364,1577 1326,1498 1365,1555 1356,1577 1382,1412 1373,1594 1360,1679 1365,1574 1312,1422 1336,1444 1351,1513 1296,1417 1394,1441 1341,1680 1369,1417 1340,1516 1377,1605 1321,1385 1374,1544 1332,1532 1352,1585 1402,1413 1353,1671 1349,1501 1337,1646 1344,1445 1380,1550 1336,1534 1325,1460 1376,1711 1330,1684 1374,1424 1357,1649 1337,1690 1369,1611 1340,1704 1349,1709 1354,1678 1331,1392 1384,1374 1363,1667 1358,1312 1383,1501 1323,1453 1334,1430 1343,1480 1308,1407 1382,1393 1335,1562 1387,1489 1365,1698 1320,1450 1363,1440 1383,1672 1325,1401 1365,1500 1360,1366 1335,1651 1346,1486 1352,1347 1336,1394 1388,1469 1358,1369 1377,1649 1321,1512 1357,1592 1354,1506 1352,1638 1334,1489 1378,1618 1373,1500 1362,1672 1385,1518 1356,1469 1417,1417 1345,1703 1330,1395 1316,1414 1355,1547 1359,1660 1381,1572 1402,1384 1345,1534 1343,1349 1369,1623 1299,1451 1342,1384 1384,1515 1342,1548 1394,1382 1359,1341 1333,1667 1384,1410 1378,1658 1325,1434 1333,1689 1387,1369 1389,1420 1355,1628 1351,1468 1372,1666 1309,1448 1374,1503 1358,1392 1337,1613 1376,1688 1348,1381 1332,1444 1345,1613 1339,1465 1339,1366 1387,1540 1353,1436 1367,1569 1354,1384 1392,1463 1377,1441 1322,1425 1324,1520 1347,1412 1299,1405 1328,1471 1340,1519 1407,1426 1360,1595 1354,1452 1358,1356 1326,1467 1344,1344 1341,1504 1329,1455 1361,1566 1373,1480 1343,1387 1368,1706 1378,1376 1382,1461 1318,1433 1391,1385 1374,1434 1347,1640 1337,1610 1383,1563 1345,1355 1296,1447 1398,1484 1334,1456 1369,1488 1400,1418 1358,1531 1326,1532 1392,1395 1338,1653 1394,1374 1339,1523 1352,1659 1352,1664 1337,1434 1381,1577 1351,1675 1354,1411 1367,1607 1371,1400 1354,1522 1355,1712 1376,1344 1365,1394 1377,1431 1365,1533 1353,1420 1338,1406 1376,1515 1372,1648 1329,1543 1362,1536 1355,1622 1346,1447 1403,1429 1359,1723 1386,1547 1327,1437 1377,1518 1320,1499 1330,1688 1363,1638 1334,1468 1329,1696 1334,1675 1358,1558 1335,1471 1357,1342 1358,1663 1395,1451 1352,1703 1416,1447 1396,1486 1395,1474 1344,1439 1369,1356 1381,1666 1344,1641 1355,1642 1351,1343 1319,1482 1336,1496 1353,1686 1356,1378 1338,1567 1345,1649 1348,1590 1382,1457 1360,1656 1384,1365 1375,1523 1335,1353 1388,1527 1372,1516 1370,1698 1353,1463 1372,1414 1379,1690 1405,1435 1370,1352 1352,1536 1306,1380 1380,1487 1376,1592 1362,1484 1406,1452 1403,1433 1331,1508 1388,1404 1358,1519 1376,1468 1360,1370 1333,1360 1304,1434 1315,1449 1372,1634 1350,1661 1301,1416 1351,1389 1389,1457 1398,1408 1320,1412 1338,1414 1345,1713 1367,1445 1348,1577 1332,1427 1375,1672 1364,1436 1365,1537 1406,1415 1361,1479 1356,1473 1332,1485 1341,1415 1362,1588 1344,1450 1404,1462 1342,1605 1400,1400 1369,1514 1308,1402 1348,1436 1345,1528 1357,1460 1378,1613 1329,1497 1409,1454 1346,1388 1350,1407 1371,1392 1372,1527 1340,1437 1382,1429 1363,1562 1326,1377 1323,1404 1369,1549 1364,1337 1365,1382 1322,1479 1329,1380 1357,1729 1360,1651 1410,1409 1370,1409 1372,1491 1384,1418 1363,1678 1366,1489 1346,1700 1358,1573 1364,1460 1403,1394 1356,1540 1380,1499 1340,1355 1350,1335 1399,1438 1339,1500 1364,1426 1347,1472 1363,1469 1360,1576 1348,1395 1361,1598 1341,1476 1325,1446 1355,1358 1365,1404 1387,1372 1345,1401 1366,1388 1322,1408 1336,1643 1318,1400 1362,1726 1362,1373 1382,1451 1377,1555 1381,1547 1364,1523 1400,1411 1382,1568 1313,1397 1385,1393 1364,1448 1329,1510 1351,1431 1368,1545 1368,1579 1411,1412 1335,1581 1330,1411 1347,1350 1373,1683 1326,1382 1337,1488 1408,1446 1370,1424 1351,1401 1365,1660 1343,1436 1360,1386 1326,1482 1354,1335 1381,1474 1340,1497 1392,1451 1415,1414 1389,1365 1375,1654 1347,1362 1394,1399 1365,1705 1337,1560 1324,1491 1362,1429 1396,1394 1298,1413 1360,1420 1353,1619 1341,1708 1350,1557 1349,1368 1319,1372 1390,1397 1346,1547 1407,1401 1355,1328 1383,1435 1359,1471 1375,1475 1348,1342 1360,1458 1329,1534 1335,1448 1371,1589 1390,1485 1385,1507 1379,1353 1374,1695 1384,1690 1349,1593 1341,1452 1384,1650 1302,1440 1393,1389 1368,1715 1354,1727 1336,1666 1340,1540 1378,1415 1327,1485 1367,1437 1362,1503 1335,1553 1312,1457 1383,1539 1358,1444 1370,1388 1410,1400 1391,1468 1371,1617 1364,1602 1312,1450 1369,1380 1326,1517 1376,1573 1363,1419 1363,1512 1341,1344 1361,1337 1367,1486 1354,1717 1324,1470 1337,1440 1367,1583 1302,1445 1381,1491 1372,1447 1374,1616 1378,1363 1360,1581 1352,1404 1327,1464 1376,1394 1362,1408 1377,1407 1362,1629 1352,1681 1354,1431 1384,1488 1348,1550 1392,1430 1380,1443 1344,1610 1367,1563 1359,1467 1374,1622 1353,1635 1385,1655 1354,1444 1358,1389 1388,1429 1375,1451 1347,1556 1337,1425 1376,1366 1371,1626 1357,1599 1298,1409 1318,1471 1351,1589 1356,1668 1344,1689 1403,1450 1304,1451 1365,1373 1337,1468 1385,1676 1385,1529 1386,1377 1309,1428 1379,1678 1356,1464 1331,1495 1306,1395 1339,1669 1375,1629 1376,1526 1333,1459 1337,1673 1337,1573 1334,1494 1344,1660 1320,1492 1378,1707 1306,1445 1365,1527 1367,1359 1380,1651 1349,1354 1352,1730 1359,1439 1312,1417 1353,1482 1336,1485 1377,1457 1374,1488 1362,1509 1395,1471 1374,1578 1309,1462 1334,1577 1350,1614 1349,1493 1327,1394 1386,1688 1357,1583 1362,1697 1379,1563 1331,1384 1369,1663 1372,1687 1386,1407 1323,1502 1376,1610 1342,1648 1358,1353 1361,1694 1316,1454 1341,1368 1344,1458 1328,1450 1362,1400 1366,1548 1347,1466 1364,1675 1370,1519 1317,1430 1360,1616 1302,1412 1357,1306 1358,1315 1356,1743 1357,1283 1357,1752 1357,1761 1357,1769"/>
<line x1="1290.0" x2="1424.4" y1="1481.5" y2="1481.5" stroke="#000" stroke-width="1.9"/>
<g id="panelA">
<text class="b" x="-0.8" y="48.6" font-size="62">A</text>
<rect x="225.5" y="4" width="726.5" height="77.8" fill="none" stroke="#000" stroke-width="3.2"/>
<text class="m" x="577.8" y="60" font-size="47.6">All Cases</text>
<text class="m" x="571" y="168.2" font-size="39.3">d = 0.14 (p&lt;0.0001)</text>
<line x1="414.9" x2="727" y1="189.7" y2="189.7" stroke="#000" stroke-width="2"/>
<path class="ax" stroke-width="2" d="M185.3 200.9V983.9H967.2"/>
<line x1="168" x2="185.3" y1="201.9" y2="201.9" stroke="#000" stroke-width="2"/>
<text class="b e" x="161.5" y="217.2" font-size="44">10</text>
<line x1="168" x2="185.3" y1="425.4" y2="425.4" stroke="#000" stroke-width="2"/>
<text class="b e" x="161.5" y="440.7" font-size="44">20</text>
<line x1="168" x2="185.3" y1="648.9" y2="648.9" stroke="#000" stroke-width="2"/>
<text class="b e" x="161.5" y="664.2" font-size="44">30</text>
<line x1="168" x2="185.3" y1="872.4" y2="872.4" stroke="#000" stroke-width="2"/>
<text class="b e" x="161.5" y="887.7" font-size="44">40</text>
<line x1="408" x2="408" y1="983.9" y2="1001.7" stroke="#000" stroke-width="2"/>
<line x1="743.6" x2="743.6" y1="983.9" y2="1001.7" stroke="#000" stroke-width="2"/>
<text class="b m" transform="translate(92.6 581.4) rotate(-90)" font-size="44.2">N1 cycle threshold</text>
<text class="m" x="409.8" y="925.5" font-size="39">11,084</text>
<text class="m" x="740.7" y="925.8" font-size="39">9,347</text>
<text class="b m" x="408.5" y="1047" font-size="45.2">Unvaccinated</text>
<text class="b m" x="742.5" y="1047" font-size="45.2">Vaccinated</text>
</g>
<g id="panelC">
<text class="b" x="1072.3" y="48.4" font-size="62">C</text>
<g fill="#fff" stroke="#000" stroke-width="2"><circle cx="1405.8" cy="186.2" r="6.5"/><circle cx="1310.2" cy="336.9" r="6.5"/><circle cx="1354.1" cy="342.1" r="6.5"/><circle cx="1398.8" cy="329.2" r="6.5"/><circle cx="1485.7" cy="329.2" r="6.5"/><circle cx="1530.8" cy="336.9" r="6.5"/><circle cx="1567.8" cy="320.3" r="6.5"/><circle cx="1441" cy="376.2" r="6.5"/><circle cx="1344.3" cy="440" r="6.5"/><circle cx="1414.8" cy="525.5" r="6.5"/><circle cx="1485" cy="537.1" r="6.5"/><circle cx="1535.1" cy="508.4" r="6.5"/><circle cx="1322.2" cy="592.7" r="6.5"/><circle cx="1365.7" cy="599.4" r="6.5"/><circle cx="1453" cy="606.4" r="6.5"/><circle cx="1540.7" cy="599.4" r="6.5"/><circle cx="1288.1" cy="632.2" r="6.5"/><circle cx="1529.1" cy="670.3" r="6.5"/><circle cx="1403.3" cy="688.1" r="6.5"/><circle cx="1446.2" cy="743.9" r="6.5"/><circle cx="1355.4" cy="985.8" r="6.5"/><circle cx="1380.7" cy="985.8" r="6.5"/><circle cx="1431.7" cy="985.8" r="6.5"/><circle cx="1482.2" cy="985.8" r="6.5"/></g>
<g fill="#c5070c" stroke="#000" stroke-width="2"><circle cx="1812.5" cy="107.4" r="6.85"/><circle cx="1761.1" cy="250.6" r="6.85"/><circle cx="1668.2" cy="294.9" r="6.85"/><circle cx="1838.3" cy="293.2" r="6.85"/><circle cx="1880.9" cy="294.9" r="6.85"/><circle cx="1710.4" cy="322.3" r="6.85"/><circle cx="1795.4" cy="344.8" r="6.85"/><circle cx="1637.2" cy="436.8" r="6.85"/><circle cx="1924.7" cy="440.1" r="6.85"/><circle cx="1764.7" cy="453.6" r="6.85"/><circle cx="1678" cy="508.3" r="6.85"/><circle cx="1850.3" cy="498.1" r="6.85"/><circle cx="1888.1" cy="540.1" r="6.85"/><circle cx="1726.6" cy="571.1" r="6.85"/><circle cx="1804" cy="606.2" r="6.85"/><circle cx="1659.3" cy="655.1" r="6.85"/><circle cx="1893.3" cy="655.1" r="6.85"/><circle cx="1757.4" cy="711.2" r="6.85"/><circle cx="1813.1" cy="711.2" r="6.85"/><circle cx="1694.1" cy="985.8" r="6.85"/><circle cx="1724.1" cy="985.8" r="6.85"/><circle cx="1785.2" cy="985.8" r="6.85"/><circle cx="1846.3" cy="985.8" r="6.85"/></g>
<line x1="1219.3" x2="1998" y1="799.9" y2="799.9" stroke="#000" stroke-width="3" stroke-dasharray="12.3 11.7"/>
<path class="ax" stroke-width="3" d="M1219.3 54.5V985.9"/>
<line x1="1211.7" x2="1997" y1="985.9" y2="985.9" stroke="#000" stroke-width="3"/>
<path class="ax" stroke-width="3" stroke-linecap="round" d="M1213 56.0H1243.6M1213 242.0H1243.6M1219.3 186.0H1227.2M1219.3 153.2H1227.2M1219.3 130.0H1227.2M1219.3 112.0H1234.8M1219.3 97.3H1227.2M1219.3 84.8H1227.2M1219.3 74.0H1227.2M1219.3 64.5H1227.2M1213 428.0H1243.6M1219.3 372.0H1227.2M1219.3 339.2H1227.2M1219.3 316.0H1227.2M1219.3 298.0H1234.8M1219.3 283.2H1227.2M1219.3 270.8H1227.2M1219.3 260.0H1227.2M1219.3 250.5H1227.2M1213 613.9H1243.6M1219.3 558.0H1227.2M1219.3 525.2H1227.2M1219.3 502.0H1227.2M1219.3 483.9H1234.8M1219.3 469.2H1227.2M1219.3 456.8H1227.2M1219.3 446.0H1227.2M1219.3 436.5H1227.2M1213 799.9H1243.6M1219.3 743.9H1227.2M1219.3 711.2H1227.2M1219.3 687.9H1227.2M1219.3 669.9H1234.8M1219.3 655.2H1227.2M1219.3 642.7H1227.2M1219.3 632.0H1227.2M1219.3 622.4H1227.2M1219.3 929.9H1227.2M1219.3 897.2H1227.2M1219.3 873.9H1227.2M1219.3 855.9H1234.8M1219.3 841.2H1227.2M1219.3 828.7H1227.2M1219.3 817.9H1227.2M1219.3 808.4H1227.2"/>
<text class="g e" x="1192.2" y="73.0" font-size="33">10</text>
<text class="g" x="1192.4" y="56.3" font-size="22" clip-path="url(#c5)">5</text>
<text class="g e" x="1192.2" y="259.0" font-size="33">10</text>
<text class="g" x="1192.4" y="242.3" font-size="22">4</text>
<text class="g e" x="1192.2" y="445.0" font-size="33">10</text>
<text class="g" x="1192.4" y="428.3" font-size="22">3</text>
<text class="g e" x="1192.2" y="630.9" font-size="33">10</text>
<text class="g" x="1192.4" y="614.2" font-size="22">2</text>
<text class="g e" x="1192.2" y="816.9" font-size="33">10</text>
<text class="g" x="1192.4" y="800.2" font-size="22">1</text>
<text class="g e" x="1192.2" y="1002.9" font-size="33">10</text>
<text class="g" x="1192.4" y="986.2" font-size="22">0</text>
<line x1="1431.7" x2="1431.7" y1="985.8" y2="993.5" stroke="#000" stroke-width="2.4"/>
<line x1="1785.2" x2="1785.2" y1="985.8" y2="993.5" stroke="#000" stroke-width="2.4"/>
<text class="b m" transform="translate(1138.2 521) rotate(-90)" font-size="39.5">PFU/ml</text>
<text class="m" x="1445" y="932.5" font-size="37">24</text>
<text class="m" x="1787.7" y="932.5" font-size="37">23</text>
<text class="g m" x="1432" y="1023.8" font-size="34">Unvaccinated</text>
<text class="g m" x="1785.4" y="1023.8" font-size="34">Vaccinated</text>
</g>
<g id="panelB">
<text class="b" x="-0.8" y="1159" font-size="62">B</text>
<rect x="266.4" y="1126.7" width="367.5" height="65.6" fill="#fff" stroke="#000" stroke-width="1.6"/>
<rect x="660.2" y="1126.7" width="367.5" height="65.6" fill="#fff" stroke="#000" stroke-width="1.6"/>
<rect x="1053.9" y="1126.7" width="367.5" height="65.6" fill="#fff" stroke="#000" stroke-width="1.6"/>
<text class="m" x="452.2" y="1176.9" font-size="47">symptomatic</text>
<text class="m" x="845.5" y="1175" font-size="47">asymptomatic</text>
<text class="m" x="1243.8" y="1172" font-size="47">unknown</text>
<text class="m" x="464.9" y="1241.8" font-size="34.6">d=0.12 (p&lt;0.0001)</text>
<text class="m" x="844.9" y="1237.2" font-size="34.6">d=0.06 (p=0.2947)</text>
<text class="m" x="1256" y="1233.3" font-size="34.6">d=0.15 (p&lt;0.0001)</text>
<line x1="343.7" x2="584.4" y1="1264.1" y2="1264.1" stroke="#000" stroke-width="2"/>
<line x1="750" x2="937.6" y1="1260.5" y2="1260.5" stroke="#000" stroke-width="2"/>
<line x1="1151.6" x2="1359.4" y1="1256.3" y2="1256.3" stroke="#000" stroke-width="2"/>
<path class="ax" stroke-width="2" d="M212 1267.2V1908.4H1493.4"/>
<line x1="191.5" x2="212" y1="1268.2" y2="1268.2" stroke="#000" stroke-width="2"/>
<text class="b e" x="184.3" y="1282.6" font-size="40.5">10</text>
<line x1="191.5" x2="212" y1="1451.2" y2="1451.2" stroke="#000" stroke-width="2"/>
<text class="b e" x="184.3" y="1465.6" font-size="40.5">20</text>
<line x1="191.5" x2="212" y1="1634.2" y2="1634.2" stroke="#000" stroke-width="2"/>
<text class="b e" x="184.3" y="1648.6" font-size="40.5">30</text>
<line x1="191.5" x2="212" y1="1817.2" y2="1817.2" stroke="#000" stroke-width="2"/>
<text class="b e" x="184.3" y="1831.6" font-size="40.5">40</text>
<line x1="346.2" x2="346.2" y1="1908.4" y2="1928.7" stroke="#000" stroke-width="2"/>
<line x1="548.1" x2="548.1" y1="1908.4" y2="1928.7" stroke="#000" stroke-width="2"/>
<line x1="750.4" x2="750.4" y1="1908.4" y2="1928.7" stroke="#000" stroke-width="2"/>
<line x1="952.2" x2="952.2" y1="1908.4" y2="1928.7" stroke="#000" stroke-width="2"/>
<line x1="1154" x2="1154" y1="1908.4" y2="1928.7" stroke="#000" stroke-width="2"/>
<line x1="1356.7" x2="1356.7" y1="1908.4" y2="1928.7" stroke="#000" stroke-width="2"/>
<text class="b m" transform="translate(114.3 1577.4) rotate(-90)" font-size="40.5">N1 Cycle Threshold</text>
<text class="m" x="344.7" y="1869.4" font-size="46">5,560</text>
<text class="m" x="548.5" y="1866.3" font-size="46">4,792</text>
<text class="m" x="750" y="1869.6" font-size="46">838</text>
<text class="m" x="947.8" y="1869.6" font-size="46">450</text>
<text class="m" x="1151.1" y="1869.6" font-size="46">4,686</text>
<text class="m" x="1356.9" y="1869.6" font-size="46">4,105</text>
<text class="m" x="344" y="1988.2" font-size="34.5">unvaccinated</text>
<text class="m" x="548.5" y="1988.2" font-size="34.5">vaccinated</text>
<text class="m" x="750.7" y="1988.2" font-size="34.5">unvaccinated</text>
<text class="m" x="950" y="1988.2" font-size="34.5">vaccinated</text>
<text class="m" x="1151.6" y="1988.2" font-size="34.5">unvaccinated</text>
<text class="m" x="1353.6" y="1988.2" font-size="34.5">vaccinated</text>
</g>
</svg></body></html>
